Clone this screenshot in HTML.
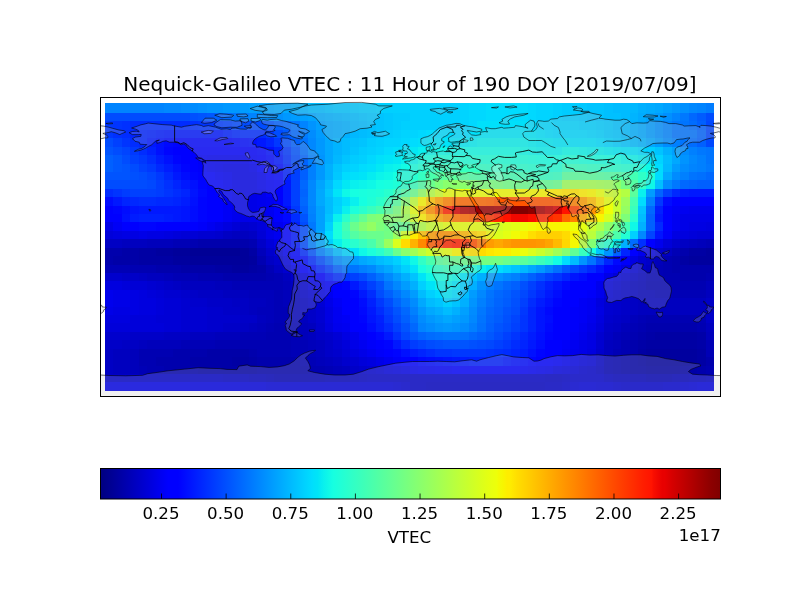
<!DOCTYPE html>
<html><head><meta charset="utf-8"><title>Nequick-Galileo VTEC</title>
<style>
html,body{margin:0;padding:0;background:#fff;}
body{width:800px;height:600px;overflow:hidden;}
svg{display:block;}
text{font-family:"DejaVu Sans","Liberation Sans",sans-serif;fill:#000;}
.t{font-size:20px;}
.l{font-size:16.67px;}
</style></head><body>
<svg width="800" height="600" viewBox="0 0 800 600">
<defs><linearGradient id="jet" x1="0" x2="1" y1="0" y2="0"><stop offset="0.0000" stop-color="#000080"/><stop offset="0.0156" stop-color="#000092"/><stop offset="0.0312" stop-color="#0000a4"/><stop offset="0.0469" stop-color="#0000b6"/><stop offset="0.0625" stop-color="#0000c8"/><stop offset="0.0781" stop-color="#0000da"/><stop offset="0.0938" stop-color="#0000ed"/><stop offset="0.1094" stop-color="#0000ff"/><stop offset="0.1100" stop-color="#0000ff"/><stop offset="0.1250" stop-color="#0000ff"/><stop offset="0.1406" stop-color="#0010ff"/><stop offset="0.1562" stop-color="#0020ff"/><stop offset="0.1719" stop-color="#0030ff"/><stop offset="0.1875" stop-color="#0040ff"/><stop offset="0.2031" stop-color="#0050ff"/><stop offset="0.2188" stop-color="#0060ff"/><stop offset="0.2344" stop-color="#0070ff"/><stop offset="0.2500" stop-color="#0080ff"/><stop offset="0.2656" stop-color="#0090ff"/><stop offset="0.2812" stop-color="#00a0ff"/><stop offset="0.2969" stop-color="#00b0ff"/><stop offset="0.3125" stop-color="#00c0ff"/><stop offset="0.3281" stop-color="#00d0ff"/><stop offset="0.3400" stop-color="#00dcfe"/><stop offset="0.3438" stop-color="#00e0fb"/><stop offset="0.3500" stop-color="#00e4f8"/><stop offset="0.3594" stop-color="#09f0ee"/><stop offset="0.3750" stop-color="#16ffe1"/><stop offset="0.3906" stop-color="#23ffd4"/><stop offset="0.4062" stop-color="#30ffc7"/><stop offset="0.4219" stop-color="#3cffba"/><stop offset="0.4375" stop-color="#49ffad"/><stop offset="0.4531" stop-color="#56ffa0"/><stop offset="0.4688" stop-color="#63ff94"/><stop offset="0.4844" stop-color="#70ff87"/><stop offset="0.5000" stop-color="#7dff7a"/><stop offset="0.5156" stop-color="#8aff6d"/><stop offset="0.5312" stop-color="#97ff60"/><stop offset="0.5469" stop-color="#a4ff53"/><stop offset="0.5625" stop-color="#b1ff46"/><stop offset="0.5781" stop-color="#beff39"/><stop offset="0.5938" stop-color="#caff2c"/><stop offset="0.6094" stop-color="#d7ff1f"/><stop offset="0.6250" stop-color="#e4ff13"/><stop offset="0.6400" stop-color="#eeff09"/><stop offset="0.6406" stop-color="#f1fc06"/><stop offset="0.6500" stop-color="#f8f500"/><stop offset="0.6562" stop-color="#feed00"/><stop offset="0.6600" stop-color="#feed00"/><stop offset="0.6719" stop-color="#ffde00"/><stop offset="0.6875" stop-color="#ffd000"/><stop offset="0.7031" stop-color="#ffc100"/><stop offset="0.7188" stop-color="#ffb200"/><stop offset="0.7344" stop-color="#ffa300"/><stop offset="0.7500" stop-color="#ff9400"/><stop offset="0.7656" stop-color="#ff8600"/><stop offset="0.7812" stop-color="#ff7700"/><stop offset="0.7969" stop-color="#ff6800"/><stop offset="0.8125" stop-color="#ff5900"/><stop offset="0.8281" stop-color="#ff4a00"/><stop offset="0.8438" stop-color="#ff3b00"/><stop offset="0.8594" stop-color="#ff2d00"/><stop offset="0.8750" stop-color="#ff1e00"/><stop offset="0.8900" stop-color="#ff1300"/><stop offset="0.8906" stop-color="#fa0f00"/><stop offset="0.9062" stop-color="#e80000"/><stop offset="0.9100" stop-color="#e80000"/><stop offset="0.9219" stop-color="#d60000"/><stop offset="0.9375" stop-color="#c40000"/><stop offset="0.9531" stop-color="#b20000"/><stop offset="0.9688" stop-color="#9f0000"/><stop offset="0.9844" stop-color="#8d0000"/><stop offset="1.0000" stop-color="#800000"/></linearGradient>
<clipPath id="mapclip"><rect x="100.5" y="97.5" width="620" height="299"/></clipPath>
<clipPath id="heatclip"><rect x="105" y="103" width="609" height="288"/></clipPath></defs>
<rect width="800" height="600" fill="#fff"/>

<g id="heat" clip-path="url(#heatclip)" shape-rendering="crispEdges">
<rect x="105" y="103" width="59" height="10" fill="#0084ff"/>
<rect x="164" y="103" width="17" height="10" fill="#0088ff"/>
<rect x="181" y="103" width="17" height="10" fill="#008cff"/>
<rect x="198" y="103" width="9" height="10" fill="#0090ff"/>
<rect x="207" y="103" width="16" height="10" fill="#0094ff"/>
<rect x="223" y="103" width="17" height="10" fill="#0098ff"/>
<rect x="240" y="103" width="9" height="10" fill="#009cff"/>
<rect x="249" y="103" width="17" height="10" fill="#00a0ff"/>
<rect x="266" y="103" width="8" height="10" fill="#00a4ff"/>
<rect x="274" y="103" width="17" height="10" fill="#00a8ff"/>
<rect x="291" y="103" width="9" height="10" fill="#00b0ff"/>
<rect x="300" y="103" width="8" height="10" fill="#00b4ff"/>
<rect x="308" y="103" width="17" height="10" fill="#00bcff"/>
<rect x="325" y="103" width="8" height="10" fill="#00c0ff"/>
<rect x="333" y="103" width="17" height="10" fill="#00c4ff"/>
<rect x="350" y="103" width="9" height="10" fill="#00c8ff"/>
<rect x="359" y="103" width="17" height="10" fill="#00ccff"/>
<rect x="376" y="103" width="84" height="10" fill="#00d0ff"/>
<rect x="460" y="103" width="9" height="10" fill="#00d4ff"/>
<rect x="469" y="103" width="17" height="10" fill="#00d8ff"/>
<rect x="486" y="103" width="42" height="10" fill="#00dcfe"/>
<rect x="528" y="103" width="8" height="10" fill="#00d8ff"/>
<rect x="536" y="103" width="17" height="10" fill="#00d4ff"/>
<rect x="553" y="103" width="9" height="10" fill="#00d0ff"/>
<rect x="562" y="103" width="17" height="10" fill="#00ccff"/>
<rect x="579" y="103" width="8" height="10" fill="#00c8ff"/>
<rect x="587" y="103" width="17" height="10" fill="#00c4ff"/>
<rect x="604" y="103" width="9" height="10" fill="#00c0ff"/>
<rect x="613" y="103" width="17" height="10" fill="#00bcff"/>
<rect x="630" y="103" width="8" height="10" fill="#00b8ff"/>
<rect x="638" y="103" width="8" height="10" fill="#00b0ff"/>
<rect x="646" y="103" width="9" height="10" fill="#00acff"/>
<rect x="655" y="103" width="8" height="10" fill="#00a8ff"/>
<rect x="663" y="103" width="9" height="10" fill="#00a0ff"/>
<rect x="672" y="103" width="8" height="10" fill="#0098ff"/>
<rect x="680" y="103" width="9" height="10" fill="#0090ff"/>
<rect x="689" y="103" width="8" height="10" fill="#0088ff"/>
<rect x="697" y="103" width="9" height="10" fill="#0084ff"/>
<rect x="706" y="103" width="8" height="10" fill="#007cff"/>
<rect x="105" y="113" width="85" height="8" fill="#004cff"/>
<rect x="190" y="113" width="8" height="8" fill="#0050ff"/>
<rect x="198" y="113" width="9" height="8" fill="#0054ff"/>
<rect x="207" y="113" width="8" height="8" fill="#0058ff"/>
<rect x="215" y="113" width="8" height="8" fill="#0060ff"/>
<rect x="223" y="113" width="9" height="8" fill="#0068ff"/>
<rect x="232" y="113" width="8" height="8" fill="#0074ff"/>
<rect x="240" y="113" width="9" height="8" fill="#007cff"/>
<rect x="249" y="113" width="8" height="8" fill="#0084ff"/>
<rect x="257" y="113" width="9" height="8" fill="#0088ff"/>
<rect x="266" y="113" width="8" height="8" fill="#008cff"/>
<rect x="274" y="113" width="9" height="8" fill="#0090ff"/>
<rect x="283" y="113" width="8" height="8" fill="#0098ff"/>
<rect x="291" y="113" width="9" height="8" fill="#009cff"/>
<rect x="300" y="113" width="8" height="8" fill="#00a0ff"/>
<rect x="308" y="113" width="8" height="8" fill="#00a4ff"/>
<rect x="316" y="113" width="9" height="8" fill="#00acff"/>
<rect x="325" y="113" width="8" height="8" fill="#00b0ff"/>
<rect x="333" y="113" width="9" height="8" fill="#00b4ff"/>
<rect x="342" y="113" width="8" height="8" fill="#00b8ff"/>
<rect x="350" y="113" width="9" height="8" fill="#00bcff"/>
<rect x="359" y="113" width="8" height="8" fill="#00c0ff"/>
<rect x="367" y="113" width="17" height="8" fill="#00c4ff"/>
<rect x="384" y="113" width="9" height="8" fill="#00c8ff"/>
<rect x="393" y="113" width="17" height="8" fill="#00ccff"/>
<rect x="410" y="113" width="50" height="8" fill="#00d0ff"/>
<rect x="460" y="113" width="9" height="8" fill="#00d4ff"/>
<rect x="469" y="113" width="17" height="8" fill="#00d8ff"/>
<rect x="486" y="113" width="42" height="8" fill="#00dcfe"/>
<rect x="528" y="113" width="8" height="8" fill="#00d8ff"/>
<rect x="536" y="113" width="17" height="8" fill="#00d4ff"/>
<rect x="553" y="113" width="9" height="8" fill="#00d0ff"/>
<rect x="562" y="113" width="17" height="8" fill="#00ccff"/>
<rect x="579" y="113" width="8" height="8" fill="#00c8ff"/>
<rect x="587" y="113" width="17" height="8" fill="#00c4ff"/>
<rect x="604" y="113" width="17" height="8" fill="#00c0ff"/>
<rect x="621" y="113" width="9" height="8" fill="#00bcff"/>
<rect x="630" y="113" width="8" height="8" fill="#00b4ff"/>
<rect x="638" y="113" width="8" height="8" fill="#00acff"/>
<rect x="646" y="113" width="9" height="8" fill="#00a4ff"/>
<rect x="655" y="113" width="8" height="8" fill="#009cff"/>
<rect x="663" y="113" width="9" height="8" fill="#0090ff"/>
<rect x="672" y="113" width="8" height="8" fill="#0084ff"/>
<rect x="680" y="113" width="9" height="8" fill="#0078ff"/>
<rect x="689" y="113" width="8" height="8" fill="#0068ff"/>
<rect x="697" y="113" width="9" height="8" fill="#005cff"/>
<rect x="706" y="113" width="8" height="8" fill="#004cff"/>
<rect x="105" y="121" width="8" height="9" fill="#0038ff"/>
<rect x="113" y="121" width="9" height="9" fill="#0034ff"/>
<rect x="122" y="121" width="8" height="9" fill="#0030ff"/>
<rect x="130" y="121" width="60" height="9" fill="#002cff"/>
<rect x="190" y="121" width="8" height="9" fill="#0030ff"/>
<rect x="198" y="121" width="17" height="9" fill="#0034ff"/>
<rect x="215" y="121" width="8" height="9" fill="#003cff"/>
<rect x="223" y="121" width="9" height="9" fill="#0040ff"/>
<rect x="232" y="121" width="8" height="9" fill="#0048ff"/>
<rect x="240" y="121" width="26" height="9" fill="#004cff"/>
<rect x="266" y="121" width="8" height="9" fill="#0054ff"/>
<rect x="274" y="121" width="9" height="9" fill="#0060ff"/>
<rect x="283" y="121" width="8" height="9" fill="#0068ff"/>
<rect x="291" y="121" width="9" height="9" fill="#0074ff"/>
<rect x="300" y="121" width="8" height="9" fill="#0084ff"/>
<rect x="308" y="121" width="8" height="9" fill="#0094ff"/>
<rect x="316" y="121" width="9" height="9" fill="#00a0ff"/>
<rect x="325" y="121" width="8" height="9" fill="#00a8ff"/>
<rect x="333" y="121" width="9" height="9" fill="#00acff"/>
<rect x="342" y="121" width="8" height="9" fill="#00b0ff"/>
<rect x="350" y="121" width="9" height="9" fill="#00b8ff"/>
<rect x="359" y="121" width="8" height="9" fill="#00bcff"/>
<rect x="367" y="121" width="9" height="9" fill="#00c0ff"/>
<rect x="376" y="121" width="8" height="9" fill="#00c4ff"/>
<rect x="384" y="121" width="9" height="9" fill="#00c8ff"/>
<rect x="393" y="121" width="8" height="9" fill="#00ccff"/>
<rect x="401" y="121" width="59" height="9" fill="#00d0ff"/>
<rect x="460" y="121" width="9" height="9" fill="#00d4ff"/>
<rect x="469" y="121" width="8" height="9" fill="#00d8ff"/>
<rect x="477" y="121" width="51" height="9" fill="#00e0fb"/>
<rect x="528" y="121" width="8" height="9" fill="#00dcfe"/>
<rect x="536" y="121" width="17" height="9" fill="#00d8ff"/>
<rect x="553" y="121" width="26" height="9" fill="#00d4ff"/>
<rect x="579" y="121" width="17" height="9" fill="#00d0ff"/>
<rect x="596" y="121" width="8" height="9" fill="#00ccff"/>
<rect x="604" y="121" width="9" height="9" fill="#00c8ff"/>
<rect x="613" y="121" width="8" height="9" fill="#00c0ff"/>
<rect x="621" y="121" width="9" height="9" fill="#00bcff"/>
<rect x="630" y="121" width="8" height="9" fill="#00b0ff"/>
<rect x="638" y="121" width="8" height="9" fill="#00a8ff"/>
<rect x="646" y="121" width="9" height="9" fill="#009cff"/>
<rect x="655" y="121" width="8" height="9" fill="#0090ff"/>
<rect x="663" y="121" width="9" height="9" fill="#0084ff"/>
<rect x="672" y="121" width="8" height="9" fill="#0078ff"/>
<rect x="680" y="121" width="9" height="9" fill="#0074ff"/>
<rect x="689" y="121" width="8" height="9" fill="#006cff"/>
<rect x="697" y="121" width="9" height="9" fill="#0060ff"/>
<rect x="706" y="121" width="8" height="9" fill="#0048ff"/>
<rect x="105" y="130" width="8" height="8" fill="#0038ff"/>
<rect x="113" y="130" width="9" height="8" fill="#0030ff"/>
<rect x="122" y="130" width="8" height="8" fill="#002cff"/>
<rect x="130" y="130" width="17" height="8" fill="#0024ff"/>
<rect x="147" y="130" width="9" height="8" fill="#0020ff"/>
<rect x="156" y="130" width="8" height="8" fill="#001cff"/>
<rect x="164" y="130" width="59" height="8" fill="#0018ff"/>
<rect x="223" y="130" width="9" height="8" fill="#0020ff"/>
<rect x="232" y="130" width="8" height="8" fill="#0028ff"/>
<rect x="240" y="130" width="26" height="8" fill="#002cff"/>
<rect x="266" y="130" width="8" height="8" fill="#0038ff"/>
<rect x="274" y="130" width="9" height="8" fill="#004cff"/>
<rect x="283" y="130" width="8" height="8" fill="#0058ff"/>
<rect x="291" y="130" width="9" height="8" fill="#0068ff"/>
<rect x="300" y="130" width="8" height="8" fill="#007cff"/>
<rect x="308" y="130" width="8" height="8" fill="#008cff"/>
<rect x="316" y="130" width="9" height="8" fill="#009cff"/>
<rect x="325" y="130" width="8" height="8" fill="#00a8ff"/>
<rect x="333" y="130" width="9" height="8" fill="#00acff"/>
<rect x="342" y="130" width="8" height="8" fill="#00b0ff"/>
<rect x="350" y="130" width="9" height="8" fill="#00b8ff"/>
<rect x="359" y="130" width="8" height="8" fill="#00bcff"/>
<rect x="367" y="130" width="9" height="8" fill="#00c0ff"/>
<rect x="376" y="130" width="8" height="8" fill="#00c4ff"/>
<rect x="384" y="130" width="9" height="8" fill="#00ccff"/>
<rect x="393" y="130" width="8" height="8" fill="#00d0ff"/>
<rect x="401" y="130" width="17" height="8" fill="#00d4ff"/>
<rect x="418" y="130" width="8" height="8" fill="#00d8ff"/>
<rect x="426" y="130" width="43" height="8" fill="#00dcfe"/>
<rect x="469" y="130" width="8" height="8" fill="#00e0fb"/>
<rect x="477" y="130" width="59" height="8" fill="#00e4f8"/>
<rect x="536" y="130" width="9" height="8" fill="#00e0fb"/>
<rect x="545" y="130" width="8" height="8" fill="#00dcfe"/>
<rect x="553" y="130" width="34" height="8" fill="#00d8ff"/>
<rect x="587" y="130" width="9" height="8" fill="#00d4ff"/>
<rect x="596" y="130" width="8" height="8" fill="#00d0ff"/>
<rect x="604" y="130" width="9" height="8" fill="#00c8ff"/>
<rect x="613" y="130" width="8" height="8" fill="#00c4ff"/>
<rect x="621" y="130" width="9" height="8" fill="#00bcff"/>
<rect x="630" y="130" width="8" height="8" fill="#00b0ff"/>
<rect x="638" y="130" width="8" height="8" fill="#00a8ff"/>
<rect x="646" y="130" width="9" height="8" fill="#009cff"/>
<rect x="655" y="130" width="8" height="8" fill="#0090ff"/>
<rect x="663" y="130" width="9" height="8" fill="#0084ff"/>
<rect x="672" y="130" width="25" height="8" fill="#0074ff"/>
<rect x="697" y="130" width="9" height="8" fill="#0064ff"/>
<rect x="706" y="130" width="8" height="8" fill="#0044ff"/>
<rect x="105" y="138" width="8" height="9" fill="#004cff"/>
<rect x="113" y="138" width="9" height="9" fill="#0040ff"/>
<rect x="122" y="138" width="8" height="9" fill="#0034ff"/>
<rect x="130" y="138" width="9" height="9" fill="#002cff"/>
<rect x="139" y="138" width="8" height="9" fill="#0024ff"/>
<rect x="147" y="138" width="9" height="9" fill="#0018ff"/>
<rect x="156" y="138" width="8" height="9" fill="#0010ff"/>
<rect x="164" y="138" width="9" height="9" fill="#0008ff"/>
<rect x="173" y="138" width="59" height="9" fill="#0004ff"/>
<rect x="232" y="138" width="8" height="9" fill="#0008ff"/>
<rect x="240" y="138" width="9" height="9" fill="#000cff"/>
<rect x="249" y="138" width="8" height="9" fill="#0010ff"/>
<rect x="257" y="138" width="9" height="9" fill="#0018ff"/>
<rect x="266" y="138" width="8" height="9" fill="#0024ff"/>
<rect x="274" y="138" width="9" height="9" fill="#0038ff"/>
<rect x="283" y="138" width="8" height="9" fill="#004cff"/>
<rect x="291" y="138" width="9" height="9" fill="#0060ff"/>
<rect x="300" y="138" width="8" height="9" fill="#0074ff"/>
<rect x="308" y="138" width="8" height="9" fill="#0088ff"/>
<rect x="316" y="138" width="9" height="9" fill="#0098ff"/>
<rect x="325" y="138" width="8" height="9" fill="#00a8ff"/>
<rect x="333" y="138" width="9" height="9" fill="#00b4ff"/>
<rect x="342" y="138" width="8" height="9" fill="#00bcff"/>
<rect x="350" y="138" width="9" height="9" fill="#00c0ff"/>
<rect x="359" y="138" width="8" height="9" fill="#00c4ff"/>
<rect x="367" y="138" width="9" height="9" fill="#00ccff"/>
<rect x="376" y="138" width="8" height="9" fill="#00d0ff"/>
<rect x="384" y="138" width="17" height="9" fill="#00d4ff"/>
<rect x="401" y="138" width="9" height="9" fill="#00d8ff"/>
<rect x="410" y="138" width="8" height="9" fill="#00dcfe"/>
<rect x="418" y="138" width="8" height="9" fill="#00e0fb"/>
<rect x="426" y="138" width="34" height="9" fill="#00e4f8"/>
<rect x="460" y="138" width="9" height="9" fill="#02e8f4"/>
<rect x="469" y="138" width="8" height="9" fill="#06ecf1"/>
<rect x="477" y="138" width="51" height="9" fill="#09f0ee"/>
<rect x="528" y="138" width="8" height="9" fill="#06ecf1"/>
<rect x="536" y="138" width="17" height="9" fill="#02e8f4"/>
<rect x="553" y="138" width="17" height="9" fill="#00e4f8"/>
<rect x="570" y="138" width="26" height="9" fill="#00e0fb"/>
<rect x="596" y="138" width="8" height="9" fill="#00dcfe"/>
<rect x="604" y="138" width="9" height="9" fill="#00d4ff"/>
<rect x="613" y="138" width="8" height="9" fill="#00ccff"/>
<rect x="621" y="138" width="9" height="9" fill="#00c4ff"/>
<rect x="630" y="138" width="8" height="9" fill="#00bcff"/>
<rect x="638" y="138" width="8" height="9" fill="#00b4ff"/>
<rect x="646" y="138" width="9" height="9" fill="#00a8ff"/>
<rect x="655" y="138" width="8" height="9" fill="#009cff"/>
<rect x="663" y="138" width="9" height="9" fill="#008cff"/>
<rect x="672" y="138" width="8" height="9" fill="#0080ff"/>
<rect x="680" y="138" width="9" height="9" fill="#0074ff"/>
<rect x="689" y="138" width="8" height="9" fill="#006cff"/>
<rect x="697" y="138" width="9" height="9" fill="#0060ff"/>
<rect x="706" y="138" width="8" height="9" fill="#0048ff"/>
<rect x="105" y="147" width="8" height="8" fill="#0054ff"/>
<rect x="113" y="147" width="9" height="8" fill="#004cff"/>
<rect x="122" y="147" width="8" height="8" fill="#0044ff"/>
<rect x="130" y="147" width="9" height="8" fill="#0038ff"/>
<rect x="139" y="147" width="8" height="8" fill="#002cff"/>
<rect x="147" y="147" width="9" height="8" fill="#0020ff"/>
<rect x="156" y="147" width="8" height="8" fill="#0010ff"/>
<rect x="164" y="147" width="9" height="8" fill="#0004ff"/>
<rect x="173" y="147" width="84" height="8" fill="#0000ff"/>
<rect x="257" y="147" width="9" height="8" fill="#0004ff"/>
<rect x="266" y="147" width="8" height="8" fill="#0010ff"/>
<rect x="274" y="147" width="9" height="8" fill="#0020ff"/>
<rect x="283" y="147" width="8" height="8" fill="#0038ff"/>
<rect x="291" y="147" width="9" height="8" fill="#0054ff"/>
<rect x="300" y="147" width="8" height="8" fill="#0070ff"/>
<rect x="308" y="147" width="8" height="8" fill="#0088ff"/>
<rect x="316" y="147" width="9" height="8" fill="#0098ff"/>
<rect x="325" y="147" width="8" height="8" fill="#00a8ff"/>
<rect x="333" y="147" width="9" height="8" fill="#00b4ff"/>
<rect x="342" y="147" width="8" height="8" fill="#00bcff"/>
<rect x="350" y="147" width="9" height="8" fill="#00c4ff"/>
<rect x="359" y="147" width="8" height="8" fill="#00ccff"/>
<rect x="367" y="147" width="9" height="8" fill="#00d0ff"/>
<rect x="376" y="147" width="8" height="8" fill="#00d4ff"/>
<rect x="384" y="147" width="9" height="8" fill="#00dcfe"/>
<rect x="393" y="147" width="8" height="8" fill="#00e0fb"/>
<rect x="401" y="147" width="9" height="8" fill="#00e4f8"/>
<rect x="410" y="147" width="8" height="8" fill="#02e8f4"/>
<rect x="418" y="147" width="8" height="8" fill="#09f0ee"/>
<rect x="426" y="147" width="9" height="8" fill="#0cf4eb"/>
<rect x="435" y="147" width="25" height="8" fill="#0ff8e7"/>
<rect x="460" y="147" width="60" height="8" fill="#13fce4"/>
<rect x="520" y="147" width="8" height="8" fill="#0ff8e7"/>
<rect x="528" y="147" width="8" height="8" fill="#0cf4eb"/>
<rect x="536" y="147" width="26" height="8" fill="#09f0ee"/>
<rect x="562" y="147" width="17" height="8" fill="#0ff8e7"/>
<rect x="579" y="147" width="8" height="8" fill="#0cf4eb"/>
<rect x="587" y="147" width="17" height="8" fill="#09f0ee"/>
<rect x="604" y="147" width="9" height="8" fill="#06ecf1"/>
<rect x="613" y="147" width="8" height="8" fill="#02e8f4"/>
<rect x="621" y="147" width="9" height="8" fill="#00e4f8"/>
<rect x="630" y="147" width="8" height="8" fill="#00e0fb"/>
<rect x="638" y="147" width="8" height="8" fill="#00d8ff"/>
<rect x="646" y="147" width="9" height="8" fill="#00d0ff"/>
<rect x="655" y="147" width="8" height="8" fill="#00c4ff"/>
<rect x="663" y="147" width="9" height="8" fill="#00b0ff"/>
<rect x="672" y="147" width="8" height="8" fill="#00a0ff"/>
<rect x="680" y="147" width="9" height="8" fill="#008cff"/>
<rect x="689" y="147" width="8" height="8" fill="#0080ff"/>
<rect x="697" y="147" width="9" height="8" fill="#0078ff"/>
<rect x="706" y="147" width="8" height="8" fill="#0074ff"/>
<rect x="105" y="155" width="8" height="9" fill="#0060ff"/>
<rect x="113" y="155" width="9" height="9" fill="#0058ff"/>
<rect x="122" y="155" width="8" height="9" fill="#004cff"/>
<rect x="130" y="155" width="9" height="9" fill="#0040ff"/>
<rect x="139" y="155" width="8" height="9" fill="#0038ff"/>
<rect x="147" y="155" width="9" height="9" fill="#002cff"/>
<rect x="156" y="155" width="8" height="9" fill="#001cff"/>
<rect x="164" y="155" width="9" height="9" fill="#0010ff"/>
<rect x="173" y="155" width="8" height="9" fill="#0004ff"/>
<rect x="181" y="155" width="17" height="9" fill="#0000ff"/>
<rect x="198" y="155" width="9" height="9" fill="#0000f6"/>
<rect x="207" y="155" width="42" height="9" fill="#0000f1"/>
<rect x="249" y="155" width="8" height="9" fill="#0000fa"/>
<rect x="257" y="155" width="9" height="9" fill="#0000ff"/>
<rect x="266" y="155" width="8" height="9" fill="#0008ff"/>
<rect x="274" y="155" width="9" height="9" fill="#0018ff"/>
<rect x="283" y="155" width="8" height="9" fill="#0030ff"/>
<rect x="291" y="155" width="9" height="9" fill="#004cff"/>
<rect x="300" y="155" width="8" height="9" fill="#0064ff"/>
<rect x="308" y="155" width="8" height="9" fill="#0080ff"/>
<rect x="316" y="155" width="9" height="9" fill="#0094ff"/>
<rect x="325" y="155" width="8" height="9" fill="#00a8ff"/>
<rect x="333" y="155" width="9" height="9" fill="#00b8ff"/>
<rect x="342" y="155" width="8" height="9" fill="#00c4ff"/>
<rect x="350" y="155" width="9" height="9" fill="#00ccff"/>
<rect x="359" y="155" width="8" height="9" fill="#00d0ff"/>
<rect x="367" y="155" width="9" height="9" fill="#00d8ff"/>
<rect x="376" y="155" width="8" height="9" fill="#00e0fb"/>
<rect x="384" y="155" width="9" height="9" fill="#00e4f8"/>
<rect x="393" y="155" width="8" height="9" fill="#02e8f4"/>
<rect x="401" y="155" width="9" height="9" fill="#09f0ee"/>
<rect x="410" y="155" width="8" height="9" fill="#0cf4eb"/>
<rect x="418" y="155" width="8" height="9" fill="#16ffe1"/>
<rect x="426" y="155" width="9" height="9" fill="#1cffdb"/>
<rect x="435" y="155" width="76" height="9" fill="#1fffd7"/>
<rect x="511" y="155" width="17" height="9" fill="#1cffdb"/>
<rect x="528" y="155" width="8" height="9" fill="#19ffde"/>
<rect x="536" y="155" width="26" height="9" fill="#16ffe1"/>
<rect x="562" y="155" width="17" height="9" fill="#1fffd7"/>
<rect x="579" y="155" width="8" height="9" fill="#1cffdb"/>
<rect x="587" y="155" width="17" height="9" fill="#19ffde"/>
<rect x="604" y="155" width="17" height="9" fill="#16ffe1"/>
<rect x="621" y="155" width="9" height="9" fill="#0ff8e7"/>
<rect x="630" y="155" width="8" height="9" fill="#0cf4eb"/>
<rect x="638" y="155" width="8" height="9" fill="#06ecf1"/>
<rect x="646" y="155" width="9" height="9" fill="#00e4f8"/>
<rect x="655" y="155" width="8" height="9" fill="#00d4ff"/>
<rect x="663" y="155" width="9" height="9" fill="#00bcff"/>
<rect x="672" y="155" width="8" height="9" fill="#00a8ff"/>
<rect x="680" y="155" width="9" height="9" fill="#0094ff"/>
<rect x="689" y="155" width="8" height="9" fill="#0088ff"/>
<rect x="697" y="155" width="9" height="9" fill="#0080ff"/>
<rect x="706" y="155" width="8" height="9" fill="#0074ff"/>
<rect x="105" y="164" width="8" height="8" fill="#0060ff"/>
<rect x="113" y="164" width="9" height="8" fill="#0058ff"/>
<rect x="122" y="164" width="8" height="8" fill="#0054ff"/>
<rect x="130" y="164" width="9" height="8" fill="#004cff"/>
<rect x="139" y="164" width="8" height="8" fill="#0040ff"/>
<rect x="147" y="164" width="9" height="8" fill="#0038ff"/>
<rect x="156" y="164" width="8" height="8" fill="#0028ff"/>
<rect x="164" y="164" width="9" height="8" fill="#001cff"/>
<rect x="173" y="164" width="8" height="8" fill="#0010ff"/>
<rect x="181" y="164" width="9" height="8" fill="#0004ff"/>
<rect x="190" y="164" width="8" height="8" fill="#0000ff"/>
<rect x="198" y="164" width="9" height="8" fill="#0000fa"/>
<rect x="207" y="164" width="8" height="8" fill="#0000f1"/>
<rect x="215" y="164" width="8" height="8" fill="#0000ed"/>
<rect x="223" y="164" width="26" height="8" fill="#0000e8"/>
<rect x="249" y="164" width="8" height="8" fill="#0000ed"/>
<rect x="257" y="164" width="17" height="8" fill="#0000ff"/>
<rect x="274" y="164" width="9" height="8" fill="#000cff"/>
<rect x="283" y="164" width="8" height="8" fill="#0024ff"/>
<rect x="291" y="164" width="9" height="8" fill="#0040ff"/>
<rect x="300" y="164" width="8" height="8" fill="#0060ff"/>
<rect x="308" y="164" width="8" height="8" fill="#0080ff"/>
<rect x="316" y="164" width="9" height="8" fill="#0098ff"/>
<rect x="325" y="164" width="8" height="8" fill="#00b0ff"/>
<rect x="333" y="164" width="9" height="8" fill="#00c4ff"/>
<rect x="342" y="164" width="8" height="8" fill="#00d0ff"/>
<rect x="350" y="164" width="9" height="8" fill="#00d4ff"/>
<rect x="359" y="164" width="8" height="8" fill="#00dcfe"/>
<rect x="367" y="164" width="9" height="8" fill="#00e0fb"/>
<rect x="376" y="164" width="8" height="8" fill="#02e8f4"/>
<rect x="384" y="164" width="9" height="8" fill="#09f0ee"/>
<rect x="393" y="164" width="8" height="8" fill="#0cf4eb"/>
<rect x="401" y="164" width="9" height="8" fill="#13fce4"/>
<rect x="410" y="164" width="8" height="8" fill="#19ffde"/>
<rect x="418" y="164" width="8" height="8" fill="#26ffd1"/>
<rect x="426" y="164" width="9" height="8" fill="#30ffc7"/>
<rect x="435" y="164" width="25" height="8" fill="#39ffbe"/>
<rect x="460" y="164" width="17" height="8" fill="#36ffc1"/>
<rect x="477" y="164" width="9" height="8" fill="#33ffc4"/>
<rect x="486" y="164" width="17" height="8" fill="#30ffc7"/>
<rect x="503" y="164" width="8" height="8" fill="#2cffca"/>
<rect x="511" y="164" width="17" height="8" fill="#29ffce"/>
<rect x="528" y="164" width="8" height="8" fill="#26ffd1"/>
<rect x="536" y="164" width="9" height="8" fill="#23ffd4"/>
<rect x="545" y="164" width="8" height="8" fill="#1fffd7"/>
<rect x="553" y="164" width="9" height="8" fill="#23ffd4"/>
<rect x="562" y="164" width="17" height="8" fill="#39ffbe"/>
<rect x="579" y="164" width="8" height="8" fill="#36ffc1"/>
<rect x="587" y="164" width="9" height="8" fill="#33ffc4"/>
<rect x="596" y="164" width="8" height="8" fill="#30ffc7"/>
<rect x="604" y="164" width="9" height="8" fill="#2cffca"/>
<rect x="613" y="164" width="8" height="8" fill="#29ffce"/>
<rect x="621" y="164" width="9" height="8" fill="#26ffd1"/>
<rect x="630" y="164" width="8" height="8" fill="#1fffd7"/>
<rect x="638" y="164" width="8" height="8" fill="#19ffde"/>
<rect x="646" y="164" width="9" height="8" fill="#0ff8e7"/>
<rect x="655" y="164" width="8" height="8" fill="#00dcfe"/>
<rect x="663" y="164" width="9" height="8" fill="#00b8ff"/>
<rect x="672" y="164" width="8" height="8" fill="#009cff"/>
<rect x="680" y="164" width="9" height="8" fill="#008cff"/>
<rect x="689" y="164" width="8" height="8" fill="#0084ff"/>
<rect x="697" y="164" width="9" height="8" fill="#0080ff"/>
<rect x="706" y="164" width="8" height="8" fill="#0078ff"/>
<rect x="105" y="172" width="25" height="8" fill="#0054ff"/>
<rect x="130" y="172" width="9" height="8" fill="#0050ff"/>
<rect x="139" y="172" width="8" height="8" fill="#004cff"/>
<rect x="147" y="172" width="9" height="8" fill="#0044ff"/>
<rect x="156" y="172" width="8" height="8" fill="#0038ff"/>
<rect x="164" y="172" width="9" height="8" fill="#0028ff"/>
<rect x="173" y="172" width="8" height="8" fill="#0018ff"/>
<rect x="181" y="172" width="9" height="8" fill="#000cff"/>
<rect x="190" y="172" width="8" height="8" fill="#0004ff"/>
<rect x="198" y="172" width="17" height="8" fill="#0000ff"/>
<rect x="215" y="172" width="8" height="8" fill="#0000f6"/>
<rect x="223" y="172" width="9" height="8" fill="#0000f1"/>
<rect x="232" y="172" width="25" height="8" fill="#0000e8"/>
<rect x="257" y="172" width="9" height="8" fill="#0000f1"/>
<rect x="266" y="172" width="8" height="8" fill="#0000ff"/>
<rect x="274" y="172" width="9" height="8" fill="#0004ff"/>
<rect x="283" y="172" width="8" height="8" fill="#0020ff"/>
<rect x="291" y="172" width="9" height="8" fill="#0040ff"/>
<rect x="300" y="172" width="8" height="8" fill="#0060ff"/>
<rect x="308" y="172" width="8" height="8" fill="#0080ff"/>
<rect x="316" y="172" width="9" height="8" fill="#0098ff"/>
<rect x="325" y="172" width="8" height="8" fill="#00b0ff"/>
<rect x="333" y="172" width="9" height="8" fill="#00c8ff"/>
<rect x="342" y="172" width="8" height="8" fill="#00dcfe"/>
<rect x="350" y="172" width="9" height="8" fill="#00e0fb"/>
<rect x="359" y="172" width="8" height="8" fill="#00e4f8"/>
<rect x="367" y="172" width="9" height="8" fill="#06ecf1"/>
<rect x="376" y="172" width="8" height="8" fill="#0cf4eb"/>
<rect x="384" y="172" width="9" height="8" fill="#0ff8e7"/>
<rect x="393" y="172" width="8" height="8" fill="#16ffe1"/>
<rect x="401" y="172" width="9" height="8" fill="#1cffdb"/>
<rect x="410" y="172" width="8" height="8" fill="#26ffd1"/>
<rect x="418" y="172" width="8" height="8" fill="#36ffc1"/>
<rect x="426" y="172" width="9" height="8" fill="#49ffad"/>
<rect x="435" y="172" width="8" height="8" fill="#53ffa4"/>
<rect x="443" y="172" width="17" height="8" fill="#5aff9d"/>
<rect x="460" y="172" width="9" height="8" fill="#56ffa0"/>
<rect x="469" y="172" width="8" height="8" fill="#50ffa7"/>
<rect x="477" y="172" width="9" height="8" fill="#4dffaa"/>
<rect x="486" y="172" width="8" height="8" fill="#49ffad"/>
<rect x="494" y="172" width="17" height="8" fill="#46ffb1"/>
<rect x="511" y="172" width="9" height="8" fill="#43ffb4"/>
<rect x="520" y="172" width="8" height="8" fill="#40ffb7"/>
<rect x="528" y="172" width="8" height="8" fill="#3cffba"/>
<rect x="536" y="172" width="9" height="8" fill="#36ffc1"/>
<rect x="545" y="172" width="8" height="8" fill="#33ffc4"/>
<rect x="553" y="172" width="9" height="8" fill="#36ffc1"/>
<rect x="562" y="172" width="34" height="8" fill="#5aff9d"/>
<rect x="596" y="172" width="8" height="8" fill="#56ffa0"/>
<rect x="604" y="172" width="17" height="8" fill="#53ffa4"/>
<rect x="621" y="172" width="9" height="8" fill="#49ffad"/>
<rect x="630" y="172" width="8" height="8" fill="#43ffb4"/>
<rect x="638" y="172" width="8" height="8" fill="#30ffc7"/>
<rect x="646" y="172" width="9" height="8" fill="#1fffd7"/>
<rect x="655" y="172" width="8" height="8" fill="#00dcfe"/>
<rect x="663" y="172" width="9" height="8" fill="#00a8ff"/>
<rect x="672" y="172" width="8" height="8" fill="#008cff"/>
<rect x="680" y="172" width="9" height="8" fill="#0080ff"/>
<rect x="689" y="172" width="8" height="8" fill="#0074ff"/>
<rect x="697" y="172" width="9" height="8" fill="#0070ff"/>
<rect x="706" y="172" width="8" height="8" fill="#0068ff"/>
<rect x="105" y="180" width="42" height="9" fill="#004cff"/>
<rect x="147" y="180" width="9" height="9" fill="#0048ff"/>
<rect x="156" y="180" width="8" height="9" fill="#003cff"/>
<rect x="164" y="180" width="9" height="9" fill="#0030ff"/>
<rect x="173" y="180" width="8" height="9" fill="#0024ff"/>
<rect x="181" y="180" width="9" height="9" fill="#0018ff"/>
<rect x="190" y="180" width="8" height="9" fill="#0010ff"/>
<rect x="198" y="180" width="9" height="9" fill="#0004ff"/>
<rect x="207" y="180" width="16" height="9" fill="#0000ff"/>
<rect x="223" y="180" width="9" height="9" fill="#0000f6"/>
<rect x="232" y="180" width="8" height="9" fill="#0000ed"/>
<rect x="240" y="180" width="17" height="9" fill="#0000e8"/>
<rect x="257" y="180" width="9" height="9" fill="#0000f1"/>
<rect x="266" y="180" width="8" height="9" fill="#0000fa"/>
<rect x="274" y="180" width="9" height="9" fill="#0000ff"/>
<rect x="283" y="180" width="8" height="9" fill="#0018ff"/>
<rect x="291" y="180" width="9" height="9" fill="#0040ff"/>
<rect x="300" y="180" width="8" height="9" fill="#0068ff"/>
<rect x="308" y="180" width="8" height="9" fill="#0088ff"/>
<rect x="316" y="180" width="9" height="9" fill="#00a4ff"/>
<rect x="325" y="180" width="8" height="9" fill="#00bcff"/>
<rect x="333" y="180" width="9" height="9" fill="#00d8ff"/>
<rect x="342" y="180" width="8" height="9" fill="#02e8f4"/>
<rect x="350" y="180" width="9" height="9" fill="#09f0ee"/>
<rect x="359" y="180" width="8" height="9" fill="#0cf4eb"/>
<rect x="367" y="180" width="9" height="9" fill="#0ff8e7"/>
<rect x="376" y="180" width="8" height="9" fill="#16ffe1"/>
<rect x="384" y="180" width="9" height="9" fill="#19ffde"/>
<rect x="393" y="180" width="8" height="9" fill="#1fffd7"/>
<rect x="401" y="180" width="9" height="9" fill="#2cffca"/>
<rect x="410" y="180" width="8" height="9" fill="#39ffbe"/>
<rect x="418" y="180" width="8" height="9" fill="#50ffa7"/>
<rect x="426" y="180" width="9" height="9" fill="#6aff8d"/>
<rect x="435" y="180" width="8" height="9" fill="#7dff7a"/>
<rect x="443" y="180" width="9" height="9" fill="#8aff6d"/>
<rect x="452" y="180" width="8" height="9" fill="#8dff6a"/>
<rect x="460" y="180" width="9" height="9" fill="#8aff6d"/>
<rect x="469" y="180" width="8" height="9" fill="#83ff73"/>
<rect x="477" y="180" width="9" height="9" fill="#7dff7a"/>
<rect x="486" y="180" width="8" height="9" fill="#7aff7d"/>
<rect x="494" y="180" width="9" height="9" fill="#77ff80"/>
<rect x="503" y="180" width="8" height="9" fill="#70ff87"/>
<rect x="511" y="180" width="9" height="9" fill="#6dff8a"/>
<rect x="520" y="180" width="8" height="9" fill="#6aff8d"/>
<rect x="528" y="180" width="8" height="9" fill="#66ff90"/>
<rect x="536" y="180" width="17" height="9" fill="#63ff94"/>
<rect x="553" y="180" width="9" height="9" fill="#6aff8d"/>
<rect x="562" y="180" width="8" height="9" fill="#9dff5a"/>
<rect x="570" y="180" width="26" height="9" fill="#a4ff53"/>
<rect x="596" y="180" width="8" height="9" fill="#a0ff56"/>
<rect x="604" y="180" width="9" height="9" fill="#9dff5a"/>
<rect x="613" y="180" width="8" height="9" fill="#8dff6a"/>
<rect x="621" y="180" width="9" height="9" fill="#73ff83"/>
<rect x="630" y="180" width="8" height="9" fill="#53ffa4"/>
<rect x="638" y="180" width="8" height="9" fill="#30ffc7"/>
<rect x="646" y="180" width="9" height="9" fill="#0ff8e7"/>
<rect x="655" y="180" width="8" height="9" fill="#00c0ff"/>
<rect x="663" y="180" width="9" height="9" fill="#008cff"/>
<rect x="672" y="180" width="8" height="9" fill="#0078ff"/>
<rect x="680" y="180" width="9" height="9" fill="#0068ff"/>
<rect x="689" y="180" width="8" height="9" fill="#0064ff"/>
<rect x="697" y="180" width="17" height="9" fill="#0060ff"/>
<rect x="105" y="189" width="8" height="8" fill="#002cff"/>
<rect x="113" y="189" width="9" height="8" fill="#0034ff"/>
<rect x="122" y="189" width="8" height="8" fill="#003cff"/>
<rect x="130" y="189" width="26" height="8" fill="#0040ff"/>
<rect x="156" y="189" width="8" height="8" fill="#003cff"/>
<rect x="164" y="189" width="9" height="8" fill="#0034ff"/>
<rect x="173" y="189" width="8" height="8" fill="#002cff"/>
<rect x="181" y="189" width="9" height="8" fill="#0024ff"/>
<rect x="190" y="189" width="8" height="8" fill="#0014ff"/>
<rect x="198" y="189" width="9" height="8" fill="#0008ff"/>
<rect x="207" y="189" width="16" height="8" fill="#0000ff"/>
<rect x="223" y="189" width="9" height="8" fill="#0000f6"/>
<rect x="232" y="189" width="8" height="8" fill="#0000ed"/>
<rect x="240" y="189" width="17" height="8" fill="#0000e8"/>
<rect x="257" y="189" width="9" height="8" fill="#0000ed"/>
<rect x="266" y="189" width="8" height="8" fill="#0000fa"/>
<rect x="274" y="189" width="9" height="8" fill="#0000ff"/>
<rect x="283" y="189" width="8" height="8" fill="#0018ff"/>
<rect x="291" y="189" width="9" height="8" fill="#0040ff"/>
<rect x="300" y="189" width="8" height="8" fill="#0064ff"/>
<rect x="308" y="189" width="8" height="8" fill="#0088ff"/>
<rect x="316" y="189" width="9" height="8" fill="#00a8ff"/>
<rect x="325" y="189" width="8" height="8" fill="#00c4ff"/>
<rect x="333" y="189" width="9" height="8" fill="#00e4f8"/>
<rect x="342" y="189" width="8" height="8" fill="#0ff8e7"/>
<rect x="350" y="189" width="9" height="8" fill="#16ffe1"/>
<rect x="359" y="189" width="8" height="8" fill="#19ffde"/>
<rect x="367" y="189" width="9" height="8" fill="#1cffdb"/>
<rect x="376" y="189" width="8" height="8" fill="#1fffd7"/>
<rect x="384" y="189" width="9" height="8" fill="#29ffce"/>
<rect x="393" y="189" width="8" height="8" fill="#39ffbe"/>
<rect x="401" y="189" width="9" height="8" fill="#50ffa7"/>
<rect x="410" y="189" width="8" height="8" fill="#6aff8d"/>
<rect x="418" y="189" width="8" height="8" fill="#90ff66"/>
<rect x="426" y="189" width="9" height="8" fill="#b4ff43"/>
<rect x="435" y="189" width="8" height="8" fill="#ceff29"/>
<rect x="443" y="189" width="9" height="8" fill="#e7ff0f"/>
<rect x="452" y="189" width="42" height="8" fill="#eeff09"/>
<rect x="494" y="189" width="26" height="8" fill="#f1fc06"/>
<rect x="520" y="189" width="16" height="8" fill="#f4f802"/>
<rect x="536" y="189" width="9" height="8" fill="#f8f500"/>
<rect x="545" y="189" width="8" height="8" fill="#feed00"/>
<rect x="553" y="189" width="9" height="8" fill="#ffea00"/>
<rect x="562" y="189" width="17" height="8" fill="#ffe200"/>
<rect x="579" y="189" width="8" height="8" fill="#feed00"/>
<rect x="587" y="189" width="9" height="8" fill="#f8f500"/>
<rect x="596" y="189" width="8" height="8" fill="#e7ff0f"/>
<rect x="604" y="189" width="9" height="8" fill="#ceff29"/>
<rect x="613" y="189" width="8" height="8" fill="#c4ff33"/>
<rect x="621" y="189" width="9" height="8" fill="#b4ff43"/>
<rect x="630" y="189" width="8" height="8" fill="#5aff9d"/>
<rect x="638" y="189" width="8" height="8" fill="#09f0ee"/>
<rect x="646" y="189" width="9" height="8" fill="#009cff"/>
<rect x="655" y="189" width="8" height="8" fill="#0064ff"/>
<rect x="663" y="189" width="9" height="8" fill="#0040ff"/>
<rect x="672" y="189" width="8" height="8" fill="#0028ff"/>
<rect x="680" y="189" width="9" height="8" fill="#001cff"/>
<rect x="689" y="189" width="25" height="8" fill="#0018ff"/>
<rect x="105" y="197" width="8" height="9" fill="#000cff"/>
<rect x="113" y="197" width="9" height="9" fill="#0018ff"/>
<rect x="122" y="197" width="8" height="9" fill="#0024ff"/>
<rect x="130" y="197" width="9" height="9" fill="#0028ff"/>
<rect x="139" y="197" width="17" height="9" fill="#002cff"/>
<rect x="156" y="197" width="17" height="9" fill="#0028ff"/>
<rect x="173" y="197" width="8" height="9" fill="#0024ff"/>
<rect x="181" y="197" width="9" height="9" fill="#001cff"/>
<rect x="190" y="197" width="8" height="9" fill="#0010ff"/>
<rect x="198" y="197" width="9" height="9" fill="#0004ff"/>
<rect x="207" y="197" width="16" height="9" fill="#0000ff"/>
<rect x="223" y="197" width="9" height="9" fill="#0000f6"/>
<rect x="232" y="197" width="8" height="9" fill="#0000ed"/>
<rect x="240" y="197" width="17" height="9" fill="#0000e8"/>
<rect x="257" y="197" width="9" height="9" fill="#0000ed"/>
<rect x="266" y="197" width="8" height="9" fill="#0000f1"/>
<rect x="274" y="197" width="9" height="9" fill="#0000ff"/>
<rect x="283" y="197" width="8" height="9" fill="#0018ff"/>
<rect x="291" y="197" width="9" height="9" fill="#0040ff"/>
<rect x="300" y="197" width="8" height="9" fill="#0068ff"/>
<rect x="308" y="197" width="8" height="9" fill="#0088ff"/>
<rect x="316" y="197" width="9" height="9" fill="#00a8ff"/>
<rect x="325" y="197" width="8" height="9" fill="#00bcff"/>
<rect x="333" y="197" width="9" height="9" fill="#00d0ff"/>
<rect x="342" y="197" width="8" height="9" fill="#00e0fb"/>
<rect x="350" y="197" width="9" height="9" fill="#09f0ee"/>
<rect x="359" y="197" width="8" height="9" fill="#16ffe1"/>
<rect x="367" y="197" width="9" height="9" fill="#1fffd7"/>
<rect x="376" y="197" width="8" height="9" fill="#2cffca"/>
<rect x="384" y="197" width="9" height="9" fill="#39ffbe"/>
<rect x="393" y="197" width="8" height="9" fill="#56ffa0"/>
<rect x="401" y="197" width="9" height="9" fill="#83ff73"/>
<rect x="410" y="197" width="8" height="9" fill="#beff39"/>
<rect x="418" y="197" width="8" height="9" fill="#f8f500"/>
<rect x="426" y="197" width="9" height="9" fill="#ffc400"/>
<rect x="435" y="197" width="8" height="9" fill="#ff9f00"/>
<rect x="443" y="197" width="9" height="9" fill="#ff8200"/>
<rect x="452" y="197" width="8" height="9" fill="#ff6f00"/>
<rect x="460" y="197" width="26" height="9" fill="#ff6800"/>
<rect x="486" y="197" width="8" height="9" fill="#ff6400"/>
<rect x="494" y="197" width="9" height="9" fill="#ff5900"/>
<rect x="503" y="197" width="50" height="9" fill="#ff5500"/>
<rect x="553" y="197" width="9" height="9" fill="#ff5900"/>
<rect x="562" y="197" width="8" height="9" fill="#ff7a00"/>
<rect x="570" y="197" width="9" height="9" fill="#ff8200"/>
<rect x="579" y="197" width="8" height="9" fill="#ff9f00"/>
<rect x="587" y="197" width="9" height="9" fill="#ffbd00"/>
<rect x="596" y="197" width="8" height="9" fill="#ffe200"/>
<rect x="604" y="197" width="9" height="9" fill="#e7ff0f"/>
<rect x="613" y="197" width="8" height="9" fill="#c7ff30"/>
<rect x="621" y="197" width="9" height="9" fill="#9dff5a"/>
<rect x="630" y="197" width="8" height="9" fill="#43ffb4"/>
<rect x="638" y="197" width="8" height="9" fill="#00dcfe"/>
<rect x="646" y="197" width="9" height="9" fill="#0080ff"/>
<rect x="655" y="197" width="8" height="9" fill="#0038ff"/>
<rect x="663" y="197" width="9" height="9" fill="#000cff"/>
<rect x="672" y="197" width="42" height="9" fill="#0000ff"/>
<rect x="105" y="206" width="8" height="8" fill="#0000ff"/>
<rect x="113" y="206" width="9" height="8" fill="#0004ff"/>
<rect x="122" y="206" width="8" height="8" fill="#000cff"/>
<rect x="130" y="206" width="9" height="8" fill="#0014ff"/>
<rect x="139" y="206" width="42" height="8" fill="#0018ff"/>
<rect x="181" y="206" width="9" height="8" fill="#0014ff"/>
<rect x="190" y="206" width="8" height="8" fill="#000cff"/>
<rect x="198" y="206" width="9" height="8" fill="#0004ff"/>
<rect x="207" y="206" width="16" height="8" fill="#0000ff"/>
<rect x="223" y="206" width="9" height="8" fill="#0000f6"/>
<rect x="232" y="206" width="8" height="8" fill="#0000ed"/>
<rect x="240" y="206" width="17" height="8" fill="#0000e8"/>
<rect x="257" y="206" width="9" height="8" fill="#0000ed"/>
<rect x="266" y="206" width="8" height="8" fill="#0000f1"/>
<rect x="274" y="206" width="9" height="8" fill="#0000ff"/>
<rect x="283" y="206" width="8" height="8" fill="#000cff"/>
<rect x="291" y="206" width="9" height="8" fill="#0038ff"/>
<rect x="300" y="206" width="8" height="8" fill="#0060ff"/>
<rect x="308" y="206" width="8" height="8" fill="#0084ff"/>
<rect x="316" y="206" width="9" height="8" fill="#00a0ff"/>
<rect x="325" y="206" width="8" height="8" fill="#00bcff"/>
<rect x="333" y="206" width="9" height="8" fill="#00d4ff"/>
<rect x="342" y="206" width="8" height="8" fill="#09f0ee"/>
<rect x="350" y="206" width="9" height="8" fill="#1cffdb"/>
<rect x="359" y="206" width="8" height="8" fill="#29ffce"/>
<rect x="367" y="206" width="9" height="8" fill="#39ffbe"/>
<rect x="376" y="206" width="8" height="8" fill="#49ffad"/>
<rect x="384" y="206" width="9" height="8" fill="#5aff9d"/>
<rect x="393" y="206" width="8" height="8" fill="#77ff80"/>
<rect x="401" y="206" width="9" height="8" fill="#adff49"/>
<rect x="410" y="206" width="8" height="8" fill="#e7ff0f"/>
<rect x="418" y="206" width="8" height="8" fill="#ffc400"/>
<rect x="426" y="206" width="9" height="8" fill="#ff8d00"/>
<rect x="435" y="206" width="8" height="8" fill="#ff5d00"/>
<rect x="443" y="206" width="9" height="8" fill="#ff2200"/>
<rect x="452" y="206" width="8" height="8" fill="#d60000"/>
<rect x="460" y="206" width="9" height="8" fill="#b20000"/>
<rect x="469" y="206" width="8" height="8" fill="#a80000"/>
<rect x="477" y="206" width="17" height="8" fill="#9b0000"/>
<rect x="494" y="206" width="9" height="8" fill="#a40000"/>
<rect x="503" y="206" width="8" height="8" fill="#960000"/>
<rect x="511" y="206" width="17" height="8" fill="#800000"/>
<rect x="528" y="206" width="8" height="8" fill="#8d0000"/>
<rect x="536" y="206" width="9" height="8" fill="#a80000"/>
<rect x="545" y="206" width="8" height="8" fill="#bf0000"/>
<rect x="553" y="206" width="9" height="8" fill="#d60000"/>
<rect x="562" y="206" width="8" height="8" fill="#ff1300"/>
<rect x="570" y="206" width="9" height="8" fill="#ff3f00"/>
<rect x="579" y="206" width="8" height="8" fill="#ff6800"/>
<rect x="587" y="206" width="9" height="8" fill="#ff9400"/>
<rect x="596" y="206" width="8" height="8" fill="#ffd000"/>
<rect x="604" y="206" width="9" height="8" fill="#eeff09"/>
<rect x="613" y="206" width="8" height="8" fill="#c7ff30"/>
<rect x="621" y="206" width="9" height="8" fill="#94ff63"/>
<rect x="630" y="206" width="8" height="8" fill="#39ffbe"/>
<rect x="638" y="206" width="8" height="8" fill="#00c4ff"/>
<rect x="646" y="206" width="9" height="8" fill="#0068ff"/>
<rect x="655" y="206" width="8" height="8" fill="#0020ff"/>
<rect x="663" y="206" width="9" height="8" fill="#0000ff"/>
<rect x="672" y="206" width="8" height="8" fill="#0000f6"/>
<rect x="680" y="206" width="9" height="8" fill="#0000f1"/>
<rect x="689" y="206" width="25" height="8" fill="#0000ed"/>
<rect x="105" y="214" width="17" height="8" fill="#0000ff"/>
<rect x="122" y="214" width="8" height="8" fill="#0010ff"/>
<rect x="130" y="214" width="9" height="8" fill="#001cff"/>
<rect x="139" y="214" width="25" height="8" fill="#0020ff"/>
<rect x="164" y="214" width="9" height="8" fill="#001cff"/>
<rect x="173" y="214" width="8" height="8" fill="#0018ff"/>
<rect x="181" y="214" width="9" height="8" fill="#0014ff"/>
<rect x="190" y="214" width="8" height="8" fill="#000cff"/>
<rect x="198" y="214" width="9" height="8" fill="#0004ff"/>
<rect x="207" y="214" width="16" height="8" fill="#0000ff"/>
<rect x="223" y="214" width="9" height="8" fill="#0000f6"/>
<rect x="232" y="214" width="8" height="8" fill="#0000ed"/>
<rect x="240" y="214" width="17" height="8" fill="#0000e8"/>
<rect x="257" y="214" width="9" height="8" fill="#0000ed"/>
<rect x="266" y="214" width="8" height="8" fill="#0000f1"/>
<rect x="274" y="214" width="9" height="8" fill="#0000ff"/>
<rect x="283" y="214" width="8" height="8" fill="#0008ff"/>
<rect x="291" y="214" width="9" height="8" fill="#002cff"/>
<rect x="300" y="214" width="8" height="8" fill="#0054ff"/>
<rect x="308" y="214" width="8" height="8" fill="#0080ff"/>
<rect x="316" y="214" width="9" height="8" fill="#00a0ff"/>
<rect x="325" y="214" width="8" height="8" fill="#00c4ff"/>
<rect x="333" y="214" width="9" height="8" fill="#09f0ee"/>
<rect x="342" y="214" width="8" height="8" fill="#29ffce"/>
<rect x="350" y="214" width="9" height="8" fill="#49ffad"/>
<rect x="359" y="214" width="8" height="8" fill="#63ff94"/>
<rect x="367" y="214" width="9" height="8" fill="#7dff7a"/>
<rect x="376" y="214" width="17" height="8" fill="#83ff73"/>
<rect x="393" y="214" width="8" height="8" fill="#87ff70"/>
<rect x="401" y="214" width="9" height="8" fill="#9dff5a"/>
<rect x="410" y="214" width="8" height="8" fill="#ceff29"/>
<rect x="418" y="214" width="8" height="8" fill="#fbf100"/>
<rect x="426" y="214" width="9" height="8" fill="#ffc400"/>
<rect x="435" y="214" width="8" height="8" fill="#ffa300"/>
<rect x="443" y="214" width="9" height="8" fill="#ff8d00"/>
<rect x="452" y="214" width="8" height="8" fill="#ff7300"/>
<rect x="460" y="214" width="9" height="8" fill="#ff6800"/>
<rect x="469" y="214" width="8" height="8" fill="#ff6000"/>
<rect x="477" y="214" width="9" height="8" fill="#ff4e00"/>
<rect x="486" y="214" width="8" height="8" fill="#ff3400"/>
<rect x="494" y="214" width="9" height="8" fill="#ff2200"/>
<rect x="503" y="214" width="8" height="8" fill="#ff1300"/>
<rect x="511" y="214" width="17" height="8" fill="#f10800"/>
<rect x="528" y="214" width="8" height="8" fill="#fa0f00"/>
<rect x="536" y="214" width="9" height="8" fill="#ff2500"/>
<rect x="545" y="214" width="8" height="8" fill="#ff2900"/>
<rect x="553" y="214" width="9" height="8" fill="#ff3400"/>
<rect x="562" y="214" width="8" height="8" fill="#ff6800"/>
<rect x="570" y="214" width="9" height="8" fill="#ff8200"/>
<rect x="579" y="214" width="8" height="8" fill="#ffab00"/>
<rect x="587" y="214" width="9" height="8" fill="#ffd000"/>
<rect x="596" y="214" width="8" height="8" fill="#f8f500"/>
<rect x="604" y="214" width="9" height="8" fill="#d7ff1f"/>
<rect x="613" y="214" width="8" height="8" fill="#adff49"/>
<rect x="621" y="214" width="9" height="8" fill="#7dff7a"/>
<rect x="630" y="214" width="8" height="8" fill="#29ffce"/>
<rect x="638" y="214" width="8" height="8" fill="#00bcff"/>
<rect x="646" y="214" width="9" height="8" fill="#0060ff"/>
<rect x="655" y="214" width="8" height="8" fill="#0018ff"/>
<rect x="663" y="214" width="9" height="8" fill="#0000ff"/>
<rect x="672" y="214" width="8" height="8" fill="#0000f1"/>
<rect x="680" y="214" width="34" height="8" fill="#0000e8"/>
<rect x="105" y="222" width="8" height="9" fill="#0000e8"/>
<rect x="113" y="222" width="9" height="9" fill="#0000f6"/>
<rect x="122" y="222" width="17" height="9" fill="#0000ff"/>
<rect x="139" y="222" width="17" height="9" fill="#0004ff"/>
<rect x="156" y="222" width="42" height="9" fill="#0000ff"/>
<rect x="198" y="222" width="9" height="9" fill="#0000fa"/>
<rect x="207" y="222" width="8" height="9" fill="#0000f1"/>
<rect x="215" y="222" width="8" height="9" fill="#0000e8"/>
<rect x="223" y="222" width="9" height="9" fill="#0000df"/>
<rect x="232" y="222" width="8" height="9" fill="#0000d6"/>
<rect x="240" y="222" width="9" height="9" fill="#0000cd"/>
<rect x="249" y="222" width="8" height="9" fill="#0000d1"/>
<rect x="257" y="222" width="9" height="9" fill="#0000da"/>
<rect x="266" y="222" width="8" height="9" fill="#0000e8"/>
<rect x="274" y="222" width="9" height="9" fill="#0000f1"/>
<rect x="283" y="222" width="8" height="9" fill="#0000ff"/>
<rect x="291" y="222" width="9" height="9" fill="#0020ff"/>
<rect x="300" y="222" width="8" height="9" fill="#004cff"/>
<rect x="308" y="222" width="8" height="9" fill="#0078ff"/>
<rect x="316" y="222" width="9" height="9" fill="#00a0ff"/>
<rect x="325" y="222" width="8" height="9" fill="#00d0ff"/>
<rect x="333" y="222" width="9" height="9" fill="#19ffde"/>
<rect x="342" y="222" width="8" height="9" fill="#43ffb4"/>
<rect x="350" y="222" width="9" height="9" fill="#6aff8d"/>
<rect x="359" y="222" width="8" height="9" fill="#83ff73"/>
<rect x="367" y="222" width="9" height="9" fill="#94ff63"/>
<rect x="376" y="222" width="8" height="9" fill="#7dff7a"/>
<rect x="384" y="222" width="9" height="9" fill="#70ff87"/>
<rect x="393" y="222" width="8" height="9" fill="#60ff97"/>
<rect x="401" y="222" width="9" height="9" fill="#66ff90"/>
<rect x="410" y="222" width="8" height="9" fill="#90ff66"/>
<rect x="418" y="222" width="8" height="9" fill="#b1ff46"/>
<rect x="426" y="222" width="9" height="9" fill="#c7ff30"/>
<rect x="435" y="222" width="8" height="9" fill="#d7ff1f"/>
<rect x="443" y="222" width="9" height="9" fill="#e4ff13"/>
<rect x="452" y="222" width="25" height="9" fill="#e7ff0f"/>
<rect x="477" y="222" width="9" height="9" fill="#e4ff13"/>
<rect x="486" y="222" width="8" height="9" fill="#d7ff1f"/>
<rect x="494" y="222" width="9" height="9" fill="#d1ff26"/>
<rect x="503" y="222" width="8" height="9" fill="#dbff1c"/>
<rect x="511" y="222" width="9" height="9" fill="#e1ff16"/>
<rect x="520" y="222" width="8" height="9" fill="#ebff0c"/>
<rect x="528" y="222" width="8" height="9" fill="#f1fc06"/>
<rect x="536" y="222" width="34" height="9" fill="#f8f500"/>
<rect x="570" y="222" width="9" height="9" fill="#eeff09"/>
<rect x="579" y="222" width="8" height="9" fill="#e4ff13"/>
<rect x="587" y="222" width="9" height="9" fill="#c7ff30"/>
<rect x="596" y="222" width="8" height="9" fill="#b1ff46"/>
<rect x="604" y="222" width="9" height="9" fill="#8dff6a"/>
<rect x="613" y="222" width="8" height="9" fill="#6dff8a"/>
<rect x="621" y="222" width="9" height="9" fill="#43ffb4"/>
<rect x="630" y="222" width="8" height="9" fill="#0ff8e7"/>
<rect x="638" y="222" width="8" height="9" fill="#00b0ff"/>
<rect x="646" y="222" width="9" height="9" fill="#0060ff"/>
<rect x="655" y="222" width="8" height="9" fill="#0028ff"/>
<rect x="663" y="222" width="9" height="9" fill="#0000ff"/>
<rect x="672" y="222" width="8" height="9" fill="#0000f1"/>
<rect x="680" y="222" width="9" height="9" fill="#0000e8"/>
<rect x="689" y="222" width="17" height="9" fill="#0000e3"/>
<rect x="706" y="222" width="8" height="9" fill="#0000df"/>
<rect x="105" y="231" width="8" height="8" fill="#0000da"/>
<rect x="113" y="231" width="9" height="8" fill="#0000df"/>
<rect x="122" y="231" width="17" height="8" fill="#0000e3"/>
<rect x="139" y="231" width="8" height="8" fill="#0000e8"/>
<rect x="147" y="231" width="17" height="8" fill="#0000e3"/>
<rect x="164" y="231" width="9" height="8" fill="#0000df"/>
<rect x="173" y="231" width="8" height="8" fill="#0000da"/>
<rect x="181" y="231" width="17" height="8" fill="#0000d6"/>
<rect x="198" y="231" width="17" height="8" fill="#0000d1"/>
<rect x="215" y="231" width="8" height="8" fill="#0000cd"/>
<rect x="223" y="231" width="9" height="8" fill="#0000c4"/>
<rect x="232" y="231" width="17" height="8" fill="#0000bf"/>
<rect x="249" y="231" width="8" height="8" fill="#0000c4"/>
<rect x="257" y="231" width="9" height="8" fill="#0000d6"/>
<rect x="266" y="231" width="8" height="8" fill="#0000e8"/>
<rect x="274" y="231" width="9" height="8" fill="#0000f1"/>
<rect x="283" y="231" width="8" height="8" fill="#0000ff"/>
<rect x="291" y="231" width="9" height="8" fill="#0018ff"/>
<rect x="300" y="231" width="8" height="8" fill="#004cff"/>
<rect x="308" y="231" width="8" height="8" fill="#0080ff"/>
<rect x="316" y="231" width="9" height="8" fill="#00a8ff"/>
<rect x="325" y="231" width="8" height="8" fill="#00dcfe"/>
<rect x="333" y="231" width="9" height="8" fill="#19ffde"/>
<rect x="342" y="231" width="8" height="8" fill="#39ffbe"/>
<rect x="350" y="231" width="9" height="8" fill="#53ffa4"/>
<rect x="359" y="231" width="8" height="8" fill="#63ff94"/>
<rect x="367" y="231" width="17" height="8" fill="#6aff8d"/>
<rect x="384" y="231" width="9" height="8" fill="#73ff83"/>
<rect x="393" y="231" width="8" height="8" fill="#97ff60"/>
<rect x="401" y="231" width="9" height="8" fill="#d1ff26"/>
<rect x="410" y="231" width="8" height="8" fill="#ffea00"/>
<rect x="418" y="231" width="8" height="8" fill="#ffc100"/>
<rect x="426" y="231" width="9" height="8" fill="#ff9f00"/>
<rect x="435" y="231" width="17" height="8" fill="#ff9100"/>
<rect x="452" y="231" width="8" height="8" fill="#ff9c00"/>
<rect x="460" y="231" width="9" height="8" fill="#ffb600"/>
<rect x="469" y="231" width="8" height="8" fill="#ffd000"/>
<rect x="477" y="231" width="9" height="8" fill="#ffde00"/>
<rect x="486" y="231" width="8" height="8" fill="#f1fc06"/>
<rect x="494" y="231" width="9" height="8" fill="#dbff1c"/>
<rect x="503" y="231" width="8" height="8" fill="#e4ff13"/>
<rect x="511" y="231" width="9" height="8" fill="#f1fc06"/>
<rect x="520" y="231" width="8" height="8" fill="#fbf100"/>
<rect x="528" y="231" width="8" height="8" fill="#ffde00"/>
<rect x="536" y="231" width="9" height="8" fill="#ffd300"/>
<rect x="545" y="231" width="17" height="8" fill="#ffd000"/>
<rect x="562" y="231" width="8" height="8" fill="#ffdb00"/>
<rect x="570" y="231" width="9" height="8" fill="#f8f500"/>
<rect x="579" y="231" width="8" height="8" fill="#d4ff23"/>
<rect x="587" y="231" width="9" height="8" fill="#baff3c"/>
<rect x="596" y="231" width="8" height="8" fill="#8dff6a"/>
<rect x="604" y="231" width="9" height="8" fill="#6dff8a"/>
<rect x="613" y="231" width="8" height="8" fill="#4dffaa"/>
<rect x="621" y="231" width="9" height="8" fill="#23ffd4"/>
<rect x="630" y="231" width="8" height="8" fill="#00d0ff"/>
<rect x="638" y="231" width="8" height="8" fill="#0088ff"/>
<rect x="646" y="231" width="9" height="8" fill="#0044ff"/>
<rect x="655" y="231" width="8" height="8" fill="#0014ff"/>
<rect x="663" y="231" width="9" height="8" fill="#0000fa"/>
<rect x="672" y="231" width="8" height="8" fill="#0000e3"/>
<rect x="680" y="231" width="9" height="8" fill="#0000df"/>
<rect x="689" y="231" width="8" height="8" fill="#0000da"/>
<rect x="697" y="231" width="17" height="8" fill="#0000d6"/>
<rect x="105" y="239" width="17" height="9" fill="#0000c4"/>
<rect x="122" y="239" width="25" height="9" fill="#0000bf"/>
<rect x="147" y="239" width="26" height="9" fill="#0000bb"/>
<rect x="173" y="239" width="17" height="9" fill="#0000b6"/>
<rect x="190" y="239" width="8" height="9" fill="#0000b2"/>
<rect x="198" y="239" width="51" height="9" fill="#0000ad"/>
<rect x="249" y="239" width="8" height="9" fill="#0000b2"/>
<rect x="257" y="239" width="9" height="9" fill="#0000c8"/>
<rect x="266" y="239" width="8" height="9" fill="#0000da"/>
<rect x="274" y="239" width="9" height="9" fill="#0000e8"/>
<rect x="283" y="239" width="8" height="9" fill="#0000ff"/>
<rect x="291" y="239" width="9" height="9" fill="#0018ff"/>
<rect x="300" y="239" width="8" height="9" fill="#004cff"/>
<rect x="308" y="239" width="8" height="9" fill="#0080ff"/>
<rect x="316" y="239" width="9" height="9" fill="#00a8ff"/>
<rect x="325" y="239" width="8" height="9" fill="#00d0ff"/>
<rect x="333" y="239" width="9" height="9" fill="#09f0ee"/>
<rect x="342" y="239" width="8" height="9" fill="#1cffdb"/>
<rect x="350" y="239" width="9" height="9" fill="#29ffce"/>
<rect x="359" y="239" width="8" height="9" fill="#39ffbe"/>
<rect x="367" y="239" width="9" height="9" fill="#49ffad"/>
<rect x="376" y="239" width="8" height="9" fill="#6aff8d"/>
<rect x="384" y="239" width="9" height="9" fill="#9aff5d"/>
<rect x="393" y="239" width="8" height="9" fill="#dbff1c"/>
<rect x="401" y="239" width="9" height="9" fill="#ffdb00"/>
<rect x="410" y="239" width="8" height="9" fill="#ffb200"/>
<rect x="418" y="239" width="8" height="9" fill="#ff8900"/>
<rect x="426" y="239" width="9" height="9" fill="#ff5d00"/>
<rect x="435" y="239" width="8" height="9" fill="#ff4300"/>
<rect x="443" y="239" width="9" height="9" fill="#ff2900"/>
<rect x="452" y="239" width="8" height="9" fill="#ff1e00"/>
<rect x="460" y="239" width="9" height="9" fill="#ff2d00"/>
<rect x="469" y="239" width="8" height="9" fill="#ff4e00"/>
<rect x="477" y="239" width="9" height="9" fill="#ff7700"/>
<rect x="486" y="239" width="8" height="9" fill="#ff9c00"/>
<rect x="494" y="239" width="9" height="9" fill="#ffa700"/>
<rect x="503" y="239" width="8" height="9" fill="#ff9c00"/>
<rect x="511" y="239" width="25" height="9" fill="#ff9400"/>
<rect x="536" y="239" width="9" height="9" fill="#ff9800"/>
<rect x="545" y="239" width="8" height="9" fill="#ffa300"/>
<rect x="553" y="239" width="9" height="9" fill="#ffb900"/>
<rect x="562" y="239" width="8" height="9" fill="#ffd700"/>
<rect x="570" y="239" width="9" height="9" fill="#f4f802"/>
<rect x="579" y="239" width="8" height="9" fill="#baff3c"/>
<rect x="587" y="239" width="9" height="9" fill="#83ff73"/>
<rect x="596" y="239" width="8" height="9" fill="#39ffbe"/>
<rect x="604" y="239" width="9" height="9" fill="#26ffd1"/>
<rect x="613" y="239" width="8" height="9" fill="#09f0ee"/>
<rect x="621" y="239" width="9" height="9" fill="#00b0ff"/>
<rect x="630" y="239" width="8" height="9" fill="#006cff"/>
<rect x="638" y="239" width="8" height="9" fill="#0030ff"/>
<rect x="646" y="239" width="9" height="9" fill="#0000ff"/>
<rect x="655" y="239" width="8" height="9" fill="#0000ed"/>
<rect x="663" y="239" width="9" height="9" fill="#0000da"/>
<rect x="672" y="239" width="8" height="9" fill="#0000cd"/>
<rect x="680" y="239" width="9" height="9" fill="#0000c4"/>
<rect x="689" y="239" width="8" height="9" fill="#0000bf"/>
<rect x="697" y="239" width="9" height="9" fill="#0000bb"/>
<rect x="706" y="239" width="8" height="9" fill="#0000b6"/>
<rect x="105" y="248" width="17" height="8" fill="#0000ad"/>
<rect x="122" y="248" width="17" height="8" fill="#0000a8"/>
<rect x="139" y="248" width="17" height="8" fill="#0000a4"/>
<rect x="156" y="248" width="17" height="8" fill="#00009f"/>
<rect x="173" y="248" width="17" height="8" fill="#00009b"/>
<rect x="190" y="248" width="50" height="8" fill="#000096"/>
<rect x="240" y="248" width="9" height="8" fill="#00009b"/>
<rect x="249" y="248" width="8" height="8" fill="#0000a4"/>
<rect x="257" y="248" width="9" height="8" fill="#0000bb"/>
<rect x="266" y="248" width="8" height="8" fill="#0000cd"/>
<rect x="274" y="248" width="9" height="8" fill="#0000da"/>
<rect x="283" y="248" width="8" height="8" fill="#0000f1"/>
<rect x="291" y="248" width="9" height="8" fill="#0004ff"/>
<rect x="300" y="248" width="8" height="8" fill="#002cff"/>
<rect x="308" y="248" width="8" height="8" fill="#0054ff"/>
<rect x="316" y="248" width="9" height="8" fill="#0080ff"/>
<rect x="325" y="248" width="8" height="8" fill="#009cff"/>
<rect x="333" y="248" width="9" height="8" fill="#00bcff"/>
<rect x="342" y="248" width="8" height="8" fill="#00d4ff"/>
<rect x="350" y="248" width="9" height="8" fill="#00e4f8"/>
<rect x="359" y="248" width="8" height="8" fill="#0ff8e7"/>
<rect x="367" y="248" width="9" height="8" fill="#1cffdb"/>
<rect x="376" y="248" width="8" height="8" fill="#29ffce"/>
<rect x="384" y="248" width="9" height="8" fill="#40ffb7"/>
<rect x="393" y="248" width="8" height="8" fill="#6aff8d"/>
<rect x="401" y="248" width="9" height="8" fill="#8aff6d"/>
<rect x="410" y="248" width="8" height="8" fill="#a0ff56"/>
<rect x="418" y="248" width="8" height="8" fill="#baff3c"/>
<rect x="426" y="248" width="9" height="8" fill="#ceff29"/>
<rect x="435" y="248" width="8" height="8" fill="#dbff1c"/>
<rect x="443" y="248" width="9" height="8" fill="#e4ff13"/>
<rect x="452" y="248" width="8" height="8" fill="#f8f500"/>
<rect x="460" y="248" width="9" height="8" fill="#ffe600"/>
<rect x="469" y="248" width="8" height="8" fill="#ffde00"/>
<rect x="477" y="248" width="9" height="8" fill="#ffdb00"/>
<rect x="486" y="248" width="8" height="8" fill="#ffe600"/>
<rect x="494" y="248" width="17" height="8" fill="#feed00"/>
<rect x="511" y="248" width="9" height="8" fill="#f4f802"/>
<rect x="520" y="248" width="8" height="8" fill="#ebff0c"/>
<rect x="528" y="248" width="8" height="8" fill="#dbff1c"/>
<rect x="536" y="248" width="9" height="8" fill="#caff2c"/>
<rect x="545" y="248" width="8" height="8" fill="#b7ff40"/>
<rect x="553" y="248" width="9" height="8" fill="#9dff5a"/>
<rect x="562" y="248" width="8" height="8" fill="#83ff73"/>
<rect x="570" y="248" width="9" height="8" fill="#60ff97"/>
<rect x="579" y="248" width="8" height="8" fill="#39ffbe"/>
<rect x="587" y="248" width="9" height="8" fill="#16ffe1"/>
<rect x="596" y="248" width="8" height="8" fill="#00c4ff"/>
<rect x="604" y="248" width="9" height="8" fill="#0094ff"/>
<rect x="613" y="248" width="8" height="8" fill="#0060ff"/>
<rect x="621" y="248" width="9" height="8" fill="#0024ff"/>
<rect x="630" y="248" width="8" height="8" fill="#0000ff"/>
<rect x="638" y="248" width="8" height="8" fill="#0000ed"/>
<rect x="646" y="248" width="9" height="8" fill="#0000df"/>
<rect x="655" y="248" width="8" height="8" fill="#0000cd"/>
<rect x="663" y="248" width="9" height="8" fill="#0000c4"/>
<rect x="672" y="248" width="8" height="8" fill="#0000b6"/>
<rect x="680" y="248" width="9" height="8" fill="#0000ad"/>
<rect x="689" y="248" width="17" height="8" fill="#0000a4"/>
<rect x="706" y="248" width="8" height="8" fill="#00009f"/>
<rect x="105" y="256" width="8" height="9" fill="#0000ad"/>
<rect x="113" y="256" width="26" height="9" fill="#0000a8"/>
<rect x="139" y="256" width="34" height="9" fill="#0000a4"/>
<rect x="173" y="256" width="17" height="9" fill="#00009f"/>
<rect x="190" y="256" width="59" height="9" fill="#00009b"/>
<rect x="249" y="256" width="8" height="9" fill="#00009f"/>
<rect x="257" y="256" width="9" height="9" fill="#0000b2"/>
<rect x="266" y="256" width="8" height="9" fill="#0000c4"/>
<rect x="274" y="256" width="9" height="9" fill="#0000cd"/>
<rect x="283" y="256" width="8" height="9" fill="#0000df"/>
<rect x="291" y="256" width="9" height="9" fill="#0000ff"/>
<rect x="300" y="256" width="8" height="9" fill="#000cff"/>
<rect x="308" y="256" width="8" height="9" fill="#002cff"/>
<rect x="316" y="256" width="9" height="9" fill="#004cff"/>
<rect x="325" y="256" width="8" height="9" fill="#0068ff"/>
<rect x="333" y="256" width="9" height="9" fill="#008cff"/>
<rect x="342" y="256" width="17" height="9" fill="#009cff"/>
<rect x="359" y="256" width="8" height="9" fill="#00a8ff"/>
<rect x="367" y="256" width="9" height="9" fill="#00b0ff"/>
<rect x="376" y="256" width="8" height="9" fill="#00bcff"/>
<rect x="384" y="256" width="9" height="9" fill="#00c4ff"/>
<rect x="393" y="256" width="8" height="9" fill="#00d0ff"/>
<rect x="401" y="256" width="9" height="9" fill="#00e4f8"/>
<rect x="410" y="256" width="8" height="9" fill="#0ff8e7"/>
<rect x="418" y="256" width="8" height="9" fill="#30ffc7"/>
<rect x="426" y="256" width="9" height="9" fill="#49ffad"/>
<rect x="435" y="256" width="8" height="9" fill="#5aff9d"/>
<rect x="443" y="256" width="9" height="9" fill="#63ff94"/>
<rect x="452" y="256" width="17" height="9" fill="#6aff8d"/>
<rect x="469" y="256" width="34" height="9" fill="#73ff83"/>
<rect x="503" y="256" width="8" height="9" fill="#6aff8d"/>
<rect x="511" y="256" width="9" height="9" fill="#63ff94"/>
<rect x="520" y="256" width="8" height="9" fill="#5aff9d"/>
<rect x="528" y="256" width="8" height="9" fill="#4dffaa"/>
<rect x="536" y="256" width="9" height="9" fill="#3cffba"/>
<rect x="545" y="256" width="8" height="9" fill="#2cffca"/>
<rect x="553" y="256" width="9" height="9" fill="#13fce4"/>
<rect x="562" y="256" width="8" height="9" fill="#00dcfe"/>
<rect x="570" y="256" width="9" height="9" fill="#00bcff"/>
<rect x="579" y="256" width="8" height="9" fill="#0094ff"/>
<rect x="587" y="256" width="9" height="9" fill="#0074ff"/>
<rect x="596" y="256" width="8" height="9" fill="#004cff"/>
<rect x="604" y="256" width="9" height="9" fill="#0024ff"/>
<rect x="613" y="256" width="8" height="9" fill="#0008ff"/>
<rect x="621" y="256" width="9" height="9" fill="#0000fa"/>
<rect x="630" y="256" width="8" height="9" fill="#0000e3"/>
<rect x="638" y="256" width="8" height="9" fill="#0000d1"/>
<rect x="646" y="256" width="9" height="9" fill="#0000c8"/>
<rect x="655" y="256" width="8" height="9" fill="#0000bb"/>
<rect x="663" y="256" width="9" height="9" fill="#0000b2"/>
<rect x="672" y="256" width="8" height="9" fill="#0000ad"/>
<rect x="680" y="256" width="9" height="9" fill="#0000a4"/>
<rect x="689" y="256" width="25" height="9" fill="#00009f"/>
<rect x="105" y="265" width="25" height="8" fill="#0000b6"/>
<rect x="130" y="265" width="26" height="8" fill="#0000b2"/>
<rect x="156" y="265" width="25" height="8" fill="#0000ad"/>
<rect x="181" y="265" width="34" height="8" fill="#0000a8"/>
<rect x="215" y="265" width="17" height="8" fill="#0000a4"/>
<rect x="232" y="265" width="17" height="8" fill="#00009f"/>
<rect x="249" y="265" width="8" height="8" fill="#0000a4"/>
<rect x="257" y="265" width="9" height="8" fill="#0000a8"/>
<rect x="266" y="265" width="8" height="8" fill="#0000b6"/>
<rect x="274" y="265" width="9" height="8" fill="#0000c4"/>
<rect x="283" y="265" width="8" height="8" fill="#0000d1"/>
<rect x="291" y="265" width="9" height="8" fill="#0000e8"/>
<rect x="300" y="265" width="8" height="8" fill="#0000ff"/>
<rect x="308" y="265" width="8" height="8" fill="#000cff"/>
<rect x="316" y="265" width="9" height="8" fill="#0028ff"/>
<rect x="325" y="265" width="8" height="8" fill="#0040ff"/>
<rect x="333" y="265" width="9" height="8" fill="#0060ff"/>
<rect x="342" y="265" width="17" height="8" fill="#0074ff"/>
<rect x="359" y="265" width="8" height="8" fill="#0080ff"/>
<rect x="367" y="265" width="9" height="8" fill="#0088ff"/>
<rect x="376" y="265" width="8" height="8" fill="#009cff"/>
<rect x="384" y="265" width="9" height="8" fill="#00a8ff"/>
<rect x="393" y="265" width="8" height="8" fill="#00bcff"/>
<rect x="401" y="265" width="9" height="8" fill="#00d0ff"/>
<rect x="410" y="265" width="8" height="8" fill="#00e4f8"/>
<rect x="418" y="265" width="8" height="8" fill="#19ffde"/>
<rect x="426" y="265" width="9" height="8" fill="#29ffce"/>
<rect x="435" y="265" width="8" height="8" fill="#30ffc7"/>
<rect x="443" y="265" width="17" height="8" fill="#39ffbe"/>
<rect x="460" y="265" width="9" height="8" fill="#30ffc7"/>
<rect x="469" y="265" width="8" height="8" fill="#19ffde"/>
<rect x="477" y="265" width="9" height="8" fill="#09f0ee"/>
<rect x="486" y="265" width="8" height="8" fill="#00e4f8"/>
<rect x="494" y="265" width="9" height="8" fill="#00dcfe"/>
<rect x="503" y="265" width="8" height="8" fill="#00d0ff"/>
<rect x="511" y="265" width="9" height="8" fill="#00c4ff"/>
<rect x="520" y="265" width="8" height="8" fill="#00b8ff"/>
<rect x="528" y="265" width="8" height="8" fill="#00a8ff"/>
<rect x="536" y="265" width="9" height="8" fill="#0098ff"/>
<rect x="545" y="265" width="8" height="8" fill="#0084ff"/>
<rect x="553" y="265" width="9" height="8" fill="#0070ff"/>
<rect x="562" y="265" width="8" height="8" fill="#0058ff"/>
<rect x="570" y="265" width="9" height="8" fill="#0048ff"/>
<rect x="579" y="265" width="8" height="8" fill="#0038ff"/>
<rect x="587" y="265" width="9" height="8" fill="#0028ff"/>
<rect x="596" y="265" width="8" height="8" fill="#0014ff"/>
<rect x="604" y="265" width="9" height="8" fill="#0000ff"/>
<rect x="613" y="265" width="8" height="8" fill="#0000f6"/>
<rect x="621" y="265" width="9" height="8" fill="#0000e3"/>
<rect x="630" y="265" width="8" height="8" fill="#0000d6"/>
<rect x="638" y="265" width="8" height="8" fill="#0000c8"/>
<rect x="646" y="265" width="9" height="8" fill="#0000bf"/>
<rect x="655" y="265" width="8" height="8" fill="#0000b6"/>
<rect x="663" y="265" width="9" height="8" fill="#0000b2"/>
<rect x="672" y="265" width="42" height="8" fill="#0000ad"/>
<rect x="105" y="273" width="17" height="8" fill="#0000cd"/>
<rect x="122" y="273" width="17" height="8" fill="#0000c8"/>
<rect x="139" y="273" width="8" height="8" fill="#0000c4"/>
<rect x="147" y="273" width="17" height="8" fill="#0000bf"/>
<rect x="164" y="273" width="9" height="8" fill="#0000bb"/>
<rect x="173" y="273" width="25" height="8" fill="#0000b6"/>
<rect x="198" y="273" width="25" height="8" fill="#0000b2"/>
<rect x="223" y="273" width="43" height="8" fill="#0000ad"/>
<rect x="266" y="273" width="8" height="8" fill="#0000b2"/>
<rect x="274" y="273" width="9" height="8" fill="#0000b6"/>
<rect x="283" y="273" width="8" height="8" fill="#0000bf"/>
<rect x="291" y="273" width="9" height="8" fill="#0000cd"/>
<rect x="300" y="273" width="8" height="8" fill="#0000df"/>
<rect x="308" y="273" width="8" height="8" fill="#0000f6"/>
<rect x="316" y="273" width="9" height="8" fill="#0000ff"/>
<rect x="325" y="273" width="8" height="8" fill="#0018ff"/>
<rect x="333" y="273" width="9" height="8" fill="#002cff"/>
<rect x="342" y="273" width="8" height="8" fill="#0038ff"/>
<rect x="350" y="273" width="9" height="8" fill="#0040ff"/>
<rect x="359" y="273" width="8" height="8" fill="#004cff"/>
<rect x="367" y="273" width="9" height="8" fill="#0060ff"/>
<rect x="376" y="273" width="8" height="8" fill="#0074ff"/>
<rect x="384" y="273" width="9" height="8" fill="#0088ff"/>
<rect x="393" y="273" width="8" height="8" fill="#009cff"/>
<rect x="401" y="273" width="9" height="8" fill="#00b0ff"/>
<rect x="410" y="273" width="8" height="8" fill="#00c4ff"/>
<rect x="418" y="273" width="8" height="8" fill="#00e4f8"/>
<rect x="426" y="273" width="9" height="8" fill="#0ff8e7"/>
<rect x="435" y="273" width="17" height="8" fill="#19ffde"/>
<rect x="452" y="273" width="8" height="8" fill="#0ff8e7"/>
<rect x="460" y="273" width="9" height="8" fill="#00e4f8"/>
<rect x="469" y="273" width="8" height="8" fill="#00c4ff"/>
<rect x="477" y="273" width="9" height="8" fill="#00b0ff"/>
<rect x="486" y="273" width="8" height="8" fill="#009cff"/>
<rect x="494" y="273" width="9" height="8" fill="#0094ff"/>
<rect x="503" y="273" width="8" height="8" fill="#0088ff"/>
<rect x="511" y="273" width="9" height="8" fill="#0080ff"/>
<rect x="520" y="273" width="8" height="8" fill="#0070ff"/>
<rect x="528" y="273" width="8" height="8" fill="#0060ff"/>
<rect x="536" y="273" width="9" height="8" fill="#0050ff"/>
<rect x="545" y="273" width="8" height="8" fill="#0040ff"/>
<rect x="553" y="273" width="9" height="8" fill="#0034ff"/>
<rect x="562" y="273" width="8" height="8" fill="#0024ff"/>
<rect x="570" y="273" width="9" height="8" fill="#0014ff"/>
<rect x="579" y="273" width="8" height="8" fill="#000cff"/>
<rect x="587" y="273" width="17" height="8" fill="#0000ff"/>
<rect x="604" y="273" width="9" height="8" fill="#0000e8"/>
<rect x="613" y="273" width="8" height="8" fill="#0000da"/>
<rect x="621" y="273" width="9" height="8" fill="#0000d1"/>
<rect x="630" y="273" width="8" height="8" fill="#0000c8"/>
<rect x="638" y="273" width="8" height="8" fill="#0000bf"/>
<rect x="646" y="273" width="17" height="8" fill="#0000b6"/>
<rect x="663" y="273" width="17" height="8" fill="#0000b2"/>
<rect x="680" y="273" width="26" height="8" fill="#0000ad"/>
<rect x="706" y="273" width="8" height="8" fill="#0000b2"/>
<rect x="105" y="281" width="17" height="9" fill="#0000df"/>
<rect x="122" y="281" width="8" height="9" fill="#0000da"/>
<rect x="130" y="281" width="17" height="9" fill="#0000d6"/>
<rect x="147" y="281" width="9" height="9" fill="#0000d1"/>
<rect x="156" y="281" width="8" height="9" fill="#0000cd"/>
<rect x="164" y="281" width="9" height="9" fill="#0000c8"/>
<rect x="173" y="281" width="8" height="9" fill="#0000c4"/>
<rect x="181" y="281" width="34" height="9" fill="#0000bf"/>
<rect x="215" y="281" width="17" height="9" fill="#0000bb"/>
<rect x="232" y="281" width="51" height="9" fill="#0000b6"/>
<rect x="283" y="281" width="8" height="9" fill="#0000bb"/>
<rect x="291" y="281" width="9" height="9" fill="#0000c4"/>
<rect x="300" y="281" width="8" height="9" fill="#0000d1"/>
<rect x="308" y="281" width="8" height="9" fill="#0000e3"/>
<rect x="316" y="281" width="9" height="9" fill="#0000ed"/>
<rect x="325" y="281" width="8" height="9" fill="#0000fa"/>
<rect x="333" y="281" width="9" height="9" fill="#0000ff"/>
<rect x="342" y="281" width="8" height="9" fill="#0004ff"/>
<rect x="350" y="281" width="9" height="9" fill="#0018ff"/>
<rect x="359" y="281" width="8" height="9" fill="#002cff"/>
<rect x="367" y="281" width="9" height="9" fill="#0040ff"/>
<rect x="376" y="281" width="8" height="9" fill="#0054ff"/>
<rect x="384" y="281" width="9" height="9" fill="#0074ff"/>
<rect x="393" y="281" width="8" height="9" fill="#0088ff"/>
<rect x="401" y="281" width="9" height="9" fill="#009cff"/>
<rect x="410" y="281" width="8" height="9" fill="#00b0ff"/>
<rect x="418" y="281" width="8" height="9" fill="#00d0ff"/>
<rect x="426" y="281" width="9" height="9" fill="#00e4f8"/>
<rect x="435" y="281" width="17" height="9" fill="#09f0ee"/>
<rect x="452" y="281" width="8" height="9" fill="#00e4f8"/>
<rect x="460" y="281" width="9" height="9" fill="#00d0ff"/>
<rect x="469" y="281" width="8" height="9" fill="#00b0ff"/>
<rect x="477" y="281" width="9" height="9" fill="#0094ff"/>
<rect x="486" y="281" width="8" height="9" fill="#0080ff"/>
<rect x="494" y="281" width="9" height="9" fill="#0074ff"/>
<rect x="503" y="281" width="8" height="9" fill="#0068ff"/>
<rect x="511" y="281" width="9" height="9" fill="#0060ff"/>
<rect x="520" y="281" width="8" height="9" fill="#0050ff"/>
<rect x="528" y="281" width="8" height="9" fill="#0040ff"/>
<rect x="536" y="281" width="9" height="9" fill="#0030ff"/>
<rect x="545" y="281" width="8" height="9" fill="#0020ff"/>
<rect x="553" y="281" width="9" height="9" fill="#0014ff"/>
<rect x="562" y="281" width="8" height="9" fill="#0008ff"/>
<rect x="570" y="281" width="26" height="9" fill="#0000ff"/>
<rect x="596" y="281" width="8" height="9" fill="#0000ed"/>
<rect x="604" y="281" width="9" height="9" fill="#0000da"/>
<rect x="613" y="281" width="8" height="9" fill="#0000d1"/>
<rect x="621" y="281" width="9" height="9" fill="#0000c8"/>
<rect x="630" y="281" width="8" height="9" fill="#0000bf"/>
<rect x="638" y="281" width="8" height="9" fill="#0000bb"/>
<rect x="646" y="281" width="60" height="9" fill="#0000b2"/>
<rect x="706" y="281" width="8" height="9" fill="#0000bb"/>
<rect x="105" y="290" width="8" height="8" fill="#0000ed"/>
<rect x="113" y="290" width="17" height="8" fill="#0000e8"/>
<rect x="130" y="290" width="9" height="8" fill="#0000e3"/>
<rect x="139" y="290" width="8" height="8" fill="#0000df"/>
<rect x="147" y="290" width="9" height="8" fill="#0000da"/>
<rect x="156" y="290" width="8" height="8" fill="#0000d6"/>
<rect x="164" y="290" width="17" height="8" fill="#0000d1"/>
<rect x="181" y="290" width="9" height="8" fill="#0000cd"/>
<rect x="190" y="290" width="8" height="8" fill="#0000c8"/>
<rect x="198" y="290" width="25" height="8" fill="#0000c4"/>
<rect x="223" y="290" width="26" height="8" fill="#0000bf"/>
<rect x="249" y="290" width="25" height="8" fill="#0000bb"/>
<rect x="274" y="290" width="9" height="8" fill="#0000b6"/>
<rect x="283" y="290" width="8" height="8" fill="#0000bb"/>
<rect x="291" y="290" width="9" height="8" fill="#0000bf"/>
<rect x="300" y="290" width="8" height="8" fill="#0000cd"/>
<rect x="308" y="290" width="8" height="8" fill="#0000d6"/>
<rect x="316" y="290" width="9" height="8" fill="#0000e3"/>
<rect x="325" y="290" width="8" height="8" fill="#0000f1"/>
<rect x="333" y="290" width="17" height="8" fill="#0000ff"/>
<rect x="350" y="290" width="9" height="8" fill="#0004ff"/>
<rect x="359" y="290" width="8" height="8" fill="#0018ff"/>
<rect x="367" y="290" width="9" height="8" fill="#002cff"/>
<rect x="376" y="290" width="8" height="8" fill="#004cff"/>
<rect x="384" y="290" width="9" height="8" fill="#0060ff"/>
<rect x="393" y="290" width="8" height="8" fill="#0074ff"/>
<rect x="401" y="290" width="9" height="8" fill="#0088ff"/>
<rect x="410" y="290" width="8" height="8" fill="#009cff"/>
<rect x="418" y="290" width="8" height="8" fill="#00bcff"/>
<rect x="426" y="290" width="9" height="8" fill="#00d0ff"/>
<rect x="435" y="290" width="8" height="8" fill="#00dcfe"/>
<rect x="443" y="290" width="9" height="8" fill="#00e4f8"/>
<rect x="452" y="290" width="8" height="8" fill="#00dcfe"/>
<rect x="460" y="290" width="9" height="8" fill="#00bcff"/>
<rect x="469" y="290" width="8" height="8" fill="#009cff"/>
<rect x="477" y="290" width="9" height="8" fill="#0088ff"/>
<rect x="486" y="290" width="8" height="8" fill="#0074ff"/>
<rect x="494" y="290" width="9" height="8" fill="#0068ff"/>
<rect x="503" y="290" width="8" height="8" fill="#0060ff"/>
<rect x="511" y="290" width="9" height="8" fill="#0054ff"/>
<rect x="520" y="290" width="8" height="8" fill="#0048ff"/>
<rect x="528" y="290" width="8" height="8" fill="#0038ff"/>
<rect x="536" y="290" width="9" height="8" fill="#0028ff"/>
<rect x="545" y="290" width="8" height="8" fill="#0018ff"/>
<rect x="553" y="290" width="9" height="8" fill="#000cff"/>
<rect x="562" y="290" width="25" height="8" fill="#0000ff"/>
<rect x="587" y="290" width="9" height="8" fill="#0000fa"/>
<rect x="596" y="290" width="8" height="8" fill="#0000ed"/>
<rect x="604" y="290" width="9" height="8" fill="#0000d6"/>
<rect x="613" y="290" width="8" height="8" fill="#0000cd"/>
<rect x="621" y="290" width="9" height="8" fill="#0000c8"/>
<rect x="630" y="290" width="8" height="8" fill="#0000c4"/>
<rect x="638" y="290" width="17" height="8" fill="#0000bb"/>
<rect x="655" y="290" width="51" height="8" fill="#0000b6"/>
<rect x="706" y="290" width="8" height="8" fill="#0000bf"/>
<rect x="105" y="298" width="8" height="9" fill="#0000ed"/>
<rect x="113" y="298" width="17" height="9" fill="#0000e8"/>
<rect x="130" y="298" width="9" height="9" fill="#0000e3"/>
<rect x="139" y="298" width="17" height="9" fill="#0000df"/>
<rect x="156" y="298" width="8" height="9" fill="#0000da"/>
<rect x="164" y="298" width="17" height="9" fill="#0000d6"/>
<rect x="181" y="298" width="9" height="9" fill="#0000d1"/>
<rect x="190" y="298" width="17" height="9" fill="#0000cd"/>
<rect x="207" y="298" width="25" height="9" fill="#0000c8"/>
<rect x="232" y="298" width="17" height="9" fill="#0000c4"/>
<rect x="249" y="298" width="17" height="9" fill="#0000bf"/>
<rect x="266" y="298" width="8" height="9" fill="#0000bb"/>
<rect x="274" y="298" width="9" height="9" fill="#0000b6"/>
<rect x="283" y="298" width="17" height="9" fill="#0000bb"/>
<rect x="300" y="298" width="8" height="9" fill="#0000c4"/>
<rect x="308" y="298" width="8" height="9" fill="#0000cd"/>
<rect x="316" y="298" width="9" height="9" fill="#0000d6"/>
<rect x="325" y="298" width="8" height="9" fill="#0000e8"/>
<rect x="333" y="298" width="9" height="9" fill="#0000f6"/>
<rect x="342" y="298" width="17" height="9" fill="#0000ff"/>
<rect x="359" y="298" width="8" height="9" fill="#000cff"/>
<rect x="367" y="298" width="9" height="9" fill="#0020ff"/>
<rect x="376" y="298" width="8" height="9" fill="#0038ff"/>
<rect x="384" y="298" width="9" height="9" fill="#004cff"/>
<rect x="393" y="298" width="8" height="9" fill="#0064ff"/>
<rect x="401" y="298" width="9" height="9" fill="#0078ff"/>
<rect x="410" y="298" width="8" height="9" fill="#008cff"/>
<rect x="418" y="298" width="8" height="9" fill="#00a8ff"/>
<rect x="426" y="298" width="9" height="9" fill="#00bcff"/>
<rect x="435" y="298" width="8" height="9" fill="#00c4ff"/>
<rect x="443" y="298" width="9" height="9" fill="#00d0ff"/>
<rect x="452" y="298" width="8" height="9" fill="#00c4ff"/>
<rect x="460" y="298" width="9" height="9" fill="#00b0ff"/>
<rect x="469" y="298" width="8" height="9" fill="#0094ff"/>
<rect x="477" y="298" width="9" height="9" fill="#0080ff"/>
<rect x="486" y="298" width="8" height="9" fill="#0070ff"/>
<rect x="494" y="298" width="9" height="9" fill="#0064ff"/>
<rect x="503" y="298" width="8" height="9" fill="#005cff"/>
<rect x="511" y="298" width="9" height="9" fill="#0050ff"/>
<rect x="520" y="298" width="8" height="9" fill="#0040ff"/>
<rect x="528" y="298" width="8" height="9" fill="#002cff"/>
<rect x="536" y="298" width="9" height="9" fill="#001cff"/>
<rect x="545" y="298" width="8" height="9" fill="#0010ff"/>
<rect x="553" y="298" width="9" height="9" fill="#0004ff"/>
<rect x="562" y="298" width="17" height="9" fill="#0000ff"/>
<rect x="579" y="298" width="8" height="9" fill="#0000f6"/>
<rect x="587" y="298" width="9" height="9" fill="#0000f1"/>
<rect x="596" y="298" width="8" height="9" fill="#0000df"/>
<rect x="604" y="298" width="9" height="9" fill="#0000d1"/>
<rect x="613" y="298" width="8" height="9" fill="#0000cd"/>
<rect x="621" y="298" width="9" height="9" fill="#0000c8"/>
<rect x="630" y="298" width="8" height="9" fill="#0000c4"/>
<rect x="638" y="298" width="68" height="9" fill="#0000bf"/>
<rect x="706" y="298" width="8" height="9" fill="#0000c8"/>
<rect x="105" y="307" width="8" height="8" fill="#0000e8"/>
<rect x="113" y="307" width="26" height="8" fill="#0000e3"/>
<rect x="139" y="307" width="17" height="8" fill="#0000df"/>
<rect x="156" y="307" width="8" height="8" fill="#0000da"/>
<rect x="164" y="307" width="17" height="8" fill="#0000d6"/>
<rect x="181" y="307" width="26" height="8" fill="#0000d1"/>
<rect x="207" y="307" width="16" height="8" fill="#0000cd"/>
<rect x="223" y="307" width="17" height="8" fill="#0000c8"/>
<rect x="240" y="307" width="9" height="8" fill="#0000c4"/>
<rect x="249" y="307" width="8" height="8" fill="#0000bf"/>
<rect x="257" y="307" width="17" height="8" fill="#0000bb"/>
<rect x="274" y="307" width="17" height="8" fill="#0000b6"/>
<rect x="291" y="307" width="9" height="8" fill="#0000bb"/>
<rect x="300" y="307" width="8" height="8" fill="#0000c4"/>
<rect x="308" y="307" width="8" height="8" fill="#0000c8"/>
<rect x="316" y="307" width="9" height="8" fill="#0000d1"/>
<rect x="325" y="307" width="8" height="8" fill="#0000e3"/>
<rect x="333" y="307" width="9" height="8" fill="#0000f1"/>
<rect x="342" y="307" width="17" height="8" fill="#0000ff"/>
<rect x="359" y="307" width="8" height="8" fill="#0008ff"/>
<rect x="367" y="307" width="9" height="8" fill="#0018ff"/>
<rect x="376" y="307" width="8" height="8" fill="#002cff"/>
<rect x="384" y="307" width="9" height="8" fill="#0040ff"/>
<rect x="393" y="307" width="8" height="8" fill="#0054ff"/>
<rect x="401" y="307" width="9" height="8" fill="#0068ff"/>
<rect x="410" y="307" width="8" height="8" fill="#0080ff"/>
<rect x="418" y="307" width="8" height="8" fill="#0098ff"/>
<rect x="426" y="307" width="9" height="8" fill="#00a8ff"/>
<rect x="435" y="307" width="8" height="8" fill="#00b0ff"/>
<rect x="443" y="307" width="9" height="8" fill="#00bcff"/>
<rect x="452" y="307" width="8" height="8" fill="#00b0ff"/>
<rect x="460" y="307" width="9" height="8" fill="#00a0ff"/>
<rect x="469" y="307" width="8" height="8" fill="#008cff"/>
<rect x="477" y="307" width="9" height="8" fill="#0078ff"/>
<rect x="486" y="307" width="8" height="8" fill="#0068ff"/>
<rect x="494" y="307" width="9" height="8" fill="#0060ff"/>
<rect x="503" y="307" width="8" height="8" fill="#0054ff"/>
<rect x="511" y="307" width="9" height="8" fill="#004cff"/>
<rect x="520" y="307" width="8" height="8" fill="#0038ff"/>
<rect x="528" y="307" width="8" height="8" fill="#0024ff"/>
<rect x="536" y="307" width="9" height="8" fill="#0014ff"/>
<rect x="545" y="307" width="8" height="8" fill="#0008ff"/>
<rect x="553" y="307" width="17" height="8" fill="#0000ff"/>
<rect x="570" y="307" width="9" height="8" fill="#0000fa"/>
<rect x="579" y="307" width="8" height="8" fill="#0000f6"/>
<rect x="587" y="307" width="9" height="8" fill="#0000f1"/>
<rect x="596" y="307" width="8" height="8" fill="#0000e3"/>
<rect x="604" y="307" width="9" height="8" fill="#0000d1"/>
<rect x="613" y="307" width="8" height="8" fill="#0000cd"/>
<rect x="621" y="307" width="9" height="8" fill="#0000c8"/>
<rect x="630" y="307" width="8" height="8" fill="#0000c4"/>
<rect x="638" y="307" width="68" height="8" fill="#0000bf"/>
<rect x="706" y="307" width="8" height="8" fill="#0000c8"/>
<rect x="105" y="315" width="25" height="8" fill="#0000df"/>
<rect x="130" y="315" width="26" height="8" fill="#0000da"/>
<rect x="156" y="315" width="25" height="8" fill="#0000d6"/>
<rect x="181" y="315" width="26" height="8" fill="#0000d1"/>
<rect x="207" y="315" width="33" height="8" fill="#0000cd"/>
<rect x="240" y="315" width="17" height="8" fill="#0000c8"/>
<rect x="257" y="315" width="9" height="8" fill="#0000bf"/>
<rect x="266" y="315" width="8" height="8" fill="#0000bb"/>
<rect x="274" y="315" width="17" height="8" fill="#0000b6"/>
<rect x="291" y="315" width="9" height="8" fill="#0000bb"/>
<rect x="300" y="315" width="8" height="8" fill="#0000bf"/>
<rect x="308" y="315" width="8" height="8" fill="#0000c8"/>
<rect x="316" y="315" width="9" height="8" fill="#0000d1"/>
<rect x="325" y="315" width="8" height="8" fill="#0000e3"/>
<rect x="333" y="315" width="9" height="8" fill="#0000f1"/>
<rect x="342" y="315" width="8" height="8" fill="#0000f6"/>
<rect x="350" y="315" width="9" height="8" fill="#0000ff"/>
<rect x="359" y="315" width="8" height="8" fill="#0004ff"/>
<rect x="367" y="315" width="9" height="8" fill="#0014ff"/>
<rect x="376" y="315" width="8" height="8" fill="#0020ff"/>
<rect x="384" y="315" width="9" height="8" fill="#0038ff"/>
<rect x="393" y="315" width="8" height="8" fill="#004cff"/>
<rect x="401" y="315" width="9" height="8" fill="#0060ff"/>
<rect x="410" y="315" width="8" height="8" fill="#0074ff"/>
<rect x="418" y="315" width="8" height="8" fill="#008cff"/>
<rect x="426" y="315" width="9" height="8" fill="#0098ff"/>
<rect x="435" y="315" width="8" height="8" fill="#00a0ff"/>
<rect x="443" y="315" width="9" height="8" fill="#00a8ff"/>
<rect x="452" y="315" width="8" height="8" fill="#00a0ff"/>
<rect x="460" y="315" width="9" height="8" fill="#0098ff"/>
<rect x="469" y="315" width="8" height="8" fill="#0088ff"/>
<rect x="477" y="315" width="9" height="8" fill="#0074ff"/>
<rect x="486" y="315" width="8" height="8" fill="#0064ff"/>
<rect x="494" y="315" width="9" height="8" fill="#005cff"/>
<rect x="503" y="315" width="8" height="8" fill="#0050ff"/>
<rect x="511" y="315" width="9" height="8" fill="#0044ff"/>
<rect x="520" y="315" width="8" height="8" fill="#0034ff"/>
<rect x="528" y="315" width="8" height="8" fill="#0024ff"/>
<rect x="536" y="315" width="9" height="8" fill="#0014ff"/>
<rect x="545" y="315" width="8" height="8" fill="#000cff"/>
<rect x="553" y="315" width="17" height="8" fill="#0000ff"/>
<rect x="570" y="315" width="9" height="8" fill="#0000fa"/>
<rect x="579" y="315" width="8" height="8" fill="#0000f6"/>
<rect x="587" y="315" width="9" height="8" fill="#0000ed"/>
<rect x="596" y="315" width="8" height="8" fill="#0000df"/>
<rect x="604" y="315" width="9" height="8" fill="#0000cd"/>
<rect x="613" y="315" width="8" height="8" fill="#0000c8"/>
<rect x="621" y="315" width="9" height="8" fill="#0000c4"/>
<rect x="630" y="315" width="8" height="8" fill="#0000bb"/>
<rect x="638" y="315" width="8" height="8" fill="#0000b6"/>
<rect x="646" y="315" width="51" height="8" fill="#0000b2"/>
<rect x="697" y="315" width="9" height="8" fill="#0000b6"/>
<rect x="706" y="315" width="8" height="8" fill="#0000c8"/>
<rect x="105" y="323" width="59" height="9" fill="#0000da"/>
<rect x="164" y="323" width="17" height="9" fill="#0000d6"/>
<rect x="181" y="323" width="26" height="9" fill="#0000d1"/>
<rect x="207" y="323" width="16" height="9" fill="#0000cd"/>
<rect x="223" y="323" width="17" height="9" fill="#0000c8"/>
<rect x="240" y="323" width="9" height="9" fill="#0000c4"/>
<rect x="249" y="323" width="8" height="9" fill="#0000bf"/>
<rect x="257" y="323" width="9" height="9" fill="#0000bb"/>
<rect x="266" y="323" width="8" height="9" fill="#0000b6"/>
<rect x="274" y="323" width="17" height="9" fill="#0000b2"/>
<rect x="291" y="323" width="9" height="9" fill="#0000b6"/>
<rect x="300" y="323" width="8" height="9" fill="#0000bb"/>
<rect x="308" y="323" width="8" height="9" fill="#0000bf"/>
<rect x="316" y="323" width="9" height="9" fill="#0000cd"/>
<rect x="325" y="323" width="8" height="9" fill="#0000df"/>
<rect x="333" y="323" width="9" height="9" fill="#0000ed"/>
<rect x="342" y="323" width="8" height="9" fill="#0000f1"/>
<rect x="350" y="323" width="17" height="9" fill="#0000ff"/>
<rect x="367" y="323" width="9" height="9" fill="#000cff"/>
<rect x="376" y="323" width="8" height="9" fill="#001cff"/>
<rect x="384" y="323" width="9" height="9" fill="#002cff"/>
<rect x="393" y="323" width="8" height="9" fill="#0040ff"/>
<rect x="401" y="323" width="9" height="9" fill="#0054ff"/>
<rect x="410" y="323" width="8" height="9" fill="#0068ff"/>
<rect x="418" y="323" width="8" height="9" fill="#0084ff"/>
<rect x="426" y="323" width="9" height="9" fill="#008cff"/>
<rect x="435" y="323" width="8" height="9" fill="#0094ff"/>
<rect x="443" y="323" width="9" height="9" fill="#0098ff"/>
<rect x="452" y="323" width="8" height="9" fill="#0094ff"/>
<rect x="460" y="323" width="9" height="9" fill="#008cff"/>
<rect x="469" y="323" width="8" height="9" fill="#0080ff"/>
<rect x="477" y="323" width="9" height="9" fill="#0070ff"/>
<rect x="486" y="323" width="8" height="9" fill="#0060ff"/>
<rect x="494" y="323" width="9" height="9" fill="#0054ff"/>
<rect x="503" y="323" width="8" height="9" fill="#004cff"/>
<rect x="511" y="323" width="9" height="9" fill="#0040ff"/>
<rect x="520" y="323" width="8" height="9" fill="#0034ff"/>
<rect x="528" y="323" width="8" height="9" fill="#0024ff"/>
<rect x="536" y="323" width="9" height="9" fill="#0014ff"/>
<rect x="545" y="323" width="8" height="9" fill="#0008ff"/>
<rect x="553" y="323" width="17" height="9" fill="#0000ff"/>
<rect x="570" y="323" width="9" height="9" fill="#0000fa"/>
<rect x="579" y="323" width="8" height="9" fill="#0000f1"/>
<rect x="587" y="323" width="9" height="9" fill="#0000e8"/>
<rect x="596" y="323" width="8" height="9" fill="#0000da"/>
<rect x="604" y="323" width="9" height="9" fill="#0000c8"/>
<rect x="613" y="323" width="8" height="9" fill="#0000c4"/>
<rect x="621" y="323" width="9" height="9" fill="#0000bb"/>
<rect x="630" y="323" width="8" height="9" fill="#0000b6"/>
<rect x="638" y="323" width="8" height="9" fill="#0000b2"/>
<rect x="646" y="323" width="51" height="9" fill="#0000ad"/>
<rect x="697" y="323" width="9" height="9" fill="#0000b2"/>
<rect x="706" y="323" width="8" height="9" fill="#0000bf"/>
<rect x="105" y="332" width="25" height="8" fill="#0000cd"/>
<rect x="130" y="332" width="34" height="8" fill="#0000c8"/>
<rect x="164" y="332" width="26" height="8" fill="#0000c4"/>
<rect x="190" y="332" width="25" height="8" fill="#0000bf"/>
<rect x="215" y="332" width="25" height="8" fill="#0000bb"/>
<rect x="240" y="332" width="26" height="8" fill="#0000b6"/>
<rect x="266" y="332" width="25" height="8" fill="#0000b2"/>
<rect x="291" y="332" width="9" height="8" fill="#0000b6"/>
<rect x="300" y="332" width="8" height="8" fill="#0000bb"/>
<rect x="308" y="332" width="8" height="8" fill="#0000bf"/>
<rect x="316" y="332" width="9" height="8" fill="#0000c8"/>
<rect x="325" y="332" width="8" height="8" fill="#0000cd"/>
<rect x="333" y="332" width="9" height="8" fill="#0000d6"/>
<rect x="342" y="332" width="8" height="8" fill="#0000e3"/>
<rect x="350" y="332" width="9" height="8" fill="#0000ed"/>
<rect x="359" y="332" width="8" height="8" fill="#0000fa"/>
<rect x="367" y="332" width="9" height="8" fill="#0000ff"/>
<rect x="376" y="332" width="8" height="8" fill="#0008ff"/>
<rect x="384" y="332" width="9" height="8" fill="#0018ff"/>
<rect x="393" y="332" width="8" height="8" fill="#0030ff"/>
<rect x="401" y="332" width="9" height="8" fill="#0048ff"/>
<rect x="410" y="332" width="8" height="8" fill="#0058ff"/>
<rect x="418" y="332" width="8" height="8" fill="#0064ff"/>
<rect x="426" y="332" width="9" height="8" fill="#006cff"/>
<rect x="435" y="332" width="8" height="8" fill="#0070ff"/>
<rect x="443" y="332" width="17" height="8" fill="#0074ff"/>
<rect x="460" y="332" width="9" height="8" fill="#0070ff"/>
<rect x="469" y="332" width="8" height="8" fill="#0068ff"/>
<rect x="477" y="332" width="9" height="8" fill="#0060ff"/>
<rect x="486" y="332" width="8" height="8" fill="#0058ff"/>
<rect x="494" y="332" width="9" height="8" fill="#004cff"/>
<rect x="503" y="332" width="8" height="8" fill="#0040ff"/>
<rect x="511" y="332" width="9" height="8" fill="#0034ff"/>
<rect x="520" y="332" width="8" height="8" fill="#0028ff"/>
<rect x="528" y="332" width="8" height="8" fill="#001cff"/>
<rect x="536" y="332" width="9" height="8" fill="#0010ff"/>
<rect x="545" y="332" width="8" height="8" fill="#0004ff"/>
<rect x="553" y="332" width="17" height="8" fill="#0000ff"/>
<rect x="570" y="332" width="9" height="8" fill="#0000f6"/>
<rect x="579" y="332" width="8" height="8" fill="#0000ed"/>
<rect x="587" y="332" width="9" height="8" fill="#0000e3"/>
<rect x="596" y="332" width="8" height="8" fill="#0000d1"/>
<rect x="604" y="332" width="9" height="8" fill="#0000c4"/>
<rect x="613" y="332" width="8" height="8" fill="#0000bb"/>
<rect x="621" y="332" width="9" height="8" fill="#0000b6"/>
<rect x="630" y="332" width="8" height="8" fill="#0000b2"/>
<rect x="638" y="332" width="8" height="8" fill="#0000ad"/>
<rect x="646" y="332" width="9" height="8" fill="#0000a8"/>
<rect x="655" y="332" width="42" height="8" fill="#0000a4"/>
<rect x="697" y="332" width="9" height="8" fill="#0000a8"/>
<rect x="706" y="332" width="8" height="8" fill="#0000bb"/>
<rect x="105" y="340" width="17" height="9" fill="#0000c8"/>
<rect x="122" y="340" width="17" height="9" fill="#0000c4"/>
<rect x="139" y="340" width="8" height="9" fill="#0000bf"/>
<rect x="147" y="340" width="34" height="9" fill="#0000bb"/>
<rect x="181" y="340" width="34" height="9" fill="#0000b6"/>
<rect x="215" y="340" width="76" height="9" fill="#0000b2"/>
<rect x="291" y="340" width="17" height="9" fill="#0000b6"/>
<rect x="308" y="340" width="8" height="9" fill="#0000bb"/>
<rect x="316" y="340" width="9" height="9" fill="#0000bf"/>
<rect x="325" y="340" width="8" height="9" fill="#0000c8"/>
<rect x="333" y="340" width="9" height="9" fill="#0000d1"/>
<rect x="342" y="340" width="8" height="9" fill="#0000da"/>
<rect x="350" y="340" width="9" height="9" fill="#0000e8"/>
<rect x="359" y="340" width="8" height="9" fill="#0000f1"/>
<rect x="367" y="340" width="9" height="9" fill="#0000fa"/>
<rect x="376" y="340" width="8" height="9" fill="#0000ff"/>
<rect x="384" y="340" width="9" height="9" fill="#0004ff"/>
<rect x="393" y="340" width="8" height="9" fill="#0018ff"/>
<rect x="401" y="340" width="9" height="9" fill="#002cff"/>
<rect x="410" y="340" width="8" height="9" fill="#003cff"/>
<rect x="418" y="340" width="8" height="9" fill="#0044ff"/>
<rect x="426" y="340" width="9" height="9" fill="#004cff"/>
<rect x="435" y="340" width="8" height="9" fill="#0050ff"/>
<rect x="443" y="340" width="26" height="9" fill="#0054ff"/>
<rect x="469" y="340" width="8" height="9" fill="#0050ff"/>
<rect x="477" y="340" width="9" height="9" fill="#004cff"/>
<rect x="486" y="340" width="8" height="9" fill="#0048ff"/>
<rect x="494" y="340" width="9" height="9" fill="#0040ff"/>
<rect x="503" y="340" width="8" height="9" fill="#0038ff"/>
<rect x="511" y="340" width="9" height="9" fill="#002cff"/>
<rect x="520" y="340" width="8" height="9" fill="#0024ff"/>
<rect x="528" y="340" width="8" height="9" fill="#0018ff"/>
<rect x="536" y="340" width="9" height="9" fill="#000cff"/>
<rect x="545" y="340" width="17" height="9" fill="#0000ff"/>
<rect x="562" y="340" width="8" height="9" fill="#0000fa"/>
<rect x="570" y="340" width="9" height="9" fill="#0000f1"/>
<rect x="579" y="340" width="8" height="9" fill="#0000e8"/>
<rect x="587" y="340" width="9" height="9" fill="#0000e3"/>
<rect x="596" y="340" width="8" height="9" fill="#0000d1"/>
<rect x="604" y="340" width="9" height="9" fill="#0000bf"/>
<rect x="613" y="340" width="8" height="9" fill="#0000bb"/>
<rect x="621" y="340" width="9" height="9" fill="#0000b2"/>
<rect x="630" y="340" width="8" height="9" fill="#0000ad"/>
<rect x="638" y="340" width="8" height="9" fill="#0000a8"/>
<rect x="646" y="340" width="51" height="9" fill="#0000a4"/>
<rect x="697" y="340" width="9" height="9" fill="#0000a8"/>
<rect x="706" y="340" width="8" height="9" fill="#0000b6"/>
<rect x="105" y="349" width="8" height="8" fill="#0000c4"/>
<rect x="113" y="349" width="17" height="8" fill="#0000bf"/>
<rect x="130" y="349" width="9" height="8" fill="#0000bb"/>
<rect x="139" y="349" width="34" height="8" fill="#0000b2"/>
<rect x="173" y="349" width="34" height="8" fill="#0000ad"/>
<rect x="207" y="349" width="42" height="8" fill="#0000a8"/>
<rect x="249" y="349" width="8" height="8" fill="#0000ad"/>
<rect x="257" y="349" width="34" height="8" fill="#0000b2"/>
<rect x="291" y="349" width="17" height="8" fill="#0000b6"/>
<rect x="308" y="349" width="8" height="8" fill="#0000bb"/>
<rect x="316" y="349" width="9" height="8" fill="#0000bf"/>
<rect x="325" y="349" width="8" height="8" fill="#0000c8"/>
<rect x="333" y="349" width="9" height="8" fill="#0000cd"/>
<rect x="342" y="349" width="8" height="8" fill="#0000d6"/>
<rect x="350" y="349" width="9" height="8" fill="#0000df"/>
<rect x="359" y="349" width="8" height="8" fill="#0000e8"/>
<rect x="367" y="349" width="9" height="8" fill="#0000f1"/>
<rect x="376" y="349" width="8" height="8" fill="#0000fa"/>
<rect x="384" y="349" width="9" height="8" fill="#0000ff"/>
<rect x="393" y="349" width="8" height="8" fill="#0004ff"/>
<rect x="401" y="349" width="9" height="8" fill="#0010ff"/>
<rect x="410" y="349" width="8" height="8" fill="#001cff"/>
<rect x="418" y="349" width="8" height="8" fill="#0024ff"/>
<rect x="426" y="349" width="9" height="8" fill="#002cff"/>
<rect x="435" y="349" width="17" height="8" fill="#0034ff"/>
<rect x="452" y="349" width="34" height="8" fill="#0038ff"/>
<rect x="486" y="349" width="8" height="8" fill="#0034ff"/>
<rect x="494" y="349" width="9" height="8" fill="#0030ff"/>
<rect x="503" y="349" width="8" height="8" fill="#002cff"/>
<rect x="511" y="349" width="9" height="8" fill="#0024ff"/>
<rect x="520" y="349" width="8" height="8" fill="#001cff"/>
<rect x="528" y="349" width="8" height="8" fill="#0010ff"/>
<rect x="536" y="349" width="9" height="8" fill="#0004ff"/>
<rect x="545" y="349" width="17" height="8" fill="#0000ff"/>
<rect x="562" y="349" width="8" height="8" fill="#0000f6"/>
<rect x="570" y="349" width="9" height="8" fill="#0000ed"/>
<rect x="579" y="349" width="8" height="8" fill="#0000e8"/>
<rect x="587" y="349" width="9" height="8" fill="#0000df"/>
<rect x="596" y="349" width="8" height="8" fill="#0000cd"/>
<rect x="604" y="349" width="9" height="8" fill="#0000bf"/>
<rect x="613" y="349" width="8" height="8" fill="#0000b6"/>
<rect x="621" y="349" width="9" height="8" fill="#0000b2"/>
<rect x="630" y="349" width="8" height="8" fill="#0000ad"/>
<rect x="638" y="349" width="8" height="8" fill="#0000a4"/>
<rect x="646" y="349" width="51" height="8" fill="#00009f"/>
<rect x="697" y="349" width="9" height="8" fill="#0000a4"/>
<rect x="706" y="349" width="8" height="8" fill="#0000b6"/>
<rect x="105" y="357" width="8" height="9" fill="#0000c4"/>
<rect x="113" y="357" width="17" height="9" fill="#0000bf"/>
<rect x="130" y="357" width="9" height="9" fill="#0000bb"/>
<rect x="139" y="357" width="17" height="9" fill="#0000b2"/>
<rect x="156" y="357" width="34" height="9" fill="#0000ad"/>
<rect x="190" y="357" width="42" height="9" fill="#0000a8"/>
<rect x="232" y="357" width="17" height="9" fill="#0000a4"/>
<rect x="249" y="357" width="8" height="9" fill="#0000a8"/>
<rect x="257" y="357" width="43" height="9" fill="#0000ad"/>
<rect x="300" y="357" width="8" height="9" fill="#0000b2"/>
<rect x="308" y="357" width="8" height="9" fill="#0000b6"/>
<rect x="316" y="357" width="9" height="9" fill="#0000bb"/>
<rect x="325" y="357" width="8" height="9" fill="#0000bf"/>
<rect x="333" y="357" width="9" height="9" fill="#0000c4"/>
<rect x="342" y="357" width="8" height="9" fill="#0000cd"/>
<rect x="350" y="357" width="9" height="9" fill="#0000d1"/>
<rect x="359" y="357" width="8" height="9" fill="#0000da"/>
<rect x="367" y="357" width="9" height="9" fill="#0000df"/>
<rect x="376" y="357" width="8" height="9" fill="#0000e8"/>
<rect x="384" y="357" width="9" height="9" fill="#0000f1"/>
<rect x="393" y="357" width="8" height="9" fill="#0000fa"/>
<rect x="401" y="357" width="17" height="9" fill="#0000ff"/>
<rect x="418" y="357" width="8" height="9" fill="#0008ff"/>
<rect x="426" y="357" width="9" height="9" fill="#000cff"/>
<rect x="435" y="357" width="8" height="9" fill="#0010ff"/>
<rect x="443" y="357" width="9" height="9" fill="#0014ff"/>
<rect x="452" y="357" width="8" height="9" fill="#0018ff"/>
<rect x="460" y="357" width="9" height="9" fill="#001cff"/>
<rect x="469" y="357" width="34" height="9" fill="#0020ff"/>
<rect x="503" y="357" width="8" height="9" fill="#0018ff"/>
<rect x="511" y="357" width="9" height="9" fill="#0010ff"/>
<rect x="520" y="357" width="8" height="9" fill="#000cff"/>
<rect x="528" y="357" width="8" height="9" fill="#0004ff"/>
<rect x="536" y="357" width="17" height="9" fill="#0000ff"/>
<rect x="553" y="357" width="9" height="9" fill="#0000fa"/>
<rect x="562" y="357" width="8" height="9" fill="#0000f1"/>
<rect x="570" y="357" width="9" height="9" fill="#0000e8"/>
<rect x="579" y="357" width="8" height="9" fill="#0000df"/>
<rect x="587" y="357" width="9" height="9" fill="#0000da"/>
<rect x="596" y="357" width="8" height="9" fill="#0000c8"/>
<rect x="604" y="357" width="9" height="9" fill="#0000b6"/>
<rect x="613" y="357" width="8" height="9" fill="#0000b2"/>
<rect x="621" y="357" width="9" height="9" fill="#0000ad"/>
<rect x="630" y="357" width="8" height="9" fill="#0000a8"/>
<rect x="638" y="357" width="8" height="9" fill="#0000a4"/>
<rect x="646" y="357" width="51" height="9" fill="#00009f"/>
<rect x="697" y="357" width="9" height="9" fill="#0000a4"/>
<rect x="706" y="357" width="8" height="9" fill="#0000ad"/>
<rect x="105" y="366" width="8" height="8" fill="#0000c4"/>
<rect x="113" y="366" width="17" height="8" fill="#0000bf"/>
<rect x="130" y="366" width="9" height="8" fill="#0000bb"/>
<rect x="139" y="366" width="8" height="8" fill="#0000b6"/>
<rect x="147" y="366" width="17" height="8" fill="#0000b2"/>
<rect x="164" y="366" width="34" height="8" fill="#0000ad"/>
<rect x="198" y="366" width="59" height="8" fill="#0000a8"/>
<rect x="257" y="366" width="51" height="8" fill="#0000ad"/>
<rect x="308" y="366" width="17" height="8" fill="#0000b2"/>
<rect x="325" y="366" width="8" height="8" fill="#0000b6"/>
<rect x="333" y="366" width="9" height="8" fill="#0000bb"/>
<rect x="342" y="366" width="8" height="8" fill="#0000bf"/>
<rect x="350" y="366" width="9" height="8" fill="#0000c8"/>
<rect x="359" y="366" width="8" height="8" fill="#0000cd"/>
<rect x="367" y="366" width="9" height="8" fill="#0000d1"/>
<rect x="376" y="366" width="8" height="8" fill="#0000d6"/>
<rect x="384" y="366" width="9" height="8" fill="#0000df"/>
<rect x="393" y="366" width="8" height="8" fill="#0000e3"/>
<rect x="401" y="366" width="9" height="8" fill="#0000e8"/>
<rect x="410" y="366" width="8" height="8" fill="#0000f1"/>
<rect x="418" y="366" width="17" height="8" fill="#0000f6"/>
<rect x="435" y="366" width="17" height="8" fill="#0000fa"/>
<rect x="452" y="366" width="68" height="8" fill="#0000ff"/>
<rect x="520" y="366" width="8" height="8" fill="#0000fa"/>
<rect x="528" y="366" width="8" height="8" fill="#0000f6"/>
<rect x="536" y="366" width="9" height="8" fill="#0000f1"/>
<rect x="545" y="366" width="8" height="8" fill="#0000ed"/>
<rect x="553" y="366" width="9" height="8" fill="#0000e3"/>
<rect x="562" y="366" width="8" height="8" fill="#0000df"/>
<rect x="570" y="366" width="9" height="8" fill="#0000da"/>
<rect x="579" y="366" width="8" height="8" fill="#0000d1"/>
<rect x="587" y="366" width="9" height="8" fill="#0000cd"/>
<rect x="596" y="366" width="8" height="8" fill="#0000c4"/>
<rect x="604" y="366" width="9" height="8" fill="#0000b6"/>
<rect x="613" y="366" width="8" height="8" fill="#0000b2"/>
<rect x="621" y="366" width="9" height="8" fill="#0000ad"/>
<rect x="630" y="366" width="16" height="8" fill="#0000a8"/>
<rect x="646" y="366" width="34" height="8" fill="#0000a4"/>
<rect x="680" y="366" width="17" height="8" fill="#0000a8"/>
<rect x="697" y="366" width="9" height="8" fill="#0000ad"/>
<rect x="706" y="366" width="8" height="8" fill="#0000b2"/>
<rect x="105" y="374" width="118" height="8" fill="#0000c8"/>
<rect x="223" y="374" width="26" height="8" fill="#0000c4"/>
<rect x="249" y="374" width="17" height="8" fill="#0000bf"/>
<rect x="266" y="374" width="8" height="8" fill="#0000bb"/>
<rect x="274" y="374" width="51" height="8" fill="#0000b6"/>
<rect x="325" y="374" width="25" height="8" fill="#0000bb"/>
<rect x="350" y="374" width="9" height="8" fill="#0000bf"/>
<rect x="359" y="374" width="8" height="8" fill="#0000c4"/>
<rect x="367" y="374" width="178" height="8" fill="#0000c8"/>
<rect x="545" y="374" width="17" height="8" fill="#0000c4"/>
<rect x="562" y="374" width="8" height="8" fill="#0000c8"/>
<rect x="570" y="374" width="34" height="8" fill="#0000cd"/>
<rect x="604" y="374" width="9" height="8" fill="#0000c4"/>
<rect x="613" y="374" width="17" height="8" fill="#0000bf"/>
<rect x="630" y="374" width="16" height="8" fill="#0000bb"/>
<rect x="646" y="374" width="26" height="8" fill="#0000b6"/>
<rect x="672" y="374" width="17" height="8" fill="#0000bb"/>
<rect x="689" y="374" width="17" height="8" fill="#0000bf"/>
<rect x="706" y="374" width="8" height="8" fill="#0000c4"/>
<rect x="105" y="382" width="85" height="9" fill="#0000e8"/>
<rect x="190" y="382" width="50" height="9" fill="#0000e3"/>
<rect x="240" y="382" width="26" height="9" fill="#0000df"/>
<rect x="266" y="382" width="127" height="9" fill="#0000da"/>
<rect x="393" y="382" width="8" height="9" fill="#0000d6"/>
<rect x="401" y="382" width="9" height="9" fill="#0000d1"/>
<rect x="410" y="382" width="16" height="9" fill="#0000c8"/>
<rect x="426" y="382" width="119" height="9" fill="#0000c4"/>
<rect x="545" y="382" width="17" height="9" fill="#0000c8"/>
<rect x="562" y="382" width="8" height="9" fill="#0000cd"/>
<rect x="570" y="382" width="9" height="9" fill="#0000d6"/>
<rect x="579" y="382" width="17" height="9" fill="#0000da"/>
<rect x="596" y="382" width="17" height="9" fill="#0000d6"/>
<rect x="613" y="382" width="8" height="9" fill="#0000d1"/>
<rect x="621" y="382" width="42" height="9" fill="#0000cd"/>
<rect x="663" y="382" width="17" height="9" fill="#0000d1"/>
<rect x="680" y="382" width="9" height="9" fill="#0000d6"/>
<rect x="689" y="382" width="8" height="9" fill="#0000da"/>
<rect x="697" y="382" width="17" height="9" fill="#0000df"/>
</g>
<g clip-path="url(#mapclip)" stroke-linejoin="round" stroke-linecap="round">
<path d="M148.5 123.1L156.0 123.9L162.8 124.6L171.2 125.1L174.6 126.0L181.4 127.2L184.7 126.3L191.5 125.3L196.5 124.6L201.6 125.5L203.3 126.5L208.3 125.6L215.1 127.0L218.5 128.3L221.0 129.2L226.9 128.8L230.3 129.5L232.0 128.2L235.3 128.0L240.4 129.0L246.3 129.2L248.0 127.8L250.5 128.3L251.4 126.3L250.2 124.5L252.2 122.1L254.7 123.1L256.4 124.8L257.6 126.1L259.8 127.8L263.2 129.5L265.2 130.0L266.9 128.8L268.1 127.0L268.6 125.6L273.3 125.6L275.3 126.6L275.0 128.0L273.6 129.5L275.2 130.4L271.6 131.5L269.1 131.7L266.2 131.2L265.7 133.2L263.2 135.1L259.8 136.1L256.4 137.9L253.9 140.1L252.7 142.2L252.7 144.2L255.6 144.5L256.4 147.2L259.8 146.9L264.0 148.1L269.1 150.1L273.6 150.4L273.8 154.0L275.0 155.3L276.7 156.8L279.2 156.5L279.5 154.3L278.7 151.4L281.7 149.8L283.1 147.6L281.7 144.7L280.4 143.9L281.7 141.3L280.9 138.3L282.6 137.9L287.6 138.3L291.0 139.6L294.4 140.5L295.2 143.0L296.9 144.7L300.3 144.2L302.8 141.7L303.7 141.7L307.1 144.7L308.7 147.2L310.4 149.8L314.6 150.9L316.3 153.1L318.4 154.8L317.2 156.5L313.0 158.5L307.9 158.7L302.8 158.7L299.5 160.2L296.1 161.9L292.7 164.3L295.2 162.8L299.5 161.1L303.7 160.4L303.7 162.4L302.0 163.8L303.2 165.5L305.4 165.8L308.7 166.3L311.3 164.9L310.4 166.6L305.4 168.3L301.1 170.0L301.1 168.3L303.7 167.0L299.5 167.5L296.1 169.2L293.6 170.3L293.0 171.7L294.4 172.9L291.9 173.5L288.5 174.6L287.6 175.1L287.3 176.8L286.0 177.9L285.1 180.1L284.3 181.0L284.6 182.7L285.1 184.0L282.6 185.2L280.9 186.2L278.4 187.7L275.8 189.7L275.0 191.9L276.7 195.8L277.5 198.7L276.8 200.9L275.5 200.9L274.5 199.2L273.0 196.5L272.8 194.5L270.8 192.8L268.2 193.1L265.7 192.1L262.3 192.3L261.5 194.1L259.0 194.0L254.7 193.3L252.2 194.1L248.8 196.5L248.3 199.5L247.5 202.9L247.5 205.8L248.5 208.8L250.5 211.3L252.7 212.5L256.4 212.0L259.0 211.3L259.8 208.8L260.3 207.8L264.0 207.1L265.9 207.6L264.9 210.5L264.0 212.5L263.5 213.9L262.7 216.6L264.9 216.7L267.4 216.6L270.8 216.9L272.1 218.1L271.6 221.5L271.3 224.0L271.6 225.7L273.3 227.4L275.0 228.4L277.5 227.9L279.2 227.4L281.7 228.7L282.9 229.9L284.3 227.7L285.1 225.7L286.3 224.7L289.3 224.0L291.9 222.5L291.5 224.8L291.9 225.7L294.4 224.0L294.4 222.8L296.9 224.3L297.8 225.5L301.1 225.5L303.7 226.2L306.2 225.3L307.9 225.3L308.2 226.5L309.6 228.2L309.9 228.9L312.1 229.6L313.8 231.6L315.8 233.3L318.9 233.4L321.4 233.6L323.9 235.0L325.6 236.1L326.5 239.2L328.1 240.5L328.1 242.6L326.5 243.9L328.1 245.1L330.7 244.6L332.4 244.6L335.7 245.9L337.8 247.6L340.0 247.4L342.5 248.3L345.0 248.1L347.5 249.6L350.1 251.7L352.9 252.2L353.6 255.2L353.4 258.6L350.9 261.3L349.2 263.6L347.0 265.7L346.7 268.7L346.7 272.9L345.5 274.6L345.0 277.7L343.3 280.5L341.6 282.2L339.1 282.2L336.6 283.4L334.0 284.2L331.5 286.1L330.5 288.1L330.3 291.5L328.1 294.0L326.5 296.2L324.4 297.9L322.2 300.8L319.9 302.3L317.5 302.3L315.0 301.4L314.0 300.8L315.8 303.0L316.3 305.0L315.0 307.9L311.3 309.0L307.6 309.0L307.4 311.7L305.4 312.9L302.8 312.6L302.8 315.1L304.9 315.1L303.7 315.9L302.3 318.5L299.5 320.2L298.6 321.9L301.1 323.0L301.3 324.4L298.6 326.9L296.9 328.3L296.1 330.3L297.1 331.8L292.9 332.5L292.7 334.2L290.2 333.3L288.5 332.0L286.3 330.3L286.0 327.8L285.1 325.2L286.8 323.5L284.9 322.2L287.6 319.3L289.3 316.8L289.7 314.3L288.2 313.4L288.2 310.0L288.5 306.7L289.3 305.0L290.2 302.5L291.5 299.1L291.9 294.9L292.2 290.6L293.2 286.4L293.7 283.0L294.1 278.8L293.9 274.4L291.9 272.6L288.5 270.9L285.6 269.2L283.8 266.7L282.2 263.6L280.6 260.3L279.2 257.2L277.7 254.9L275.5 253.5L275.3 251.0L277.0 249.1L277.7 247.6L276.0 247.3L276.5 245.1L277.4 243.4L277.5 242.1L279.4 241.0L280.1 239.2L281.9 237.5L281.7 234.1L281.9 231.9L281.1 231.3L280.4 229.9L280.1 228.2L278.4 228.2L277.0 229.4L277.5 230.9L275.8 231.1L274.7 229.9L272.6 229.6L271.5 228.9L271.3 228.2L269.6 227.2L267.7 226.5L267.7 224.8L266.2 222.8L264.7 221.5L263.2 221.1L260.7 220.3L258.3 219.8L256.8 218.8L254.2 216.4L252.2 216.1L249.7 216.9L246.3 215.9L243.8 214.7L240.7 213.4L237.9 212.5L235.3 210.5L234.3 208.8L234.8 207.1L233.7 204.9L231.1 202.4L228.6 200.4L227.8 198.4L226.1 197.0L225.2 196.2L223.2 194.5L221.8 191.4L219.0 189.9L218.8 191.6L221.0 194.5L222.4 196.5L224.0 198.7L225.7 201.6L227.2 204.3L226.9 204.8L224.4 202.4L223.2 201.2L223.0 199.2L221.0 198.2L219.3 197.0L218.5 196.5L219.7 195.0L217.3 192.8L215.6 189.9L214.8 188.4L212.7 186.0L209.0 185.0L206.8 181.6L205.8 179.6L203.6 176.8L202.8 175.2L202.9 172.5L203.1 169.2L203.3 165.5L202.1 161.7L205.0 162.1L205.8 163.3L205.3 160.7L204.1 159.9L201.6 158.2L198.2 157.4L196.5 154.8L194.0 152.3L192.3 151.1L190.6 149.8L188.1 148.1L186.4 145.5L183.9 143.9L181.4 144.7L177.1 142.5L173.8 142.2L169.5 142.2L166.2 140.8L162.8 141.3L160.3 142.5L156.9 143.3L156.9 140.8L159.4 140.1L156.0 140.8L153.5 143.0L151.8 144.7L148.5 146.4L145.1 148.4L140.9 150.1L137.5 150.9L134.4 151.3L138.3 149.3L141.7 148.4L145.1 146.4L146.8 144.5L144.2 144.5L140.0 144.2L139.2 142.2L135.0 141.3L133.6 139.6L132.4 138.8L135.0 137.1L140.9 136.3L141.2 134.4L138.3 134.6L132.4 134.6L129.1 132.7L132.4 131.5L136.3 131.2L139.2 131.9L138.3 130.4L135.8 129.2L131.6 128.0L134.1 127.2L137.5 126.1L140.9 124.8L145.1 123.9ZM289.3 111.5L297.8 109.3L302.8 106.4L311.3 105.0L328.1 104.2L345.0 102.5L361.9 102.4L375.4 104.2L378.8 105.9L392.3 105.9L383.8 108.4L380.4 111.0L380.4 113.5L377.1 115.2L379.6 117.7L375.4 119.4L373.7 121.6L375.4 124.5L370.3 125.3L372.0 127.0L366.9 128.2L360.2 128.7L355.1 131.2L350.1 132.6L345.0 133.7L343.3 136.3L340.8 138.8L340.0 141.7L337.4 142.3L334.9 141.0L330.7 140.1L328.1 137.9L325.6 135.4L323.1 132.4L321.9 129.5L325.6 127.5L326.5 126.1L320.5 124.8L320.0 123.1L318.4 121.1L315.5 117.7L311.3 115.5L305.4 114.8L297.8 115.2L292.7 113.5ZM371.5 132.9L374.5 131.4L377.9 132.7L382.1 131.9L385.5 131.2L387.9 132.9L389.6 133.7L387.2 134.9L382.1 136.3L377.9 136.1L374.2 135.6L375.4 134.7L372.0 133.9L375.4 133.2ZM467.0 190.8L464.8 190.3L462.3 191.1L458.9 190.6L455.0 190.1L451.3 188.4L448.8 187.9L446.2 189.4L446.2 191.4L444.6 192.3L442.0 191.3L438.7 189.7L437.8 188.7L434.4 187.9L431.4 187.2L429.7 186.0L430.7 184.3L430.6 181.5L431.1 181.0L429.0 180.5L426.0 181.1L420.9 181.3L417.6 181.3L412.5 183.0L409.1 184.2L405.8 184.0L403.4 182.8L402.4 183.5L401.0 186.0L398.2 187.2L396.0 190.3L396.1 192.3L395.3 194.1L393.1 195.8L390.6 196.5L388.0 199.0L385.5 202.9L383.8 206.6L383.8 208.0L385.0 210.5L384.7 215.6L383.0 218.6L384.2 221.1L384.3 222.6L386.3 224.8L388.0 226.2L390.1 228.2L390.6 229.6L393.1 231.8L396.5 234.3L399.8 236.0L404.1 234.8L407.4 234.8L409.1 235.3L412.5 234.0L414.5 233.1L417.1 232.8L419.8 232.8L421.4 235.0L422.6 236.1L425.2 236.0L426.8 235.5L428.5 236.7L429.0 238.3L429.0 240.0L428.2 241.7L428.2 242.9L427.3 244.6L428.5 246.8L430.2 248.8L432.4 251.2L433.1 253.2L434.1 255.2L434.8 257.7L435.8 261.1L435.3 264.2L433.6 266.2L432.7 268.7L432.4 272.4L433.6 275.5L435.3 278.8L436.8 281.4L437.0 283.9L437.8 288.1L440.0 291.5L441.5 294.9L443.2 297.4L443.5 300.8L445.4 301.9L446.2 302.1L449.6 301.1L453.0 300.8L455.9 300.8L458.9 299.9L463.1 296.0L464.8 293.7L467.3 291.5L468.0 287.3L467.8 286.4L471.6 284.7L472.4 282.2L472.2 279.7L471.2 277.1L474.1 274.6L476.6 272.4L480.0 270.4L481.2 268.7L481.0 264.5L480.8 261.1L479.5 258.6L478.8 256.1L478.3 253.5L478.1 251.8L479.3 250.1L480.8 247.6L482.5 246.3L484.2 244.2L486.7 241.7L490.1 239.2L493.5 235.8L496.0 231.6L497.7 227.9L498.9 225.7L499.1 223.5L495.2 224.3L491.8 224.7L488.4 225.7L485.9 224.5L485.4 223.8L485.6 222.3L483.4 220.1L481.7 218.4L480.0 217.2L478.6 215.6L477.5 213.0L475.8 211.7L475.3 208.0L474.6 206.3L472.6 202.9L470.7 199.5L469.5 197.0L468.2 195.3L467.3 193.0ZM467.3 193.0L468.7 195.3L470.4 196.5L471.2 193.6L471.6 196.2L474.1 199.5L475.8 202.6L478.0 205.4L478.6 208.0L480.8 210.5L482.5 213.0L484.2 215.6L485.0 218.9L485.6 221.5L486.7 222.1L488.4 221.8L492.6 220.1L495.2 219.3L498.5 217.6L500.7 216.4L503.6 214.7L506.1 213.4L508.7 211.7L510.4 209.1L512.0 207.1L513.4 205.4L511.2 203.6L508.7 202.9L507.5 200.4L507.7 199.0L506.1 200.4L503.6 202.6L500.2 202.9L499.6 202.1L499.4 199.5L498.2 200.4L497.2 198.7L496.0 197.0L494.3 195.3L493.5 193.1L494.8 192.3L496.9 192.8L498.2 194.5L499.4 196.3L501.9 198.2L504.8 198.5L507.5 197.7L509.0 199.9L512.0 200.5L516.3 200.9L520.5 200.7L524.7 200.5L526.0 201.7L527.6 203.4L529.8 205.3L528.9 205.9L531.1 208.1L533.1 208.0L534.5 206.8L535.2 208.8L535.3 211.3L536.2 214.7L537.4 218.1L538.7 221.5L540.4 224.3L541.6 227.4L543.3 229.7L544.6 228.4L546.1 227.7L547.1 226.0L547.3 223.2L548.0 220.6L547.6 217.6L549.2 216.4L551.4 215.1L553.4 213.0L555.9 210.5L558.4 209.1L559.3 207.5L561.8 206.8L564.3 206.3L566.9 205.4L567.7 208.0L569.1 210.5L571.1 213.0L571.9 216.4L573.6 216.7L576.2 215.1L577.3 217.2L577.8 219.8L578.9 223.2L578.7 226.5L578.4 229.4L580.4 231.9L581.9 234.1L583.4 238.3L585.4 240.0L587.1 241.2L588.3 241.0L587.1 238.3L587.0 235.8L584.9 232.9L582.9 231.8L581.6 229.1L580.0 227.7L580.9 224.0L581.2 221.0L582.9 220.8L582.9 222.0L585.4 223.2L586.3 224.8L588.8 225.7L589.7 228.2L589.3 228.9L592.2 226.9L593.0 225.7L596.4 224.0L596.9 221.5L596.4 218.1L594.7 216.1L592.5 213.5L591.0 211.3L592.5 208.8L594.7 207.1L597.2 207.1L597.8 208.8L598.6 209.1L598.9 207.5L601.5 206.6L604.3 205.8L605.7 205.3L609.1 204.3L611.6 202.1L614.1 199.9L615.0 197.8L617.5 195.3L618.3 192.8L616.7 191.6L618.2 190.3L616.3 188.1L615.3 185.5L613.8 184.3L615.8 182.3L619.2 181.0L618.7 180.1L616.3 179.6L613.3 180.5L611.6 178.4L611.1 177.3L613.6 176.8L616.7 174.6L618.3 174.9L617.0 177.6L617.8 177.8L620.9 176.2L622.2 175.9L623.4 176.8L623.7 178.9L623.1 179.3L625.1 181.0L625.9 182.7L625.6 184.9L627.6 184.7L630.1 184.0L631.0 181.8L630.7 180.1L629.3 178.4L627.6 176.8L628.5 175.6L631.3 174.2L633.0 172.0L635.2 170.5L637.7 171.2L641.1 168.7L644.5 165.8L647.0 163.3L649.2 160.7L649.6 157.4L650.9 155.3L650.7 153.6L647.9 152.3L644.5 152.3L640.8 150.9L644.5 148.1L647.0 146.9L649.6 145.5L652.9 143.5L657.1 143.2L663.0 143.0L667.3 143.0L670.6 143.9L674.0 143.0L676.5 139.6L680.8 139.1L683.0 139.0L688.4 137.9L690.0 137.9L687.9 139.6L687.2 141.3L685.0 142.2L682.1 145.5L677.1 147.2L675.4 148.9L675.0 151.4L675.7 154.8L676.9 157.5L679.6 155.7L680.1 154.0L682.5 152.0L685.5 150.6L686.2 148.6L688.0 148.6L687.5 145.9L686.3 145.0L689.2 143.0L692.6 142.2L699.8 142.2L702.7 140.5L706.9 139.1L712.0 137.9L715.0 137.9L715.4 136.8L713.7 134.6L712.0 134.2L710.3 133.4L713.7 132.9L716.2 132.4L718.7 131.7L722.9 132.9L727.2 134.6L728.9 133.7L733.1 132.0L731.4 130.7L726.3 130.0L719.6 128.2L716.2 127.2L711.1 126.1L706.1 125.6L701.0 125.3L699.3 127.0L700.2 127.3L695.9 125.6L689.2 125.8L684.1 126.1L682.5 125.0L675.7 123.6L669.0 123.6L665.6 122.4L660.5 121.4L653.8 121.1L649.6 120.6L647.9 122.8L643.6 123.1L638.6 122.9L636.9 122.8L631.8 123.6L630.1 121.9L626.8 119.6L623.4 119.2L620.0 120.2L615.0 120.2L604.8 119.1L603.2 118.7L598.9 118.2L601.5 115.2L593.0 113.5L588.5 112.3L581.2 114.3L572.8 115.2L564.3 116.0L559.3 116.9L557.6 118.5L550.9 119.1L548.3 121.1L544.1 121.4L542.4 121.1L538.2 120.6L536.5 123.6L537.4 127.0L535.7 129.5L534.0 131.2L531.4 131.2L533.1 128.7L534.8 126.1L534.8 123.6L534.0 121.1L530.6 120.2L527.2 122.8L525.2 124.5L525.5 127.0L528.1 128.2L522.2 126.6L515.4 125.6L514.6 127.3L508.7 127.8L503.6 128.2L501.9 127.3L495.2 128.7L491.0 128.7L487.1 127.8L485.6 127.7L486.7 130.7L487.6 132.0L485.0 131.5L481.7 132.0L480.0 132.9L480.8 134.6L475.8 135.4L471.6 134.9L468.2 132.0L467.3 130.4L471.6 131.2L476.6 132.0L480.8 131.2L482.0 130.4L481.7 129.2L476.6 127.8L471.6 126.6L468.2 126.3L464.8 125.6L463.1 125.3L459.7 123.6L456.0 123.4L451.3 124.5L446.2 125.3L442.9 126.5L438.7 128.2L437.0 129.9L434.4 132.0L432.7 133.7L430.2 135.4L427.7 136.6L424.3 137.4L420.9 138.8L420.9 140.5L420.9 143.0L422.1 144.4L424.3 145.5L426.8 145.0L429.4 143.9L430.6 143.0L431.1 143.9L431.6 145.0L432.7 146.7L434.1 148.9L434.4 149.9L436.6 149.6L437.0 148.6L439.5 148.4L440.3 146.4L441.2 144.4L443.7 143.0L444.2 141.7L441.7 140.8L441.7 138.8L442.9 137.4L445.4 136.3L447.9 134.9L448.8 133.2L450.5 132.4L453.3 132.4L455.2 133.6L453.8 134.9L450.5 136.6L448.4 137.9L448.8 140.5L448.4 141.3L451.0 142.3L454.7 141.8L458.1 141.3L461.4 142.0L463.5 142.3L459.7 142.8L456.4 142.8L452.1 143.3L452.1 145.0L453.8 145.0L453.5 146.9L452.1 147.2L450.5 146.0L448.8 146.6L447.9 148.1L447.9 150.1L446.2 150.8L445.6 151.6L443.9 151.4L443.4 150.9L440.3 151.4L436.6 152.3L433.6 151.6L431.1 152.3L430.7 151.4L429.4 151.1L429.0 149.8L430.2 148.1L430.2 146.4L428.5 146.9L426.3 147.2L426.2 148.9L426.5 150.1L427.2 150.9L427.3 152.3L426.3 153.0L424.3 153.3L422.6 153.3L420.6 154.0L419.6 155.7L418.4 156.7L416.7 157.4L415.2 157.7L415.0 158.7L412.8 159.7L410.5 160.1L410.0 161.2L407.4 161.1L404.6 161.6L405.2 162.8L408.3 163.6L409.1 164.9L410.5 165.8L410.5 168.3L409.6 170.2L406.6 170.0L402.4 169.8L399.0 169.7L397.0 170.9L397.7 172.5L397.7 175.1L396.6 177.9L397.7 178.8L397.5 181.0L399.8 180.6L401.7 181.5L403.1 182.7L404.9 181.5L408.8 181.3L411.3 180.0L412.5 178.1L412.0 176.8L413.8 174.6L416.2 173.5L417.9 172.0L417.6 170.5L420.1 170.2L422.6 170.7L425.2 169.5L427.3 168.5L429.4 169.2L430.2 171.0L433.1 173.0L435.3 173.9L437.0 174.9L438.8 175.9L439.5 177.6L439.0 179.3L440.3 178.8L441.4 177.6L440.5 176.2L441.2 175.1L443.4 175.9L443.7 175.7L442.7 174.7L439.5 173.4L439.5 172.7L437.8 172.5L436.1 171.4L435.3 169.8L433.4 168.8L433.3 167.1L435.6 166.3L435.4 167.5L436.1 167.8L437.0 167.1L438.1 168.8L439.5 170.0L442.0 170.9L443.7 171.9L445.2 172.9L445.2 175.1L446.2 176.4L447.9 177.9L448.3 178.8L448.8 180.1L449.1 181.3L450.5 181.8L451.3 181.8L451.6 180.5L451.3 179.5L453.0 179.8L453.0 178.9L451.3 177.6L451.0 176.8L450.8 175.2L452.1 175.6L453.0 175.9L453.7 174.4L456.4 174.6L456.7 175.4L457.5 175.1L459.7 174.2L461.4 173.9L459.7 172.9L459.2 171.4L460.6 170.0L460.9 168.3L462.6 167.1L464.3 165.3L466.2 164.6L468.2 165.6L467.3 166.8L469.0 168.2L472.1 167.5L474.1 167.0L471.6 166.1L472.4 164.9L475.8 164.1L478.6 163.8L477.0 164.9L476.1 166.1L474.9 167.0L476.6 168.3L479.5 170.0L482.5 171.7L482.7 173.2L480.0 174.2L476.6 174.2L474.1 173.7L471.6 172.5L468.2 172.5L465.6 173.7L461.8 174.1L461.1 175.1L458.1 175.2L456.7 176.8L458.1 178.4L458.6 180.6L460.1 181.5L462.3 182.3L464.1 181.3L466.5 182.5L469.4 182.3L471.6 181.5L473.4 181.5L473.1 183.5L472.9 185.2L471.9 187.4L471.4 188.9L470.7 190.3L469.0 190.9L467.3 190.9ZM-140.1 193.0L-138.7 195.3L-137.0 196.5L-136.2 193.6L-135.8 196.2L-133.3 199.5L-131.6 202.6L-129.4 205.4L-128.8 208.0L-126.6 210.5L-124.9 213.0L-123.2 215.6L-122.3 218.9L-121.8 221.5L-120.7 222.1L-119.0 221.8L-114.8 220.1L-112.2 219.3L-108.8 217.6L-106.7 216.4L-103.8 214.7L-101.3 213.4L-98.7 211.7L-97.0 209.1L-95.3 207.1L-94.0 205.4L-96.2 203.6L-98.7 202.9L-99.9 200.4L-99.7 199.0L-101.3 200.4L-103.8 202.6L-107.2 202.9L-107.8 202.1L-108.0 199.5L-109.2 200.4L-110.2 198.7L-111.4 197.0L-113.1 195.3L-113.9 193.1L-112.6 192.3L-110.5 192.8L-109.2 194.5L-108.0 196.3L-105.5 198.2L-102.6 198.5L-99.9 197.7L-98.4 199.9L-95.3 200.5L-91.1 200.9L-86.9 200.7L-82.7 200.5L-81.3 201.7L-79.8 203.4L-77.6 205.3L-78.5 205.9L-76.3 208.1L-74.3 208.0L-72.9 206.8L-72.2 208.8L-72.1 211.3L-71.2 214.7L-70.0 218.1L-68.7 221.5L-67.0 224.3L-65.8 227.4L-64.1 229.7L-62.8 228.4L-61.3 227.7L-60.3 226.0L-60.1 223.2L-59.4 220.6L-59.7 217.6L-58.2 216.4L-56.0 215.1L-54.0 213.0L-51.5 210.5L-48.9 209.1L-48.1 207.5L-45.6 206.8L-43.0 206.3L-40.5 205.4L-39.7 208.0L-38.3 210.5L-36.3 213.0L-35.5 216.4L-33.8 216.7L-31.2 215.1L-30.1 217.2L-29.5 219.8L-28.5 223.2L-28.7 226.5L-29.0 229.4L-27.0 231.9L-25.5 234.1L-24.0 238.3L-22.0 240.0L-20.3 241.2L-19.1 241.0L-20.3 238.3L-20.4 235.8L-22.5 232.9L-24.5 231.8L-25.8 229.1L-27.4 227.7L-26.5 224.0L-26.2 221.0L-24.5 220.8L-24.5 222.0L-22.0 223.2L-21.1 224.8L-18.6 225.7L-17.7 228.2L-18.1 228.9L-15.2 226.9L-14.4 225.7L-11.0 224.0L-10.5 221.5L-11.0 218.1L-12.7 216.1L-14.9 213.5L-16.4 211.3L-14.9 208.8L-12.7 207.1L-10.1 207.1L-9.6 208.8L-8.8 209.1L-8.5 207.5L-5.9 206.6L-3.1 205.8L-1.7 205.3L1.7 204.3L4.2 202.1L6.7 199.9L7.6 197.8L10.1 195.3L10.9 192.8L9.3 191.6L10.8 190.3L8.9 188.1L7.9 185.5L6.4 184.3L8.4 182.3L11.8 181.0L11.3 180.1L8.9 179.6L5.9 180.5L4.2 178.4L3.7 177.3L6.2 176.8L9.3 174.6L10.9 174.9L9.6 177.6L10.4 177.8L13.5 176.2L14.8 175.9L16.0 176.8L16.3 178.9L15.7 179.3L17.7 181.0L18.5 182.7L18.2 184.9L20.2 184.7L22.8 184.0L23.6 181.8L23.3 180.1L21.9 178.4L20.2 176.8L21.1 175.6L23.9 174.2L25.6 172.0L27.8 170.5L30.3 171.2L33.7 168.7L37.1 165.8L39.6 163.3L41.8 160.7L42.2 157.4L43.5 155.3L43.3 153.6L40.5 152.3L37.1 152.3L33.4 150.9L37.1 148.1L39.6 146.9L42.2 145.5L45.5 143.5L49.8 143.2L55.7 143.0L59.9 143.0L63.2 143.9L66.6 143.0L69.2 139.6L73.4 139.1L75.6 139.0L81.0 137.9L82.7 137.9L80.5 139.6L79.8 141.3L77.6 142.2L74.7 145.5L69.7 147.2L68.0 148.9L67.6 151.4L68.3 154.8L69.5 157.5L72.2 155.7L72.7 154.0L75.1 152.0L78.1 150.6L78.8 148.6L80.6 148.6L80.1 145.9L78.9 145.0L81.8 143.0L85.2 142.2L92.4 142.2L95.3 140.5L99.5 139.1L104.6 137.9L107.6 137.9L108.0 136.8L106.3 134.6L104.6 134.2L102.9 133.4L106.3 132.9L108.8 132.4L111.3 131.7L115.6 132.9L119.8 134.6L121.5 133.7L125.7 132.0L124.0 130.7L118.9 130.0L112.2 128.2L108.8 127.2L103.7 126.1L98.7 125.6L93.6 125.3L91.9 127.0L92.8 127.3L88.6 125.6L81.8 125.8L76.7 126.1L75.1 125.0L68.3 123.6L61.6 123.6L58.2 122.4L53.1 121.4L46.4 121.1L42.2 120.6L40.5 122.8L36.3 123.1L31.2 122.9L29.5 122.8L24.4 123.6L22.8 121.9L19.4 119.6L16.0 119.2L12.6 120.2L7.6 120.2L-2.6 119.1L-4.2 118.7L-8.5 118.2L-5.9 115.2L-14.4 113.5L-18.9 112.3L-26.2 114.3L-34.6 115.2L-43.0 116.0L-48.1 116.9L-49.8 118.5L-56.5 119.1L-59.1 121.1L-63.3 121.4L-65.0 121.1L-69.2 120.6L-70.9 123.6L-70.0 127.0L-71.7 129.5L-73.4 131.2L-75.9 131.2L-74.3 128.7L-72.6 126.1L-72.6 123.6L-73.4 121.1L-76.8 120.2L-80.2 122.8L-82.2 124.5L-81.8 127.0L-79.3 128.2L-85.2 126.6L-92.0 125.6L-92.8 127.3L-98.7 127.8L-103.8 128.2L-105.5 127.3L-112.2 128.7L-116.4 128.7L-120.3 127.8L-121.8 127.7L-120.7 130.7L-119.8 132.0L-122.3 131.5L-125.7 132.0L-127.4 132.9L-126.6 134.6L-131.6 135.4L-135.8 134.9L-139.2 132.0L-140.1 130.4L-135.8 131.2L-130.8 132.0L-126.6 131.2L-125.4 130.4L-125.7 129.2L-130.8 127.8L-135.8 126.6L-139.2 126.3L-142.6 125.6L-144.3 125.3L-147.7 123.6L-151.4 123.4L-156.1 124.5L-161.1 125.3L-164.5 126.5L-168.7 128.2L-170.4 129.9L-173.0 132.0L-174.6 133.7L-177.2 135.4L-179.7 136.6L-183.1 137.4L-186.5 138.8L-186.5 140.5L-186.5 143.0L-185.3 144.4L-183.1 145.5L-180.6 145.0L-178.0 143.9L-176.8 143.0L-176.3 143.9L-175.8 145.0L-174.6 146.7L-173.3 148.9L-173.0 149.9L-170.8 149.6L-170.4 148.6L-167.9 148.4L-167.1 146.4L-166.2 144.4L-163.7 143.0L-163.2 141.7L-165.7 140.8L-165.7 138.8L-164.5 137.4L-162.0 136.3L-159.5 134.9L-158.6 133.2L-156.9 132.4L-154.1 132.4L-152.2 133.6L-153.6 134.9L-156.9 136.6L-159.0 137.9L-158.6 140.5L-159.0 141.3L-156.4 142.3L-152.7 141.8L-149.3 141.3L-146.0 142.0L-143.9 142.3L-147.7 142.8L-151.0 142.8L-155.2 143.3L-155.2 145.0L-153.6 145.0L-153.9 146.9L-155.2 147.2L-156.9 146.0L-158.6 146.6L-159.5 148.1L-159.5 150.1L-161.1 150.8L-161.8 151.6L-163.5 151.4L-164.0 150.9L-167.1 151.4L-170.8 152.3L-173.8 151.6L-176.3 152.3L-176.7 151.4L-178.0 151.1L-178.4 149.8L-177.2 148.1L-177.2 146.4L-178.9 146.9L-181.1 147.2L-181.2 148.9L-180.9 150.1L-180.2 150.9L-180.0 152.3L-181.1 153.0L-183.1 153.3L-184.8 153.3L-186.8 154.0L-187.8 155.7L-189.0 156.7L-190.7 157.4L-192.2 157.7L-192.4 158.7L-194.6 159.7L-196.9 160.1L-197.4 161.2L-200.0 161.1L-202.8 161.6L-202.1 162.8L-199.1 163.6L-198.3 164.9L-196.9 165.8L-196.9 168.3L-197.8 170.2L-200.8 170.0L-205.0 169.8L-208.4 169.7L-210.4 170.9L-209.7 172.5L-209.7 175.1L-210.8 177.9L-209.7 178.8L-209.9 181.0L-207.5 180.6L-205.7 181.5L-204.3 182.7L-202.5 181.5L-198.6 181.3L-196.1 180.0L-194.9 178.1L-195.4 176.8L-193.5 174.6L-191.2 173.5L-189.5 172.0L-189.8 170.5L-187.3 170.2L-184.8 170.7L-182.2 169.5L-180.0 168.5L-178.0 169.2L-177.2 171.0L-174.3 173.0L-172.1 173.9L-170.4 174.9L-168.6 175.9L-167.9 177.6L-168.4 179.3L-167.1 178.8L-166.0 177.6L-166.9 176.2L-166.2 175.1L-164.0 175.9L-163.7 175.7L-164.7 174.7L-167.9 173.4L-167.9 172.7L-169.6 172.5L-171.3 171.4L-172.1 169.8L-174.0 168.8L-174.1 167.1L-171.8 166.3L-171.9 167.5L-171.3 167.8L-170.4 167.1L-169.2 168.8L-167.9 170.0L-165.4 170.9L-163.7 171.9L-162.2 172.9L-162.2 175.1L-161.1 176.4L-159.5 177.9L-159.1 178.8L-158.6 180.1L-158.3 181.3L-156.9 181.8L-156.1 181.8L-155.7 180.5L-156.1 179.5L-154.4 179.8L-154.4 178.9L-156.1 177.6L-156.4 176.8L-156.6 175.2L-155.2 175.6L-154.4 175.9L-153.7 174.4L-151.0 174.6L-150.7 175.4L-149.8 175.1L-147.7 174.2L-146.0 173.9L-147.7 172.9L-148.2 171.4L-146.8 170.0L-146.5 168.3L-144.8 167.1L-143.1 165.3L-141.2 164.6L-139.2 165.6L-140.1 166.8L-138.4 168.2L-135.3 167.5L-133.3 167.0L-135.8 166.1L-135.0 164.9L-131.6 164.1L-128.8 163.8L-130.4 164.9L-131.3 166.1L-132.5 167.0L-130.8 168.3L-127.9 170.0L-124.9 171.7L-124.7 173.2L-127.4 174.2L-130.8 174.2L-133.3 173.7L-135.8 172.5L-139.2 172.5L-141.7 173.7L-145.6 174.1L-146.3 175.1L-149.3 175.2L-150.7 176.8L-149.3 178.4L-148.8 180.6L-147.3 181.5L-145.1 182.3L-143.3 181.3L-140.9 182.5L-138.0 182.3L-135.8 181.5L-134.0 181.5L-134.3 183.5L-134.5 185.2L-135.5 187.4L-136.0 188.9L-136.7 190.3L-138.4 190.9L-140.1 190.9ZM604.3 281.4L605.2 280.2L607.4 278.5L609.9 278.2L613.3 277.1L616.7 276.3L618.8 273.8L618.7 272.1L620.9 272.6L621.2 270.7L623.4 268.7L625.9 267.0L628.5 268.4L631.0 268.5L631.5 266.2L633.2 264.3L636.1 263.6L636.4 262.5L640.3 264.0L643.3 264.0L642.8 266.2L641.6 268.7L644.5 270.4L647.5 272.9L650.1 272.9L651.4 268.7L651.6 265.3L652.4 262.0L652.9 261.5L654.6 265.0L655.1 267.5L657.7 268.7L658.0 271.2L659.2 275.1L661.4 276.3L663.6 277.7L664.7 280.5L666.9 282.7L669.8 285.2L671.0 287.3L671.5 291.0L670.6 294.9L669.8 298.2L667.6 300.8L666.1 304.1L665.4 306.7L662.2 307.3L659.3 309.2L657.1 308.0L654.6 308.9L651.2 308.0L648.7 306.7L647.9 304.1L645.7 303.5L646.2 302.1L645.0 302.8L643.6 302.8L645.0 299.9L645.0 298.4L642.8 301.6L641.6 302.1L640.3 300.3L638.6 298.7L635.2 297.4L631.8 296.5L628.5 297.4L625.1 297.9L622.6 299.1L620.9 300.6L616.7 300.4L614.1 301.4L611.6 302.5L608.2 302.1L606.5 301.3L606.9 299.9L607.7 297.4L606.5 294.9L605.7 291.5L604.0 288.1L604.0 285.6L603.8 283.9ZM656.6 312.1L659.7 312.7L662.5 312.2L662.7 314.3L661.9 316.3L660.2 317.0L658.8 316.8L657.7 315.1L656.6 313.1ZM703.9 301.4L706.1 303.3L707.4 305.5L709.1 305.3L709.4 306.8L712.0 307.2L713.7 307.0L712.8 308.9L711.1 309.9L711.0 311.4L708.3 313.6L707.3 313.1L708.1 311.2L706.1 310.2L705.7 309.5L707.1 308.4L707.4 306.7L706.4 304.8L704.4 302.8ZM96.5 301.4L98.7 303.3L100.0 305.5L101.7 305.3L102.1 306.8L104.6 307.2L106.3 307.0L105.4 308.9L103.7 309.9L103.6 311.4L100.9 313.6L99.9 313.1L100.7 311.2L98.7 310.2L98.3 309.5L99.7 308.4L100.0 306.7L99.0 304.8L97.0 302.8ZM703.9 311.7L704.9 312.6L706.4 313.1L706.4 313.9L704.4 315.9L704.0 317.3L701.5 318.1L700.7 320.7L698.5 322.0L696.5 322.0L693.8 321.2L693.4 320.5L695.9 318.1L698.5 316.8L701.0 315.1L702.7 312.6ZM633.5 244.7L636.1 244.1L638.6 244.7L638.9 247.6L640.3 249.0L642.8 247.1L645.3 246.1L648.7 247.3L650.4 247.8L653.8 249.1L656.3 250.0L658.5 251.8L660.5 253.5L661.9 254.7L660.9 255.2L662.2 257.2L663.9 258.9L665.6 260.3L666.9 260.8L664.7 260.9L662.2 260.6L660.5 259.4L658.8 257.2L656.3 256.4L654.6 257.4L653.8 259.1L651.2 258.9L648.7 257.2L646.2 257.4L645.3 256.1L646.7 254.9L645.3 252.7L642.0 251.2L639.4 250.1L636.9 250.3L636.6 249.0L638.1 247.6L635.7 247.1L633.5 245.8ZM596.9 242.9L596.4 241.2L597.6 240.0L600.1 240.4L600.6 238.7L603.2 238.0L604.8 235.8L607.4 234.5L609.4 231.8L610.4 232.3L611.1 233.4L613.6 234.5L612.4 235.8L611.3 236.3L610.7 238.0L611.6 239.7L613.3 241.7L611.3 242.1L610.7 244.2L609.1 245.9L608.7 248.5L608.2 250.1L606.0 250.3L603.2 248.8L601.1 249.1L598.4 248.1L598.1 245.9L596.7 244.7ZM573.3 234.0L577.0 234.6L579.0 237.0L581.7 239.2L583.8 240.4L586.3 242.4L587.6 244.2L588.8 246.4L591.3 248.5L591.2 251.0L591.0 253.2L588.8 253.0L587.1 251.5L585.1 250.1L582.9 247.6L581.7 245.1L579.5 242.9L578.7 240.5L576.7 238.7L574.5 236.7ZM590.0 254.9L592.2 253.5L595.6 254.4L598.9 254.7L599.8 254.2L602.6 255.0L605.7 256.4L605.5 257.9L601.5 257.4L598.1 256.9L594.7 256.6L592.0 255.7ZM615.0 241.7L616.7 241.2L620.0 241.9L623.4 240.7L622.6 242.6L620.0 242.7L616.7 242.6L615.0 243.4L615.0 244.7L617.5 244.9L620.5 244.9L618.3 246.4L617.5 246.8L618.8 248.8L620.0 250.1L619.5 251.3L617.7 251.5L617.5 250.0L616.5 248.0L615.5 248.5L615.6 252.7L614.1 252.7L614.1 249.3L612.9 248.0L613.8 245.6L614.6 243.4ZM616.0 212.2L618.7 212.4L618.7 215.6L617.7 218.1L619.2 219.4L621.7 220.1L621.9 222.1L620.4 221.1L618.3 220.1L616.7 220.3L616.0 219.3L616.5 218.6L615.1 218.1L615.5 216.1L615.6 213.9ZM618.3 231.6L620.0 229.9L620.9 228.9L623.9 227.0L625.6 229.1L625.9 231.3L625.1 232.8L624.2 233.8L623.9 232.8L621.7 232.4L621.7 231.1L620.5 230.7ZM622.2 222.3L623.9 222.3L624.6 224.5L623.4 226.2L622.6 225.2L622.4 224.0ZM618.3 223.5L620.2 224.0L620.4 227.4L619.2 227.2L619.4 225.5L618.3 225.5ZM610.2 229.2L611.6 227.9L614.1 224.3L613.6 226.0L611.3 228.9ZM615.6 220.8L617.3 221.0L617.2 222.6L616.3 222.1ZM650.2 173.4L651.2 175.1L652.1 176.8L651.2 178.8L650.4 180.1L650.1 182.7L649.6 184.0L648.4 184.3L647.0 184.9L645.7 185.0L643.6 185.0L643.3 185.5L641.6 186.9L640.4 185.5L638.6 185.0L636.1 185.7L633.5 186.2L633.5 185.2L636.1 183.7L638.9 183.5L641.6 183.3L643.3 181.3L644.2 180.1L643.6 181.1L646.2 180.5L647.9 178.4L648.7 176.2L648.7 174.9L649.2 173.9ZM649.0 173.2L650.7 172.9L650.4 171.7L653.8 172.5L654.3 172.5L658.0 170.5L657.7 168.8L654.6 168.8L652.1 166.8L651.6 167.0L651.6 169.2L650.9 170.5L649.4 170.5L648.5 171.7ZM633.4 186.2L634.7 186.9L635.2 188.1L634.2 190.4L633.0 191.1L632.2 190.6L632.2 188.6L631.3 187.7L631.8 186.9ZM636.1 186.0L638.9 185.5L639.8 186.4L638.9 187.2L636.9 188.1L635.9 187.2ZM652.1 151.8L653.4 151.8L654.1 154.0L654.3 156.5L655.5 159.0L656.3 160.7L653.8 160.4L653.3 163.3L654.6 164.4L654.4 165.5L652.9 164.8L652.1 165.8L651.7 164.1L652.1 161.6L652.1 159.0L651.6 156.5L651.7 153.5ZM617.5 200.9L618.2 201.6L617.3 204.6L616.3 206.3L615.3 204.9L615.1 203.2L616.7 201.2ZM595.9 211.0L597.2 209.7L599.4 209.7L599.8 210.5L598.1 212.4L596.4 212.4ZM547.1 227.0L548.8 228.2L550.5 230.7L550.2 232.6L548.3 233.4L547.3 231.9L547.1 229.6ZM495.7 263.6L497.4 269.6L496.5 272.1L495.2 275.5L493.5 280.5L491.8 285.6L488.8 286.6L486.7 285.6L485.6 281.4L487.1 277.7L487.2 272.9L489.3 270.2L492.6 268.7L494.3 266.2ZM402.9 159.0L406.6 158.5L410.8 157.9L414.7 157.0L415.2 154.5L413.0 154.0L412.5 153.0L410.3 151.1L409.6 149.6L407.4 148.9L409.1 146.4L406.6 146.0L407.1 144.5L404.1 144.5L402.7 146.4L403.2 148.1L402.4 149.6L404.1 150.6L404.2 151.1L406.6 150.9L407.4 152.6L407.1 153.5L404.9 153.5L405.4 154.8L403.7 156.0L406.6 156.7L407.4 156.8L404.9 157.4ZM402.4 155.3L402.0 153.5L403.1 151.4L401.5 150.3L398.7 150.3L398.2 151.4L395.6 152.0L396.0 153.5L396.8 154.5L395.1 155.7L396.0 156.5L398.5 156.0L401.5 155.5ZM433.6 179.3L438.8 178.9L438.0 181.5L433.6 180.0ZM426.3 174.2L428.9 174.2L428.9 177.3L426.8 177.6ZM427.0 171.9L428.4 170.9L428.5 172.7L428.0 173.5L427.2 172.9ZM467.0 184.3L468.2 183.8L470.7 183.3L469.9 184.3L468.2 185.0ZM452.3 183.5L456.9 184.0L453.8 184.3ZM430.6 109.3L439.5 108.4L443.7 109.3L447.9 110.6L443.7 112.6L440.8 114.2L437.0 112.8L435.3 111.5L431.1 110.6ZM443.7 108.1L450.5 107.6L458.1 108.4L454.7 109.6L447.9 109.6ZM448.8 111.5L453.0 112.1L450.5 113.0L447.9 112.6ZM499.4 122.6L502.8 121.1L501.9 119.4L506.1 116.9L510.4 115.5L518.8 114.3L528.1 113.5L523.9 115.2L514.6 116.9L510.4 118.9L507.8 121.1L509.5 124.1L505.3 124.3L501.9 123.8ZM573.6 109.8L577.8 107.9L581.2 108.4L582.9 109.8L581.2 111.0L576.2 110.4ZM581.2 111.3L588.8 111.3L589.7 112.3L584.6 112.3ZM572.8 106.7L577.0 106.4L575.3 108.1ZM643.6 116.5L646.2 114.8L652.9 115.2L658.0 116.0L654.6 116.9L650.4 117.0ZM648.7 118.7L653.8 119.2L651.2 119.7ZM660.5 116.2L666.4 116.5L663.9 117.2ZM713.7 123.4L719.6 122.8L720.4 123.6L716.2 123.9ZM106.3 123.4L112.2 122.8L113.0 123.6L108.8 123.9ZM491.8 107.6L498.5 106.9L496.9 107.9ZM505.3 106.9L513.7 105.9L517.1 107.1L510.4 107.9ZM309.1 131.0L305.4 129.0L300.3 128.2L297.3 126.0L298.6 125.0L293.6 123.6L289.3 122.4L286.0 121.4L281.7 120.6L276.7 119.1L269.9 119.6L267.4 120.2L262.3 119.4L261.5 121.1L262.3 123.6L264.9 124.5L269.1 125.3L274.1 125.5L279.2 126.0L283.4 127.0L286.0 128.2L288.5 129.0L290.2 130.4L287.6 132.9L281.7 133.2L280.9 134.4L283.4 135.1L289.3 134.7L292.7 136.8L296.1 137.9L301.1 139.0L302.8 137.9L297.8 135.9L301.1 136.8L303.7 136.6L304.5 134.6L300.3 132.4L298.6 131.2L302.8 132.4L305.4 133.7L307.9 132.6ZM215.1 123.1L220.2 119.7L230.3 119.9L235.3 121.1L241.2 120.7L242.1 125.3L237.0 127.3L230.3 127.2L221.8 127.8L216.8 126.6L214.3 125.0ZM201.6 122.3L205.0 118.2L213.4 118.2L216.8 120.2L211.7 122.6L205.0 123.3ZM284.3 103.4L297.8 103.2L307.9 104.2L302.8 106.7L291.0 109.3L284.3 110.1L280.9 113.5L274.1 114.5L264.0 114.2L262.3 111.8L267.4 110.1L265.7 107.6L259.0 105.9L267.4 104.5ZM277.5 116.0L276.7 117.5L267.4 117.7L257.3 117.4L257.3 114.3L264.0 114.7L270.8 115.5ZM215.1 115.3L221.8 117.7L232.0 117.0L233.7 115.2L226.9 114.3L220.2 113.8ZM250.5 108.4L257.3 106.2L266.6 108.4L263.2 111.3L255.6 110.4ZM240.4 118.9L248.0 118.7L248.8 121.1L245.5 122.9L240.4 121.1ZM251.4 118.5L259.8 118.5L260.7 120.2L255.6 122.1L251.4 121.1ZM265.7 132.7L269.9 132.9L275.8 135.4L276.7 136.3L270.8 136.8L267.4 135.9L265.7 134.6ZM244.6 126.1L250.5 125.6L251.4 127.5L247.2 127.8ZM237.0 114.3L246.3 114.0L248.0 116.0L243.8 116.9L237.9 116.4ZM312.4 163.1L315.5 157.9L318.9 156.3L318.4 158.7L322.2 160.2L323.6 163.3L322.2 164.8L318.9 164.1L316.3 163.3ZM196.0 157.9L201.6 158.7L204.3 161.7L200.8 161.1L196.9 159.0ZM269.3 206.5L273.3 204.4L277.5 204.6L282.6 207.0L287.3 209.3L281.7 209.8L280.1 207.8L275.0 206.3L272.5 206.3ZM287.0 212.4L289.3 209.8L294.4 210.0L297.1 212.0L293.6 212.7L291.5 213.5L289.3 212.5ZM280.4 212.4L283.8 212.7L282.6 213.4ZM299.1 212.4L301.7 212.5L300.3 213.2ZM296.8 332.3L293.6 333.7L292.9 334.7L291.0 335.2L294.4 336.5L299.5 336.7L302.5 335.7L300.3 334.8L297.8 333.3ZM309.6 330.0L314.6 330.0L313.8 331.5L310.1 331.5ZM149.3 209.3L151.0 210.2L150.0 211.3L149.3 210.3ZM431.1 149.9L433.6 148.9L433.6 150.3L432.4 150.8ZM443.2 147.1L444.6 145.7L444.2 146.9ZM620.9 260.8L623.4 258.6L626.8 257.6L625.9 258.6L622.6 260.6ZM606.5 257.2L609.1 257.6L613.3 257.6L616.7 257.6L620.0 257.4L619.2 258.2L613.3 258.2L608.2 258.4ZM627.6 240.0L629.3 240.9L629.6 242.9L628.1 244.7L628.1 242.1ZM628.5 248.5L633.2 248.6L631.8 249.6L628.8 249.3ZM662.7 252.8L665.6 251.8L669.3 250.5L669.0 252.3L665.6 253.9L663.0 253.5ZM502.4 222.1L504.5 222.1L503.6 222.6ZM83.5 398.6L83.5 362.9L91.9 364.0L93.6 365.7L88.6 367.4L83.5 369.4L81.0 371.6L85.2 374.2L91.9 374.7L100.4 375.0L108.8 375.5L125.7 375.8L142.5 375.3L147.6 373.7L159.4 372.1L167.9 370.8L184.7 369.1L198.2 367.7L210.0 368.3L220.2 368.6L226.9 369.4L237.0 369.6L238.7 366.2L247.2 364.9L250.5 366.2L260.7 366.6L269.1 367.4L277.5 366.9L284.3 365.7L289.3 364.0L294.4 360.7L297.8 357.3L301.1 354.8L304.5 353.1L309.6 351.2L315.5 350.2L313.8 351.9L310.4 353.4L307.9 355.6L305.4 358.1L307.9 361.5L309.6 364.9L310.4 368.3L307.9 370.8L314.6 372.5L324.8 374.2L334.9 375.0L345.0 375.0L353.4 374.2L361.9 371.6L368.6 369.1L378.8 366.6L387.2 364.9L395.6 363.2L404.1 362.3L412.5 361.5L420.9 361.5L429.4 361.5L437.8 361.2L446.2 361.5L454.7 361.8L463.1 360.7L471.6 359.8L476.6 361.2L480.0 359.8L488.4 357.6L496.9 355.6L501.9 354.6L508.7 355.9L513.7 356.9L522.2 357.5L528.9 357.8L530.6 359.0L534.0 361.2L537.4 361.0L540.7 360.2L544.1 358.6L550.9 356.8L557.6 355.6L564.3 355.9L572.8 355.6L581.2 354.4L589.7 355.1L598.1 354.8L606.5 355.6L615.0 356.1L623.4 355.3L631.8 354.8L640.3 354.8L648.7 355.9L657.1 356.4L665.6 358.6L674.0 359.8L682.5 361.5L690.9 362.9L699.3 364.0L701.0 365.7L695.9 367.4L690.9 369.4L688.4 371.6L692.6 374.2L699.3 374.7L707.8 375.0L716.2 375.5L733.1 375.8L733.1 398.6Z" fill="#c0c0c0" fill-opacity="0.220" stroke="#000" stroke-opacity="0.95" stroke-width="0.60"/>
<path d="M495.2 164.9L498.5 164.1L501.9 164.9L501.9 167.5L498.5 168.3L501.1 171.7L501.9 174.2L503.3 177.6L502.8 180.6L499.4 181.3L496.0 180.1L495.2 178.4L496.0 175.4L493.5 172.5L491.8 170.0L491.8 167.5ZM511.2 164.9L515.4 164.9L516.3 167.5L513.7 170.0L510.9 169.2L510.9 166.6ZM588.0 156.5L591.3 155.7L595.6 153.1L598.1 149.8L596.4 149.4L593.9 152.3L590.5 154.5L587.6 156.0ZM536.5 165.8L539.9 164.4L545.8 164.9L544.9 165.8L539.9 165.8L537.4 167.5ZM466.2 242.9L469.0 242.7L470.2 244.2L469.5 247.3L466.5 248.0L466.0 245.1ZM461.8 249.1L462.8 251.0L464.5 256.9L463.6 258.1L461.9 253.5ZM469.9 259.6L471.2 262.0L471.6 267.0L470.7 267.5L470.2 263.6ZM257.3 164.4L261.5 162.4L266.6 161.2L269.6 163.3L269.9 164.9L265.7 164.9L262.3 164.1L259.8 164.8ZM264.4 172.5L266.9 172.5L267.4 169.2L269.1 166.1L267.4 166.1L264.9 168.3ZM269.9 165.8L275.0 165.8L277.5 167.8L274.7 170.5L273.3 170.9L271.6 169.2L272.0 167.1ZM272.0 173.0L275.8 173.2L279.2 171.4L276.7 171.4L273.3 172.2ZM277.9 170.3L282.6 170.3L283.9 169.2L280.9 169.2ZM245.5 153.1L248.0 152.6L250.0 157.4L248.8 158.4L246.3 155.7ZM201.6 132.0L208.3 130.4L213.4 131.2L210.9 133.4L205.0 133.7ZM215.1 140.5L220.2 137.9L226.9 137.4L227.8 138.5L221.8 139.6L217.6 140.8ZM224.4 144.4L230.3 143.2L233.7 143.5L228.6 144.2ZM463.5 142.2L467.3 141.8L468.2 140.5L464.0 139.6ZM470.7 140.5L473.2 140.0L472.4 137.9L470.7 137.9ZM294.4 269.6L296.1 270.1L296.4 271.2L294.7 270.7ZM435.3 220.6L437.5 220.6L437.0 222.0L435.6 222.1ZM433.6 144.4L436.1 143.5L435.3 144.7Z" fill="#fff" fill-opacity="0.220" stroke="#000" stroke-opacity="0.95" stroke-width="0.60"/>
<path d="M629.3 121.9L625.1 123.6L620.9 127.5L622.2 133.6L627.4 135.8L631.3 138.5L635.0 136.4L640.1 138.8L640.9 141.0M631.3 138.5L627.4 139.6L620.0 141.2L614.0 141.3L606.5 141.0L603.2 142.5M531.4 131.2L524.7 131.5L522.7 133.7L523.9 137.1L528.9 140.5L535.7 140.5L541.6 140.5L545.8 143.0L550.9 146.4L555.1 147.7M551.7 122.8L554.2 125.3L558.4 127.5L560.1 132.0L560.0 133.6L563.0 137.9L565.2 140.5L567.7 144.7M538.2 123.6L539.0 126.1L543.4 129.0M598.1 118.5L591.3 120.2L585.4 121.9M650.1 154.1L647.0 156.5L643.6 158.2L640.3 161.7M327.3 244.7L324.8 245.9L319.7 247.3L313.8 248.8L311.3 248.8L306.2 249.8L302.8 248.5M617.5 190.1L615.0 189.4L612.9 189.2L610.7 191.1L608.2 193.1L605.3 191.8M439.8 247.1L442.4 244.4L443.7 242.6L446.2 240.4L450.5 240.0L453.0 241.7L455.2 242.7" fill="none" stroke="#000" stroke-opacity="0.95" stroke-width="0.60"/>
<path d="M174.6 126.0L174.6 141.7L178.0 142.2L180.5 143.9L183.9 142.7L187.3 144.7L190.1 147.7L193.2 148.9L192.3 150.9M205.0 160.7L251.9 160.7L252.6 160.2L257.3 161.6L261.5 162.4L264.0 161.9L269.4 164.4L271.6 165.8L273.3 167.0L273.6 170.0L272.5 172.5L275.8 172.2L279.2 171.2L279.2 170.2L283.4 169.2L286.5 167.5L291.9 167.5L294.4 164.9L296.1 163.4L298.1 164.1L298.1 166.3L299.5 167.5M214.9 188.6L218.8 188.4L225.2 190.6L229.9 190.6L229.9 189.7L232.8 189.7L236.2 193.3L238.7 194.5L239.6 193.1L242.1 193.6L244.6 197.0L245.5 198.9L248.5 199.7M256.9 218.9L257.3 217.8L258.1 216.4L259.8 216.1L259.0 214.4L262.0 213.4L262.0 216.6L263.5 216.9M262.0 213.4L263.5 212.2M263.5 216.9L261.8 219.1L260.5 220.1M261.8 219.1L264.4 220.8M265.0 221.5L267.4 219.8L269.9 218.4L272.1 218.1M267.9 224.7L271.3 225.0M272.6 229.7L273.1 227.4M281.1 231.3L282.1 228.9M292.2 223.5L289.3 227.9L290.5 230.7L294.4 231.6L298.6 232.9L298.1 236.7L299.5 241.4L294.7 241.5L295.4 245.4L294.4 250.5M294.4 250.5L293.6 249.8L290.2 247.4L287.6 245.1L285.5 243.6L281.7 242.7L279.4 241.0M285.5 243.6L285.1 245.9L280.9 248.8L279.2 251.8L277.0 249.1M311.3 229.1L309.1 231.6L309.6 234.1L310.1 234.6L307.1 236.7L303.7 236.7L304.5 240.0L301.1 241.7L299.5 241.4M316.0 233.3L314.6 236.7L317.2 240.0M321.4 233.6L320.5 239.5M325.3 236.3L323.9 239.2L320.5 239.5L317.2 240.0L313.8 241.2L311.6 240.0L311.3 236.7L310.1 234.6M294.4 250.5L289.3 251.8L288.0 255.7L290.2 259.4L293.6 259.4L293.4 262.0L295.2 262.0L296.6 264.5L296.1 268.7L295.2 272.9L293.9 274.4M295.2 262.0L302.2 259.9L302.8 263.6L307.9 266.2L310.4 266.7L311.3 270.7L314.1 270.9L315.1 273.8L314.6 276.8M295.2 272.9L296.9 275.5L297.8 279.7L299.5 281.9L302.8 280.7L306.7 280.9L308.2 276.5L314.6 276.8M314.6 276.8L315.0 280.7L318.5 281.0L320.9 283.9L320.4 286.6M306.7 280.9L313.8 285.6L315.3 286.3L313.6 289.5L318.0 289.5L320.4 286.6L321.9 288.1L318.4 291.1L315.3 294.4M315.3 294.4L318.0 295.4L322.2 300.3M315.3 294.4L314.3 298.2L314.0 300.8M299.5 281.9L296.9 285.2L297.3 289.0L294.7 294.0L294.4 299.1L293.6 304.1L292.4 309.2L291.4 314.3L291.5 319.3L290.2 325.2L288.8 328.6L291.0 331.1L297.1 331.8M296.8 332.3L296.8 336.0M408.8 184.2L409.6 187.7L410.5 189.1L406.6 191.1L404.1 193.1L397.8 195.0L397.8 196.7L390.2 196.7M397.8 196.7L397.8 199.5L392.3 199.5L392.3 203.8L390.6 204.6L390.6 207.5L383.8 207.5M397.8 197.3L404.4 201.2L414.5 207.8L418.1 211.3L419.6 211.2L422.6 210.5L425.2 208.3L432.7 203.8M427.0 181.1L426.3 185.2L425.2 186.4L427.7 189.4L428.5 192.3L429.2 197.8L429.2 201.2L432.7 203.8M431.9 187.4L429.9 189.7L428.5 192.3M455.0 190.1L454.7 206.3L474.6 206.3M432.7 203.8L436.5 205.3L437.8 204.6L453.0 210.5L453.0 209.7L454.7 209.7L454.7 206.3M404.4 201.2L403.2 209.7L403.2 215.6L403.2 217.2L396.8 217.2L394.4 217.4L393.1 217.1L391.9 218.4M384.7 216.2L388.0 215.4L390.6 217.2L391.9 218.4L393.3 222.5L389.4 222.1L384.3 222.6M384.2 220.8L388.9 220.6M389.4 222.1L387.5 224.8L387.2 225.0M393.3 222.5L397.3 222.6L399.0 226.2L398.2 230.6L396.6 230.9L395.1 229.1L393.9 226.5L390.1 228.2M395.1 229.1L393.1 231.8M398.2 230.6L399.8 236.0M399.0 226.2L403.2 225.9L404.9 222.0L409.1 219.4L412.8 218.1L418.4 217.4L419.6 215.1L419.6 211.2M403.2 225.9L407.8 227.0L407.4 234.8M407.8 227.0L407.8 224.8L412.5 224.7L413.5 229.1L414.5 233.1M414.0 224.8L415.2 232.8M412.8 218.1L416.5 223.3L414.0 224.8M416.5 223.3L418.6 223.7L417.1 232.8M418.6 223.7L420.1 220.3L424.3 221.5L427.7 221.8L432.7 221.1L435.4 220.3L438.7 215.1L439.2 209.1L437.8 204.6M426.8 235.5L428.5 232.4L431.9 231.9L434.4 228.2L436.5 224.3L436.5 222.3L435.4 220.3M436.5 222.3L437.8 226.5L438.7 230.7L443.7 229.9L447.9 227.4L451.1 224.8L450.1 221.5L453.0 216.9L453.0 210.5M438.7 230.7L437.0 235.0L439.5 239.7L434.4 239.7L429.0 239.5M431.6 239.7L431.6 241.7L429.0 241.7M434.8 239.7L436.8 241.2L436.0 243.7L437.0 246.6L433.9 246.8L432.7 247.4L431.2 250.0M439.5 239.7L443.9 237.5L443.9 236.1L450.5 236.5L454.7 235.0L458.7 234.8L453.0 229.1L451.1 224.8M443.9 237.5L442.4 244.4L439.8 247.1L438.3 250.7L436.8 251.7L434.6 251.2L433.3 253.0M477.5 213.0L474.1 218.1L473.6 222.3L470.2 225.2L468.2 229.9L471.6 234.3L473.1 235.6M474.1 219.3L478.3 218.8L484.0 222.3L483.0 224.8L484.7 225.0L486.7 228.2L491.8 229.9L493.5 229.9L488.4 235.0L483.4 236.3L481.7 236.8L476.6 237.3L473.1 235.6L469.9 236.3L464.8 237.2L464.5 237.5L458.7 234.8M485.4 224.0L484.7 225.0M481.7 236.8L481.7 245.1L482.7 246.3M464.5 237.5L465.3 239.7L462.6 242.1L462.4 245.8L461.4 248.0L462.1 250.8L462.4 254.4L464.5 257.4M469.9 236.3L471.6 240.9L469.9 243.1L469.7 245.1L475.9 248.5L478.6 251.3M469.7 245.1L464.0 245.1L462.4 245.8M464.0 245.1L464.5 247.4L463.8 250.8L462.1 250.8M461.4 248.0L464.5 247.4M464.5 257.4L468.0 259.3L469.9 259.4L471.4 263.0L475.8 263.1L480.7 261.1M433.1 253.4L434.8 253.4L440.5 253.4L442.2 257.1L445.2 255.2L447.1 255.7L449.3 255.7L449.6 262.0L453.0 262.0L453.0 265.3L449.6 265.3L449.6 270.7L452.0 273.1M432.4 272.4L436.1 272.8L443.7 272.8L447.9 273.8L452.0 273.1L455.2 273.4M453.0 262.0L456.4 263.5L458.9 264.2L461.4 266.0L462.8 266.0L462.4 264.0L460.4 263.5L460.8 259.1L464.5 257.4M468.0 259.3L468.7 263.6L467.7 266.3L468.5 267.0L463.5 268.7L461.3 270.4L458.1 273.6L455.2 273.4M471.4 263.0L470.9 266.2L473.1 268.5L472.9 270.4L472.1 272.3L470.4 270.4L470.7 267.9L468.5 267.0M463.5 268.7L468.0 271.6L468.2 275.5L467.3 279.3L465.3 281.2L462.1 280.9L458.9 278.0L455.2 273.4M452.0 273.8L447.9 274.3L447.9 280.5L446.2 280.5L446.2 285.2L447.4 288.6L450.8 286.4L455.5 286.8L457.9 283.4L462.1 280.9M446.2 285.2L446.2 291.3L442.0 292.0L440.3 291.7M465.3 281.2L466.5 284.7L466.5 288.6L468.0 288.6M464.8 287.3L466.5 287.3L466.5 289.5L464.8 289.3L464.5 288.1L464.8 287.3M458.2 293.3L460.9 291.7L462.1 293.0L460.4 295.0L458.6 294.5L458.2 293.3M473.4 182.7L474.9 181.5L480.0 181.3L484.0 180.6L488.1 180.6L487.1 176.9L488.1 176.4L486.1 174.1L482.5 173.4M456.4 174.6L457.0 173.0L459.7 172.5M484.0 180.6L482.0 185.2L478.0 187.0L474.6 188.9L472.7 188.2M471.7 187.6L472.7 188.2L472.4 190.3L471.6 193.6M473.2 185.0L474.1 185.5L473.7 186.9L472.7 187.4M470.4 190.6L471.4 193.6M471.6 193.8L473.4 194.1L475.8 192.8L474.9 190.3L478.3 189.2L478.6 189.1L478.0 187.0M478.6 189.1L483.4 190.8L487.9 194.1L490.8 194.3L493.0 195.3M490.8 194.3L492.1 192.8L493.5 193.0M488.1 180.6L489.1 182.7L490.6 183.2L489.3 185.5L490.3 187.7L493.0 189.1L493.0 191.1L494.3 192.8M484.7 215.7L485.6 213.9L488.8 214.0L491.8 214.7L493.5 212.7L500.2 211.3L505.3 209.7L506.5 206.3L505.6 205.1L501.2 204.8L499.6 202.6M505.6 205.1L506.6 202.6L507.5 201.4M500.2 211.3L502.1 215.2M498.2 201.6L499.2 201.9M503.4 180.5L509.0 178.9L512.6 180.1L515.8 181.6L514.6 185.2L515.1 190.3L516.8 190.4L515.3 193.1L518.5 197.5L519.1 198.5L516.4 200.9M488.1 176.4L491.0 177.8L493.5 176.4L495.0 178.6M515.3 193.1L524.4 193.0L529.4 189.6L530.6 186.9L532.6 186.0L533.3 181.8L538.2 181.0L538.9 180.6M515.8 181.6L521.3 182.2L524.7 180.3L527.2 181.0L530.6 180.0L533.1 179.3L533.3 181.5L538.9 180.6M527.6 203.4L531.4 202.2L532.3 200.4L530.6 198.5L531.4 196.2L535.5 194.5L538.4 190.9L538.2 188.1L537.0 185.5L542.4 183.5L545.6 187.2L546.1 188.6L545.3 190.6L549.2 192.4L554.2 194.6L557.6 196.2L561.1 196.3M538.9 180.6L542.4 183.5M547.6 194.8L549.2 192.4M547.6 194.8L553.0 197.2L555.9 198.4L561.1 198.9L561.1 196.3L562.3 197.3L564.0 195.8L567.0 196.5L571.1 194.1L574.5 193.8L576.7 195.8M562.3 197.3L564.0 198.4L567.7 198.0L567.0 196.5M562.3 207.0L561.1 202.1L561.6 199.0L564.0 199.7L564.0 200.9L568.4 201.1L566.4 203.2L566.9 204.6L568.2 203.4L568.7 207.5L568.2 208.5M568.7 207.5L569.9 204.6L572.3 200.4L574.5 197.5L576.7 195.8L579.0 197.0L579.0 199.9L577.2 202.9L579.4 204.3L580.4 206.3L583.1 207.1L581.4 209.1L577.8 210.2L577.0 212.2L579.0 215.9L578.2 217.8L579.9 222.0L580.5 223.7L579.0 226.2M581.4 209.1L582.1 210.5L583.2 210.5L582.9 213.4L584.8 212.7L587.8 212.5L589.1 214.0L589.1 216.1L590.7 218.1L590.5 219.1L586.3 219.4L585.3 220.6L586.1 223.7M581.4 232.6L583.1 233.6L584.8 232.9M583.1 207.1L584.8 205.6L586.3 208.3L589.0 209.0L588.0 210.5L590.0 211.8L592.2 214.7L593.7 217.2L593.9 218.6L590.5 219.1M593.9 218.6L593.9 222.3L591.0 224.0L588.8 225.9M584.8 205.6L588.0 205.1L590.5 204.3L592.5 204.9L594.7 207.1M597.4 240.0L598.1 241.9L601.5 240.9L604.0 241.2L606.2 240.0L607.4 237.5L607.4 236.1L610.7 236.3M650.4 247.8L650.4 258.8M621.7 259.1L623.4 259.4M560.6 160.4L566.0 164.4L566.0 167.1L573.6 168.8L575.0 171.2L582.9 171.5L589.7 173.2L597.2 171.7L601.3 169.7L601.3 167.5L604.2 167.8L608.6 166.3L612.4 164.6L614.8 164.4L611.1 162.9L607.5 162.6L608.2 161.1L609.4 159.4M560.6 160.4L567.7 157.7L571.9 159.0L578.2 158.2L577.8 155.7L584.9 156.8L585.1 158.2L593.0 159.4L595.6 160.2L602.3 159.9L609.4 159.4L613.8 158.5L616.1 154.8L620.9 153.1L625.1 154.3L627.6 158.7L632.7 160.9L633.5 162.9L639.8 161.7L638.9 163.6L637.1 167.3L633.9 167.6L633.7 170.9L632.8 171.9L631.5 171.0L628.5 172.5L626.6 172.9L622.2 175.9M625.3 179.6L629.1 178.3M495.7 165.3L491.8 162.1L491.0 161.6L491.8 159.9L494.3 159.0L498.5 156.3L504.5 157.4L511.4 157.4L516.3 157.0L515.4 153.0L516.4 152.5L522.2 151.6L528.9 150.1L532.3 152.0L536.5 152.3L542.1 151.8L543.9 153.5L547.5 157.5L553.4 157.4L556.4 159.7L559.8 160.6L557.6 161.6L556.9 163.8L552.5 163.8L551.4 166.6L547.5 167.5L548.8 170.7L547.8 172.4L542.1 174.4L537.4 175.9L536.8 176.9L538.9 178.4L538.9 180.6M501.1 172.9L505.1 172.7L507.0 173.7L507.0 167.5L511.4 166.5L515.4 168.7L517.1 170.0L522.0 169.7L524.0 170.9L523.9 172.5L527.2 174.2L528.9 173.5L532.1 172.0L536.5 171.7L538.7 170.9L547.8 172.4M507.0 173.7L508.7 173.7L510.4 171.7L513.7 172.2L516.9 174.1L521.3 177.6L524.7 180.3M527.2 181.0L526.9 176.8L531.4 175.6L536.8 176.9M528.9 173.5L532.3 173.9L535.7 174.7L531.4 175.6M397.7 172.7L401.4 172.7L400.9 175.4L400.7 176.4L400.2 179.3L400.0 180.6M409.6 170.2L413.7 171.4L417.9 171.9M425.2 169.5L424.3 168.7L424.3 166.0L422.8 165.3L425.3 163.1L426.3 160.7L423.3 159.9L419.6 159.0L416.9 157.2M418.2 156.7L420.9 156.7L422.6 157.7L422.6 155.8L424.3 154.8L424.6 153.5M422.6 157.7L423.3 159.9M425.3 163.1L428.7 163.3L430.2 164.3L429.5 165.3L427.7 166.0L424.3 166.0M428.7 163.3L434.4 163.3L434.1 162.1L435.8 161.2L437.8 160.7L441.2 161.2L441.4 162.4L439.7 164.3L435.6 164.9L433.1 164.1L430.2 164.3M435.6 164.9L435.6 166.3M435.8 161.2L433.1 158.7L437.5 157.4L436.6 152.5M437.5 157.4L441.0 158.5L444.2 159.9L450.6 160.6L453.2 158.0L452.3 155.7L452.8 152.5L451.0 151.6L445.9 151.6M444.2 159.9L441.2 161.2M441.4 162.4L444.2 162.8L447.1 161.6L450.0 161.7L450.6 160.6M450.0 161.7L451.1 162.4L447.9 165.5L446.8 165.6L444.4 166.0L440.5 165.1L439.7 164.3M451.1 162.4L454.5 162.9L457.4 161.9L460.1 166.6L462.6 167.1M457.4 161.9L461.8 162.6L463.3 165.1L460.1 166.6M460.8 169.7L458.1 169.0L450.8 168.8L448.6 167.8L446.8 165.6M450.8 168.8L450.3 172.0L451.3 173.7L456.5 173.7L457.0 173.0M446.2 176.4L447.9 174.6L451.3 173.7M445.2 172.7L447.1 172.2L447.1 174.2L447.9 174.6M435.4 166.6L438.3 166.6L440.5 165.1M439.2 167.1L441.2 167.1L444.6 167.5L445.2 168.8L444.9 170.0L443.7 171.5M439.5 170.0L439.2 167.1M444.6 167.5L444.7 166.0M445.2 168.8L447.1 171.0L447.1 172.2L450.3 172.0M427.2 150.8L429.2 150.9M431.2 143.9L433.6 141.3L433.1 137.1L437.0 133.7L440.3 129.5L447.1 127.0L455.9 127.0L456.4 125.3L459.7 125.3L461.4 126.8L464.6 126.0M453.3 132.4L452.5 129.5L447.1 127.0M461.4 126.8L460.6 127.8L463.1 129.2L461.6 130.7L463.1 132.6L462.6 134.6L465.6 137.3L459.4 141.3M459.7 143.0L458.7 146.4L453.7 145.7M458.7 146.4L460.1 148.6L457.4 149.4L454.7 148.4L447.9 148.7M457.4 149.4L455.5 152.0L452.1 152.5M448.3 150.1L451.0 151.6M460.1 148.6L464.8 149.8L464.5 151.8L467.7 153.3L466.2 155.5L464.1 156.7L458.1 156.5L452.3 156.3M466.2 155.5L470.4 155.8L472.4 158.4L476.6 159.2L480.2 159.7L479.7 162.8L477.0 163.9M480.0 170.2L485.0 171.4L491.0 172.9L494.3 172.9M486.1 174.1L488.4 173.9L491.0 172.9M488.4 173.9L491.0 177.8M400.2 150.6L398.7 151.4L401.9 152.1" fill="none" stroke="#000" stroke-width="0.85"/>
</g>
<rect x="100.5" y="97.5" width="620" height="299" fill="none" stroke="#000" stroke-width="1"/>
<text class="t" x="409.9" y="91" text-anchor="middle" textLength="573.4" lengthAdjust="spacing">Nequick-Galileo VTEC : 11 Hour of 190 DOY [2019/07/09]</text>
<rect x="100.5" y="468.5" width="620" height="30.5" fill="url(#jet)" stroke="#000" stroke-width="1"/>
<line x1="161.50" x2="161.50" y1="493.5" y2="499" stroke="#000" stroke-width="0.8"/>
<text class="l" x="161.00" y="518.6" text-anchor="middle">0.25</text>
<line x1="226.14" x2="226.14" y1="493.5" y2="499" stroke="#000" stroke-width="0.8"/>
<text class="l" x="225.64" y="518.6" text-anchor="middle">0.50</text>
<line x1="290.78" x2="290.78" y1="493.5" y2="499" stroke="#000" stroke-width="0.8"/>
<text class="l" x="290.28" y="518.6" text-anchor="middle">0.75</text>
<line x1="355.42" x2="355.42" y1="493.5" y2="499" stroke="#000" stroke-width="0.8"/>
<text class="l" x="354.92" y="518.6" text-anchor="middle">1.00</text>
<line x1="420.06" x2="420.06" y1="493.5" y2="499" stroke="#000" stroke-width="0.8"/>
<text class="l" x="419.56" y="518.6" text-anchor="middle">1.25</text>
<line x1="484.70" x2="484.70" y1="493.5" y2="499" stroke="#000" stroke-width="0.8"/>
<text class="l" x="484.20" y="518.6" text-anchor="middle">1.50</text>
<line x1="549.34" x2="549.34" y1="493.5" y2="499" stroke="#000" stroke-width="0.8"/>
<text class="l" x="548.84" y="518.6" text-anchor="middle">1.75</text>
<line x1="613.98" x2="613.98" y1="493.5" y2="499" stroke="#000" stroke-width="0.8"/>
<text class="l" x="613.48" y="518.6" text-anchor="middle">2.00</text>
<line x1="678.62" x2="678.62" y1="493.5" y2="499" stroke="#000" stroke-width="0.8"/>
<text class="l" x="678.12" y="518.6" text-anchor="middle">2.25</text>
<text class="l" x="409.3" y="543.2" text-anchor="middle">VTEC</text>
<text class="l" x="720.8" y="540.6" text-anchor="end">1e17</text>
</svg></body></html>
